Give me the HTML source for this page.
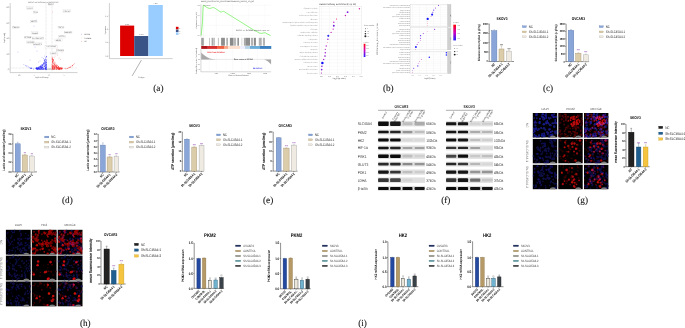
<!DOCTYPE html>
<html><head><meta charset="utf-8"><style>
html,body{margin:0;padding:0;background:#fff;}
body{width:685px;height:328px;overflow:hidden;}
svg{display:block;font-family:"Liberation Sans",sans-serif;text-rendering:geometricPrecision;}
</style></head><body>
<svg width="685" height="328" viewBox="0 0 685 328">
<text x="153.3" y="91.3" font-size="9.2" fill="#111" text-anchor="start" font-weight="normal" font-family="Liberation Serif" stroke="#111" stroke-width="0.1">(a)</text>
<text x="382.9" y="91.3" font-size="9.2" fill="#111" text-anchor="start" font-weight="normal" font-family="Liberation Serif" stroke="#111" stroke-width="0.1">(b)</text>
<text x="542.9" y="91.3" font-size="9.2" fill="#111" text-anchor="start" font-weight="normal" font-family="Liberation Serif" stroke="#111" stroke-width="0.1">(c)</text>
<text x="62" y="203.4" font-size="9.2" fill="#111" text-anchor="start" font-weight="normal" font-family="Liberation Serif" stroke="#111" stroke-width="0.1">(d)</text>
<text x="263" y="203.4" font-size="9.2" fill="#111" text-anchor="start" font-weight="normal" font-family="Liberation Serif" stroke="#111" stroke-width="0.1">(e)</text>
<text x="441.2" y="203.4" font-size="9.2" fill="#111" text-anchor="start" font-weight="normal" font-family="Liberation Serif" stroke="#111" stroke-width="0.1">(f)</text>
<text x="577.3" y="203.4" font-size="9.2" fill="#111" text-anchor="start" font-weight="normal" font-family="Liberation Serif" stroke="#111" stroke-width="0.1">(g)</text>
<text x="79.9" y="326" font-size="9.2" fill="#111" text-anchor="start" font-weight="normal" font-family="Liberation Serif" stroke="#111" stroke-width="0.1">(h)</text>
<text x="358.2" y="326" font-size="9.2" fill="#111" text-anchor="start" font-weight="normal" font-family="Liberation Serif" stroke="#111" stroke-width="0.1">(i)</text>
<text x="28" y="2.6" font-size="1.9" fill="#666" text-anchor="start" font-weight="normal" font-family="Liberation Sans">SKOV3-sh-SLC45A4 vs SKOV3-NC</text>
<line x1="10.2" y1="3" x2="10.2" y2="72.6" stroke="#777" stroke-width="0.35"/>
<line x1="10.2" y1="72.6" x2="77.5" y2="72.6" stroke="#777" stroke-width="0.35"/>
<text x="8.8" y="8" font-size="2" fill="#666" text-anchor="end" font-weight="normal" font-family="Liberation Sans">80</text>
<line x1="9.4" y1="7.3" x2="10.2" y2="7.3" stroke="#777" stroke-width="0.3"/>
<text x="8.8" y="23.6" font-size="2" fill="#666" text-anchor="end" font-weight="normal" font-family="Liberation Sans">60</text>
<line x1="9.4" y1="22.9" x2="10.2" y2="22.9" stroke="#777" stroke-width="0.3"/>
<text x="8.8" y="39.2" font-size="2" fill="#666" text-anchor="end" font-weight="normal" font-family="Liberation Sans">40</text>
<line x1="9.4" y1="38.5" x2="10.2" y2="38.5" stroke="#777" stroke-width="0.3"/>
<text x="8.8" y="54.8" font-size="2" fill="#666" text-anchor="end" font-weight="normal" font-family="Liberation Sans">20</text>
<line x1="9.4" y1="54.1" x2="10.2" y2="54.1" stroke="#777" stroke-width="0.3"/>
<text x="8.8" y="70.4" font-size="2" fill="#666" text-anchor="end" font-weight="normal" font-family="Liberation Sans">0</text>
<line x1="9.4" y1="69.7" x2="10.2" y2="69.7" stroke="#777" stroke-width="0.3"/>
<text x="19" y="75.6" font-size="2" fill="#666" text-anchor="middle" font-weight="normal" font-family="Liberation Sans">-10</text>
<text x="34" y="75.6" font-size="2" fill="#666" text-anchor="middle" font-weight="normal" font-family="Liberation Sans">-5</text>
<text x="49" y="75.6" font-size="2" fill="#666" text-anchor="middle" font-weight="normal" font-family="Liberation Sans">0</text>
<text x="64" y="75.6" font-size="2" fill="#666" text-anchor="middle" font-weight="normal" font-family="Liberation Sans">5</text>
<text x="42" y="78.2" font-size="1.9" fill="#666" text-anchor="middle" font-weight="normal" font-family="Liberation Sans">log2FoldChange</text>
<text x="4.5" y="38" font-size="1.9" fill="#666" text-anchor="middle" font-weight="normal" font-family="Liberation Sans" transform="rotate(-90 4.5 38)">-log10(padj)</text>
<line x1="46" y1="3" x2="46" y2="72" stroke="#999" stroke-width="0.25" stroke-dasharray="0.8 0.6"/>
<line x1="52" y1="3" x2="52" y2="72" stroke="#999" stroke-width="0.25" stroke-dasharray="0.8 0.6"/>
<line x1="10.5" y1="68" x2="77" y2="68" stroke="#999" stroke-width="0.25" stroke-dasharray="0.8 0.6"/>
<circle cx="41.04" cy="69.09" r="0.32" fill="#cccccc"/>
<circle cx="50.46" cy="68.62" r="0.32" fill="#cccccc"/>
<circle cx="39.13" cy="69.07" r="0.32" fill="#cccccc"/>
<circle cx="56.22" cy="68.98" r="0.32" fill="#cccccc"/>
<circle cx="53.42" cy="69.08" r="0.32" fill="#cccccc"/>
<circle cx="49.16" cy="69.59" r="0.32" fill="#cccccc"/>
<circle cx="49.16" cy="69.09" r="0.32" fill="#cccccc"/>
<circle cx="48.19" cy="69.41" r="0.32" fill="#cccccc"/>
<circle cx="56.27" cy="68.92" r="0.32" fill="#cccccc"/>
<circle cx="45.25" cy="69.26" r="0.32" fill="#cccccc"/>
<circle cx="47.68" cy="69.51" r="0.32" fill="#cccccc"/>
<circle cx="59.49" cy="69.35" r="0.32" fill="#cccccc"/>
<circle cx="46.91" cy="68.94" r="0.32" fill="#cccccc"/>
<circle cx="61.59" cy="68.93" r="0.32" fill="#cccccc"/>
<circle cx="45.65" cy="69.53" r="0.32" fill="#cccccc"/>
<circle cx="45.82" cy="68.3" r="0.32" fill="#cccccc"/>
<circle cx="51.63" cy="69.36" r="0.32" fill="#cccccc"/>
<circle cx="51.45" cy="69.12" r="0.32" fill="#cccccc"/>
<circle cx="45.97" cy="69.54" r="0.32" fill="#cccccc"/>
<circle cx="60.94" cy="68.25" r="0.32" fill="#cccccc"/>
<circle cx="51.1" cy="68.79" r="0.32" fill="#cccccc"/>
<circle cx="52.7" cy="68.45" r="0.32" fill="#cccccc"/>
<circle cx="51.25" cy="69.51" r="0.32" fill="#cccccc"/>
<circle cx="48.34" cy="69.09" r="0.32" fill="#cccccc"/>
<circle cx="57.18" cy="68.89" r="0.32" fill="#cccccc"/>
<circle cx="48.38" cy="69.29" r="0.32" fill="#cccccc"/>
<circle cx="45.07" cy="68.27" r="0.32" fill="#cccccc"/>
<circle cx="47.09" cy="69.52" r="0.32" fill="#cccccc"/>
<circle cx="49.72" cy="69.09" r="0.32" fill="#cccccc"/>
<circle cx="48.19" cy="69.22" r="0.32" fill="#cccccc"/>
<circle cx="50.54" cy="69.2" r="0.32" fill="#cccccc"/>
<circle cx="44.48" cy="68.69" r="0.32" fill="#cccccc"/>
<circle cx="43.87" cy="68.97" r="0.32" fill="#cccccc"/>
<circle cx="53.99" cy="69.07" r="0.32" fill="#cccccc"/>
<circle cx="49.56" cy="69.1" r="0.32" fill="#cccccc"/>
<circle cx="55.64" cy="69.2" r="0.32" fill="#cccccc"/>
<circle cx="47.8" cy="68.75" r="0.32" fill="#cccccc"/>
<circle cx="61.05" cy="68.68" r="0.32" fill="#cccccc"/>
<circle cx="43.3" cy="69.33" r="0.32" fill="#cccccc"/>
<circle cx="47.51" cy="69.56" r="0.32" fill="#cccccc"/>
<circle cx="45.69" cy="69.31" r="0.32" fill="#cccccc"/>
<circle cx="48.95" cy="68.52" r="0.32" fill="#cccccc"/>
<circle cx="52.5" cy="69.34" r="0.32" fill="#cccccc"/>
<circle cx="49.13" cy="69.15" r="0.32" fill="#cccccc"/>
<circle cx="47.85" cy="68.86" r="0.32" fill="#cccccc"/>
<circle cx="53.15" cy="68.42" r="0.32" fill="#cccccc"/>
<circle cx="50.3" cy="69.59" r="0.32" fill="#cccccc"/>
<circle cx="40.91" cy="69.36" r="0.32" fill="#cccccc"/>
<circle cx="40.38" cy="68.68" r="0.32" fill="#cccccc"/>
<circle cx="45.85" cy="69.6" r="0.32" fill="#cccccc"/>
<circle cx="42.25" cy="69.3" r="0.32" fill="#cccccc"/>
<circle cx="44.34" cy="68.92" r="0.32" fill="#cccccc"/>
<circle cx="50.24" cy="68.89" r="0.32" fill="#cccccc"/>
<circle cx="39.34" cy="69.56" r="0.32" fill="#cccccc"/>
<circle cx="46.57" cy="68.93" r="0.32" fill="#cccccc"/>
<circle cx="51.95" cy="69.49" r="0.32" fill="#cccccc"/>
<circle cx="49.56" cy="69.25" r="0.32" fill="#cccccc"/>
<circle cx="46.15" cy="69.32" r="0.32" fill="#cccccc"/>
<circle cx="40.99" cy="69.22" r="0.32" fill="#cccccc"/>
<circle cx="51.02" cy="68.57" r="0.32" fill="#cccccc"/>
<circle cx="49.51" cy="68.91" r="0.32" fill="#cccccc"/>
<circle cx="50.18" cy="68.82" r="0.32" fill="#cccccc"/>
<circle cx="47.66" cy="69.6" r="0.32" fill="#cccccc"/>
<circle cx="42.5" cy="69.06" r="0.32" fill="#cccccc"/>
<circle cx="39.88" cy="69.06" r="0.32" fill="#cccccc"/>
<circle cx="50.22" cy="69.29" r="0.32" fill="#cccccc"/>
<circle cx="54.82" cy="69.52" r="0.32" fill="#cccccc"/>
<circle cx="44.05" cy="69.34" r="0.32" fill="#cccccc"/>
<circle cx="48.27" cy="68.53" r="0.32" fill="#cccccc"/>
<circle cx="58.79" cy="69.02" r="0.32" fill="#cccccc"/>
<circle cx="43.32" cy="69.28" r="0.32" fill="#cccccc"/>
<circle cx="49.95" cy="69.17" r="0.32" fill="#cccccc"/>
<circle cx="51.62" cy="69.19" r="0.32" fill="#cccccc"/>
<circle cx="53.19" cy="69.46" r="0.32" fill="#cccccc"/>
<circle cx="44.58" cy="69.09" r="0.32" fill="#cccccc"/>
<circle cx="48.38" cy="68.8" r="0.32" fill="#cccccc"/>
<circle cx="56.87" cy="69.01" r="0.32" fill="#cccccc"/>
<circle cx="50.81" cy="69.19" r="0.32" fill="#cccccc"/>
<circle cx="53.11" cy="68.82" r="0.32" fill="#cccccc"/>
<circle cx="53.28" cy="68.68" r="0.32" fill="#cccccc"/>
<circle cx="53.77" cy="69.37" r="0.32" fill="#cccccc"/>
<circle cx="46.7" cy="69.28" r="0.32" fill="#cccccc"/>
<circle cx="50.44" cy="69.57" r="0.32" fill="#cccccc"/>
<circle cx="40.56" cy="69.53" r="0.32" fill="#cccccc"/>
<circle cx="51.78" cy="69.57" r="0.32" fill="#cccccc"/>
<circle cx="41.06" cy="69.33" r="0.32" fill="#cccccc"/>
<circle cx="52.6" cy="69.49" r="0.32" fill="#cccccc"/>
<circle cx="51.13" cy="69.39" r="0.32" fill="#cccccc"/>
<circle cx="45.71" cy="69.29" r="0.32" fill="#cccccc"/>
<circle cx="47.23" cy="69.49" r="0.32" fill="#cccccc"/>
<circle cx="65.28" cy="69.17" r="0.32" fill="#cccccc"/>
<circle cx="49.68" cy="68.63" r="0.32" fill="#cccccc"/>
<circle cx="49.48" cy="69.15" r="0.32" fill="#cccccc"/>
<circle cx="45.48" cy="69.46" r="0.32" fill="#cccccc"/>
<circle cx="37.73" cy="69.27" r="0.32" fill="#cccccc"/>
<circle cx="46.02" cy="69.19" r="0.32" fill="#cccccc"/>
<circle cx="55.82" cy="69.5" r="0.32" fill="#cccccc"/>
<circle cx="53.92" cy="69.45" r="0.32" fill="#cccccc"/>
<circle cx="47.98" cy="69.43" r="0.32" fill="#cccccc"/>
<circle cx="44.74" cy="68.83" r="0.32" fill="#cccccc"/>
<circle cx="53.4" cy="69" r="0.32" fill="#cccccc"/>
<circle cx="53.21" cy="69.16" r="0.32" fill="#cccccc"/>
<circle cx="41.47" cy="68.88" r="0.32" fill="#cccccc"/>
<circle cx="42.6" cy="68.89" r="0.32" fill="#cccccc"/>
<circle cx="50" cy="69.06" r="0.32" fill="#cccccc"/>
<circle cx="51.56" cy="68.91" r="0.32" fill="#cccccc"/>
<circle cx="50.74" cy="69.25" r="0.32" fill="#cccccc"/>
<circle cx="50.24" cy="68.94" r="0.32" fill="#cccccc"/>
<circle cx="47.04" cy="68.99" r="0.32" fill="#cccccc"/>
<circle cx="56.53" cy="69.56" r="0.32" fill="#cccccc"/>
<circle cx="51.2" cy="69.29" r="0.32" fill="#cccccc"/>
<circle cx="47.56" cy="69.44" r="0.32" fill="#cccccc"/>
<circle cx="47.29" cy="69.07" r="0.32" fill="#cccccc"/>
<circle cx="48.85" cy="69.49" r="0.32" fill="#cccccc"/>
<circle cx="50.62" cy="69.17" r="0.32" fill="#cccccc"/>
<circle cx="40.13" cy="68.75" r="0.32" fill="#cccccc"/>
<circle cx="48.14" cy="69.14" r="0.32" fill="#cccccc"/>
<circle cx="47.14" cy="69.33" r="0.32" fill="#cccccc"/>
<circle cx="53.35" cy="69.38" r="0.32" fill="#cccccc"/>
<circle cx="49.79" cy="68.64" r="0.32" fill="#cccccc"/>
<circle cx="43.37" cy="65.95" r="0.32" fill="#2626f5"/>
<circle cx="37.18" cy="68.73" r="0.32" fill="#2626f5"/>
<circle cx="42.76" cy="66.17" r="0.32" fill="#2626f5"/>
<circle cx="45.76" cy="64.56" r="0.32" fill="#2626f5"/>
<circle cx="41.3" cy="65.96" r="0.32" fill="#2626f5"/>
<circle cx="46.29" cy="66.8" r="0.32" fill="#2626f5"/>
<circle cx="46.31" cy="59.38" r="0.32" fill="#2626f5"/>
<circle cx="40.48" cy="69.26" r="0.32" fill="#2626f5"/>
<circle cx="36.28" cy="67.87" r="0.32" fill="#2626f5"/>
<circle cx="40.99" cy="67.13" r="0.32" fill="#2626f5"/>
<circle cx="45.94" cy="69.27" r="0.32" fill="#2626f5"/>
<circle cx="42.53" cy="69.18" r="0.32" fill="#2626f5"/>
<circle cx="45.72" cy="67.65" r="0.32" fill="#2626f5"/>
<circle cx="46.54" cy="64.57" r="0.32" fill="#2626f5"/>
<circle cx="43.5" cy="63.2" r="0.32" fill="#2626f5"/>
<circle cx="42.64" cy="65.87" r="0.32" fill="#2626f5"/>
<circle cx="42.85" cy="65.52" r="0.32" fill="#2626f5"/>
<circle cx="43.32" cy="68.06" r="0.32" fill="#2626f5"/>
<circle cx="36.04" cy="67.81" r="0.32" fill="#2626f5"/>
<circle cx="38.44" cy="67.97" r="0.32" fill="#2626f5"/>
<circle cx="44.72" cy="68.03" r="0.32" fill="#2626f5"/>
<circle cx="44.95" cy="69.05" r="0.32" fill="#2626f5"/>
<circle cx="39.49" cy="68.51" r="0.32" fill="#2626f5"/>
<circle cx="38.34" cy="68.74" r="0.32" fill="#2626f5"/>
<circle cx="36.66" cy="68.07" r="0.32" fill="#2626f5"/>
<circle cx="46.6" cy="67.73" r="0.32" fill="#2626f5"/>
<circle cx="37.39" cy="68.7" r="0.32" fill="#2626f5"/>
<circle cx="36.31" cy="68.88" r="0.32" fill="#2626f5"/>
<circle cx="46.39" cy="62.23" r="0.32" fill="#2626f5"/>
<circle cx="39.32" cy="68.86" r="0.32" fill="#2626f5"/>
<circle cx="46.33" cy="66.44" r="0.32" fill="#2626f5"/>
<circle cx="36.57" cy="68.26" r="0.32" fill="#2626f5"/>
<circle cx="46.17" cy="67.47" r="0.32" fill="#2626f5"/>
<circle cx="46.26" cy="69.04" r="0.32" fill="#2626f5"/>
<circle cx="39.06" cy="69.07" r="0.32" fill="#2626f5"/>
<circle cx="42.17" cy="67.44" r="0.32" fill="#2626f5"/>
<circle cx="45.72" cy="61.54" r="0.32" fill="#2626f5"/>
<circle cx="46.1" cy="62.37" r="0.32" fill="#2626f5"/>
<circle cx="46.18" cy="65.42" r="0.32" fill="#2626f5"/>
<circle cx="45.56" cy="67.44" r="0.32" fill="#2626f5"/>
<circle cx="36.46" cy="68.18" r="0.32" fill="#2626f5"/>
<circle cx="44.82" cy="60.74" r="0.32" fill="#2626f5"/>
<circle cx="45.57" cy="66.12" r="0.32" fill="#2626f5"/>
<circle cx="38.23" cy="68.2" r="0.32" fill="#2626f5"/>
<circle cx="46.26" cy="56.28" r="0.32" fill="#2626f5"/>
<circle cx="45.56" cy="67.55" r="0.32" fill="#2626f5"/>
<circle cx="39.4" cy="68.71" r="0.32" fill="#2626f5"/>
<circle cx="44.89" cy="69.03" r="0.32" fill="#2626f5"/>
<circle cx="46.31" cy="63.04" r="0.32" fill="#2626f5"/>
<circle cx="45.33" cy="63.81" r="0.32" fill="#2626f5"/>
<circle cx="44.2" cy="66.34" r="0.32" fill="#2626f5"/>
<circle cx="36.64" cy="68.74" r="0.32" fill="#2626f5"/>
<circle cx="41.98" cy="64.81" r="0.32" fill="#2626f5"/>
<circle cx="45.77" cy="68.42" r="0.32" fill="#2626f5"/>
<circle cx="37.42" cy="68" r="0.32" fill="#2626f5"/>
<circle cx="45.28" cy="68.22" r="0.32" fill="#2626f5"/>
<circle cx="39.86" cy="66.4" r="0.32" fill="#2626f5"/>
<circle cx="45.68" cy="58.21" r="0.32" fill="#2626f5"/>
<circle cx="37.82" cy="68.38" r="0.32" fill="#2626f5"/>
<circle cx="43.7" cy="68.96" r="0.32" fill="#2626f5"/>
<circle cx="46.52" cy="56.21" r="0.32" fill="#2626f5"/>
<circle cx="45.37" cy="62.4" r="0.32" fill="#2626f5"/>
<circle cx="45.22" cy="60.95" r="0.32" fill="#2626f5"/>
<circle cx="41.72" cy="68.38" r="0.32" fill="#2626f5"/>
<circle cx="45.82" cy="61.57" r="0.32" fill="#2626f5"/>
<circle cx="46.41" cy="67.59" r="0.32" fill="#2626f5"/>
<circle cx="42.17" cy="64.72" r="0.32" fill="#2626f5"/>
<circle cx="41.5" cy="68.48" r="0.32" fill="#2626f5"/>
<circle cx="37.29" cy="69.12" r="0.32" fill="#2626f5"/>
<circle cx="46.58" cy="67.08" r="0.32" fill="#2626f5"/>
<circle cx="43.45" cy="69.15" r="0.32" fill="#2626f5"/>
<circle cx="45.82" cy="66.28" r="0.32" fill="#2626f5"/>
<circle cx="42.01" cy="68.98" r="0.32" fill="#2626f5"/>
<circle cx="44.29" cy="61.52" r="0.32" fill="#2626f5"/>
<circle cx="36.31" cy="68.46" r="0.32" fill="#2626f5"/>
<circle cx="40.51" cy="67.53" r="0.32" fill="#2626f5"/>
<circle cx="46.04" cy="69.18" r="0.32" fill="#2626f5"/>
<circle cx="46.57" cy="57.08" r="0.32" fill="#2626f5"/>
<circle cx="40.38" cy="65.85" r="0.32" fill="#2626f5"/>
<circle cx="46.57" cy="61.91" r="0.32" fill="#2626f5"/>
<circle cx="43.05" cy="64.77" r="0.32" fill="#2626f5"/>
<circle cx="44.69" cy="59.41" r="0.32" fill="#2626f5"/>
<circle cx="46.38" cy="63.52" r="0.32" fill="#2626f5"/>
<circle cx="39.89" cy="66.55" r="0.32" fill="#2626f5"/>
<circle cx="39.89" cy="67.35" r="0.32" fill="#2626f5"/>
<circle cx="39.11" cy="67.02" r="0.32" fill="#2626f5"/>
<circle cx="44.39" cy="63.81" r="0.32" fill="#2626f5"/>
<circle cx="37.54" cy="67.85" r="0.32" fill="#2626f5"/>
<circle cx="43.74" cy="63.42" r="0.32" fill="#2626f5"/>
<circle cx="38.09" cy="68.39" r="0.32" fill="#2626f5"/>
<circle cx="41.36" cy="68.08" r="0.32" fill="#2626f5"/>
<circle cx="41.89" cy="66.63" r="0.32" fill="#2626f5"/>
<circle cx="46.36" cy="62.11" r="0.32" fill="#2626f5"/>
<circle cx="36.11" cy="68.05" r="0.32" fill="#2626f5"/>
<circle cx="40.01" cy="68.42" r="0.32" fill="#2626f5"/>
<circle cx="39.92" cy="67.8" r="0.32" fill="#2626f5"/>
<circle cx="43.5" cy="63.24" r="0.32" fill="#2626f5"/>
<circle cx="46.34" cy="60.34" r="0.32" fill="#2626f5"/>
<circle cx="46.55" cy="62.49" r="0.32" fill="#2626f5"/>
<circle cx="43.06" cy="68.4" r="0.32" fill="#2626f5"/>
<circle cx="40.41" cy="67.92" r="0.32" fill="#2626f5"/>
<circle cx="41.49" cy="64.97" r="0.32" fill="#2626f5"/>
<circle cx="45.23" cy="69.28" r="0.32" fill="#2626f5"/>
<circle cx="44.85" cy="63.37" r="0.32" fill="#2626f5"/>
<circle cx="45.63" cy="68.31" r="0.32" fill="#2626f5"/>
<circle cx="37.46" cy="68.33" r="0.32" fill="#2626f5"/>
<circle cx="43.49" cy="62.71" r="0.32" fill="#2626f5"/>
<circle cx="44.62" cy="63.77" r="0.32" fill="#2626f5"/>
<circle cx="45.66" cy="65.64" r="0.32" fill="#2626f5"/>
<circle cx="38.93" cy="67.13" r="0.32" fill="#2626f5"/>
<circle cx="37.85" cy="68.81" r="0.32" fill="#2626f5"/>
<circle cx="41.88" cy="68.23" r="0.32" fill="#2626f5"/>
<circle cx="46.07" cy="64.51" r="0.32" fill="#2626f5"/>
<circle cx="38.48" cy="67.56" r="0.32" fill="#2626f5"/>
<circle cx="40.24" cy="66.04" r="0.32" fill="#2626f5"/>
<circle cx="45.06" cy="68.42" r="0.32" fill="#2626f5"/>
<circle cx="43.39" cy="68.06" r="0.32" fill="#2626f5"/>
<circle cx="45.55" cy="65.91" r="0.32" fill="#2626f5"/>
<circle cx="41.35" cy="67.55" r="0.32" fill="#2626f5"/>
<circle cx="44.72" cy="61.51" r="0.32" fill="#2626f5"/>
<circle cx="36.28" cy="68.8" r="0.32" fill="#2626f5"/>
<circle cx="46.38" cy="69.19" r="0.32" fill="#2626f5"/>
<circle cx="37.96" cy="69.28" r="0.32" fill="#2626f5"/>
<circle cx="40.28" cy="67.69" r="0.32" fill="#2626f5"/>
<circle cx="44.78" cy="62.04" r="0.32" fill="#2626f5"/>
<circle cx="46.57" cy="68.45" r="0.32" fill="#2626f5"/>
<circle cx="43.35" cy="69.26" r="0.32" fill="#2626f5"/>
<circle cx="38.59" cy="69" r="0.32" fill="#2626f5"/>
<circle cx="46.04" cy="69.12" r="0.32" fill="#2626f5"/>
<circle cx="41.31" cy="67.8" r="0.32" fill="#2626f5"/>
<circle cx="41.3" cy="66.74" r="0.32" fill="#2626f5"/>
<circle cx="38.91" cy="67" r="0.32" fill="#2626f5"/>
<circle cx="40.6" cy="68.9" r="0.32" fill="#2626f5"/>
<circle cx="43.13" cy="68.66" r="0.32" fill="#2626f5"/>
<circle cx="46.59" cy="64.41" r="0.32" fill="#2626f5"/>
<circle cx="40.2" cy="68.99" r="0.32" fill="#2626f5"/>
<circle cx="45.09" cy="66.88" r="0.32" fill="#2626f5"/>
<circle cx="40.43" cy="67.82" r="0.32" fill="#2626f5"/>
<circle cx="41.49" cy="66.01" r="0.32" fill="#2626f5"/>
<circle cx="43.98" cy="63.1" r="0.32" fill="#2626f5"/>
<circle cx="37.46" cy="69.24" r="0.32" fill="#2626f5"/>
<circle cx="37.05" cy="68.27" r="0.32" fill="#2626f5"/>
<circle cx="46.1" cy="65.05" r="0.32" fill="#2626f5"/>
<circle cx="41.36" cy="65.19" r="0.32" fill="#2626f5"/>
<circle cx="44.15" cy="65.27" r="0.32" fill="#2626f5"/>
<circle cx="37.86" cy="67.93" r="0.32" fill="#2626f5"/>
<circle cx="36.87" cy="68.76" r="0.32" fill="#2626f5"/>
<circle cx="41.03" cy="68.83" r="0.32" fill="#2626f5"/>
<circle cx="40.1" cy="66.76" r="0.32" fill="#2626f5"/>
<circle cx="41.15" cy="66.5" r="0.32" fill="#2626f5"/>
<circle cx="45.56" cy="59.24" r="0.32" fill="#2626f5"/>
<circle cx="36.31" cy="67.84" r="0.32" fill="#2626f5"/>
<circle cx="42.43" cy="64.91" r="0.32" fill="#2626f5"/>
<circle cx="44.68" cy="60.64" r="0.32" fill="#2626f5"/>
<circle cx="38.21" cy="68.83" r="0.32" fill="#2626f5"/>
<circle cx="46.35" cy="65.04" r="0.32" fill="#2626f5"/>
<circle cx="42.27" cy="65.24" r="0.32" fill="#2626f5"/>
<circle cx="42.99" cy="69.25" r="0.32" fill="#2626f5"/>
<circle cx="38.88" cy="69.25" r="0.32" fill="#2626f5"/>
<circle cx="39.02" cy="69.08" r="0.32" fill="#2626f5"/>
<circle cx="44.54" cy="62.41" r="0.32" fill="#2626f5"/>
<circle cx="46.04" cy="68.42" r="0.32" fill="#2626f5"/>
<circle cx="42.67" cy="65.2" r="0.32" fill="#2626f5"/>
<circle cx="38.44" cy="68.02" r="0.32" fill="#2626f5"/>
<circle cx="36.85" cy="68.71" r="0.32" fill="#2626f5"/>
<circle cx="36.8" cy="69.25" r="0.32" fill="#2626f5"/>
<circle cx="45.5" cy="64.6" r="0.32" fill="#2626f5"/>
<circle cx="44.94" cy="62.62" r="0.32" fill="#2626f5"/>
<circle cx="41.19" cy="67.49" r="0.32" fill="#2626f5"/>
<circle cx="38.39" cy="68.35" r="0.32" fill="#2626f5"/>
<circle cx="44.76" cy="66.7" r="0.32" fill="#2626f5"/>
<circle cx="38.36" cy="67.47" r="0.32" fill="#2626f5"/>
<circle cx="45.59" cy="59.94" r="0.32" fill="#2626f5"/>
<circle cx="36.5" cy="68.68" r="0.32" fill="#2626f5"/>
<circle cx="42" cy="68.72" r="0.32" fill="#2626f5"/>
<circle cx="42.44" cy="66.96" r="0.32" fill="#2626f5"/>
<circle cx="41.61" cy="69.27" r="0.32" fill="#2626f5"/>
<circle cx="36.48" cy="68.7" r="0.32" fill="#2626f5"/>
<circle cx="43.91" cy="63.09" r="0.32" fill="#2626f5"/>
<circle cx="42.12" cy="67.2" r="0.32" fill="#2626f5"/>
<circle cx="40.51" cy="69.22" r="0.32" fill="#2626f5"/>
<circle cx="42.41" cy="67.54" r="0.32" fill="#2626f5"/>
<circle cx="36.68" cy="67.91" r="0.32" fill="#2626f5"/>
<circle cx="45.12" cy="65.53" r="0.32" fill="#2626f5"/>
<circle cx="46.12" cy="65.3" r="0.32" fill="#2626f5"/>
<circle cx="38.79" cy="67.26" r="0.32" fill="#2626f5"/>
<circle cx="43.11" cy="67.87" r="0.32" fill="#2626f5"/>
<circle cx="45.71" cy="63.19" r="0.32" fill="#2626f5"/>
<circle cx="37.17" cy="69.21" r="0.32" fill="#2626f5"/>
<circle cx="39.31" cy="69.29" r="0.32" fill="#2626f5"/>
<circle cx="45.69" cy="67.8" r="0.32" fill="#2626f5"/>
<circle cx="40.56" cy="68.52" r="0.32" fill="#2626f5"/>
<circle cx="44.35" cy="64.56" r="0.32" fill="#2626f5"/>
<circle cx="46.24" cy="60.81" r="0.32" fill="#2626f5"/>
<circle cx="46.14" cy="64.25" r="0.32" fill="#2626f5"/>
<circle cx="45.27" cy="68.16" r="0.32" fill="#2626f5"/>
<circle cx="42.51" cy="67.35" r="0.32" fill="#2626f5"/>
<circle cx="44.16" cy="66.71" r="0.32" fill="#2626f5"/>
<circle cx="42.52" cy="68.82" r="0.32" fill="#2626f5"/>
<circle cx="45.62" cy="63.1" r="0.32" fill="#2626f5"/>
<circle cx="41.19" cy="67.45" r="0.32" fill="#2626f5"/>
<circle cx="38.27" cy="68.26" r="0.32" fill="#2626f5"/>
<circle cx="38.19" cy="69.04" r="0.32" fill="#2626f5"/>
<circle cx="39.84" cy="66.96" r="0.32" fill="#2626f5"/>
<circle cx="37.51" cy="68.95" r="0.32" fill="#2626f5"/>
<circle cx="44.73" cy="60.39" r="0.32" fill="#2626f5"/>
<circle cx="45.52" cy="57.74" r="0.32" fill="#2626f5"/>
<circle cx="37.74" cy="69.19" r="0.32" fill="#2626f5"/>
<circle cx="45.36" cy="62.11" r="0.32" fill="#2626f5"/>
<circle cx="45.2" cy="68.88" r="0.32" fill="#2626f5"/>
<circle cx="38.55" cy="68.64" r="0.32" fill="#2626f5"/>
<circle cx="39.16" cy="69.16" r="0.32" fill="#2626f5"/>
<circle cx="43.89" cy="64.34" r="0.32" fill="#2626f5"/>
<circle cx="46.57" cy="67.83" r="0.32" fill="#2626f5"/>
<circle cx="40.62" cy="65.89" r="0.32" fill="#2626f5"/>
<circle cx="36.5" cy="69.23" r="0.32" fill="#2626f5"/>
<circle cx="42.79" cy="64.8" r="0.32" fill="#2626f5"/>
<circle cx="42.82" cy="65.36" r="0.32" fill="#2626f5"/>
<circle cx="45.73" cy="69.01" r="0.32" fill="#2626f5"/>
<circle cx="46.23" cy="69.17" r="0.32" fill="#2626f5"/>
<circle cx="42.26" cy="66.99" r="0.32" fill="#2626f5"/>
<circle cx="42.05" cy="68.92" r="0.32" fill="#2626f5"/>
<circle cx="45.76" cy="67.99" r="0.32" fill="#2626f5"/>
<circle cx="38.44" cy="67.17" r="0.32" fill="#2626f5"/>
<circle cx="37.14" cy="69.24" r="0.32" fill="#2626f5"/>
<circle cx="46.44" cy="56.6" r="0.32" fill="#2626f5"/>
<circle cx="43.27" cy="64.23" r="0.32" fill="#2626f5"/>
<circle cx="44.62" cy="65.94" r="0.32" fill="#2626f5"/>
<circle cx="42.68" cy="67.32" r="0.32" fill="#2626f5"/>
<circle cx="41.66" cy="69.29" r="0.32" fill="#2626f5"/>
<circle cx="40.38" cy="66.43" r="0.32" fill="#2626f5"/>
<circle cx="45.78" cy="65.28" r="0.32" fill="#2626f5"/>
<circle cx="39.86" cy="68.41" r="0.32" fill="#2626f5"/>
<circle cx="45.69" cy="68.34" r="0.32" fill="#2626f5"/>
<circle cx="42.71" cy="69.28" r="0.32" fill="#2626f5"/>
<circle cx="37.65" cy="67.98" r="0.32" fill="#2626f5"/>
<circle cx="40.33" cy="66.39" r="0.32" fill="#2626f5"/>
<circle cx="41.31" cy="67.99" r="0.32" fill="#2626f5"/>
<circle cx="41.68" cy="67.35" r="0.32" fill="#2626f5"/>
<circle cx="36.27" cy="68.19" r="0.32" fill="#2626f5"/>
<circle cx="45.21" cy="59.7" r="0.32" fill="#2626f5"/>
<circle cx="39.79" cy="67.12" r="0.32" fill="#2626f5"/>
<circle cx="38.81" cy="68.63" r="0.32" fill="#2626f5"/>
<circle cx="37.6" cy="67.81" r="0.32" fill="#2626f5"/>
<circle cx="40.46" cy="66.74" r="0.32" fill="#2626f5"/>
<circle cx="39.5" cy="68.49" r="0.32" fill="#2626f5"/>
<circle cx="40.09" cy="69.22" r="0.32" fill="#2626f5"/>
<circle cx="44.48" cy="66.01" r="0.32" fill="#2626f5"/>
<circle cx="46.59" cy="66.01" r="0.32" fill="#2626f5"/>
<circle cx="41.19" cy="66.98" r="0.32" fill="#2626f5"/>
<circle cx="53.14" cy="59.9" r="0.32" fill="#f52626"/>
<circle cx="57.55" cy="68.47" r="0.32" fill="#f52626"/>
<circle cx="57.47" cy="67.54" r="0.32" fill="#f52626"/>
<circle cx="55.97" cy="67.8" r="0.32" fill="#f52626"/>
<circle cx="62.2" cy="68.49" r="0.32" fill="#f52626"/>
<circle cx="57.99" cy="66.99" r="0.32" fill="#f52626"/>
<circle cx="61.9" cy="69.29" r="0.32" fill="#f52626"/>
<circle cx="56.92" cy="66.39" r="0.32" fill="#f52626"/>
<circle cx="53.33" cy="66.56" r="0.32" fill="#f52626"/>
<circle cx="52.12" cy="68.05" r="0.32" fill="#f52626"/>
<circle cx="54.35" cy="68.99" r="0.32" fill="#f52626"/>
<circle cx="53.28" cy="60.67" r="0.32" fill="#f52626"/>
<circle cx="56.16" cy="67.23" r="0.32" fill="#f52626"/>
<circle cx="61.7" cy="68.61" r="0.32" fill="#f52626"/>
<circle cx="62.13" cy="68.5" r="0.32" fill="#f52626"/>
<circle cx="59.43" cy="69.24" r="0.32" fill="#f52626"/>
<circle cx="56.71" cy="66.11" r="0.32" fill="#f52626"/>
<circle cx="52.1" cy="58.19" r="0.32" fill="#f52626"/>
<circle cx="52.65" cy="65.41" r="0.32" fill="#f52626"/>
<circle cx="52.71" cy="65.18" r="0.32" fill="#f52626"/>
<circle cx="56.87" cy="69.22" r="0.32" fill="#f52626"/>
<circle cx="61.37" cy="68.83" r="0.32" fill="#f52626"/>
<circle cx="55.9" cy="66.53" r="0.32" fill="#f52626"/>
<circle cx="54.25" cy="67.88" r="0.32" fill="#f52626"/>
<circle cx="57.41" cy="67.55" r="0.32" fill="#f52626"/>
<circle cx="53.54" cy="63.39" r="0.32" fill="#f52626"/>
<circle cx="53.64" cy="69.28" r="0.32" fill="#f52626"/>
<circle cx="53.24" cy="69.18" r="0.32" fill="#f52626"/>
<circle cx="52.63" cy="61.76" r="0.32" fill="#f52626"/>
<circle cx="54.48" cy="62.6" r="0.32" fill="#f52626"/>
<circle cx="58.6" cy="69.26" r="0.32" fill="#f52626"/>
<circle cx="62.03" cy="67.91" r="0.32" fill="#f52626"/>
<circle cx="52.2" cy="58.8" r="0.32" fill="#f52626"/>
<circle cx="54.87" cy="66.75" r="0.32" fill="#f52626"/>
<circle cx="61.79" cy="69.09" r="0.32" fill="#f52626"/>
<circle cx="55.86" cy="64.05" r="0.32" fill="#f52626"/>
<circle cx="58.27" cy="68.22" r="0.32" fill="#f52626"/>
<circle cx="61.88" cy="68.16" r="0.32" fill="#f52626"/>
<circle cx="56.78" cy="69.08" r="0.32" fill="#f52626"/>
<circle cx="57.03" cy="67.86" r="0.32" fill="#f52626"/>
<circle cx="52.94" cy="69.13" r="0.32" fill="#f52626"/>
<circle cx="55.91" cy="68.99" r="0.32" fill="#f52626"/>
<circle cx="55.01" cy="65.34" r="0.32" fill="#f52626"/>
<circle cx="55.14" cy="68.26" r="0.32" fill="#f52626"/>
<circle cx="56.53" cy="67.85" r="0.32" fill="#f52626"/>
<circle cx="59" cy="68.24" r="0.32" fill="#f52626"/>
<circle cx="62.16" cy="67.9" r="0.32" fill="#f52626"/>
<circle cx="58.42" cy="68.9" r="0.32" fill="#f52626"/>
<circle cx="52.39" cy="59.34" r="0.32" fill="#f52626"/>
<circle cx="59.08" cy="67.99" r="0.32" fill="#f52626"/>
<circle cx="54.2" cy="67.97" r="0.32" fill="#f52626"/>
<circle cx="57.78" cy="67.7" r="0.32" fill="#f52626"/>
<circle cx="56.64" cy="66.79" r="0.32" fill="#f52626"/>
<circle cx="58.67" cy="69.02" r="0.32" fill="#f52626"/>
<circle cx="53.27" cy="59.64" r="0.32" fill="#f52626"/>
<circle cx="60.94" cy="67.91" r="0.32" fill="#f52626"/>
<circle cx="52.08" cy="69.06" r="0.32" fill="#f52626"/>
<circle cx="53.44" cy="66.4" r="0.32" fill="#f52626"/>
<circle cx="57.02" cy="69.12" r="0.32" fill="#f52626"/>
<circle cx="56.07" cy="69.16" r="0.32" fill="#f52626"/>
<circle cx="52.26" cy="62.39" r="0.32" fill="#f52626"/>
<circle cx="56.17" cy="66.49" r="0.32" fill="#f52626"/>
<circle cx="54.33" cy="66.43" r="0.32" fill="#f52626"/>
<circle cx="52.99" cy="66.95" r="0.32" fill="#f52626"/>
<circle cx="58.56" cy="67.03" r="0.32" fill="#f52626"/>
<circle cx="52.21" cy="68.68" r="0.32" fill="#f52626"/>
<circle cx="59.42" cy="68.1" r="0.32" fill="#f52626"/>
<circle cx="58.88" cy="68.99" r="0.32" fill="#f52626"/>
<circle cx="54.82" cy="68.21" r="0.32" fill="#f52626"/>
<circle cx="59.43" cy="68.73" r="0.32" fill="#f52626"/>
<circle cx="57.39" cy="65.41" r="0.32" fill="#f52626"/>
<circle cx="53.89" cy="65.5" r="0.32" fill="#f52626"/>
<circle cx="58.57" cy="66.72" r="0.32" fill="#f52626"/>
<circle cx="54.85" cy="67.51" r="0.32" fill="#f52626"/>
<circle cx="52.31" cy="59.47" r="0.32" fill="#f52626"/>
<circle cx="52.22" cy="68.93" r="0.32" fill="#f52626"/>
<circle cx="56.32" cy="67.43" r="0.32" fill="#f52626"/>
<circle cx="57.79" cy="68.64" r="0.32" fill="#f52626"/>
<circle cx="58.97" cy="69.23" r="0.32" fill="#f52626"/>
<circle cx="53" cy="63.44" r="0.32" fill="#f52626"/>
<circle cx="52.24" cy="67.04" r="0.32" fill="#f52626"/>
<circle cx="58.3" cy="67.43" r="0.32" fill="#f52626"/>
<circle cx="53.53" cy="68.68" r="0.32" fill="#f52626"/>
<circle cx="54.18" cy="64" r="0.32" fill="#f52626"/>
<circle cx="54.26" cy="68.89" r="0.32" fill="#f52626"/>
<circle cx="58.09" cy="67.81" r="0.32" fill="#f52626"/>
<circle cx="60.98" cy="67.78" r="0.32" fill="#f52626"/>
<circle cx="60.9" cy="68.77" r="0.32" fill="#f52626"/>
<circle cx="59.34" cy="68.85" r="0.32" fill="#f52626"/>
<circle cx="53.83" cy="66.83" r="0.32" fill="#f52626"/>
<circle cx="61.22" cy="67.93" r="0.32" fill="#f52626"/>
<circle cx="53.26" cy="66.9" r="0.32" fill="#f52626"/>
<circle cx="54.25" cy="67.32" r="0.32" fill="#f52626"/>
<circle cx="54.54" cy="67.26" r="0.32" fill="#f52626"/>
<circle cx="52.88" cy="64.51" r="0.32" fill="#f52626"/>
<circle cx="59.26" cy="68.28" r="0.32" fill="#f52626"/>
<circle cx="59.8" cy="68.36" r="0.32" fill="#f52626"/>
<circle cx="52.76" cy="61.87" r="0.32" fill="#f52626"/>
<circle cx="60.43" cy="68.99" r="0.32" fill="#f52626"/>
<circle cx="52.03" cy="64.38" r="0.32" fill="#f52626"/>
<circle cx="56.09" cy="66.84" r="0.32" fill="#f52626"/>
<circle cx="61.69" cy="68.46" r="0.32" fill="#f52626"/>
<circle cx="59.36" cy="69.25" r="0.32" fill="#f52626"/>
<circle cx="56.12" cy="65.43" r="0.32" fill="#f52626"/>
<circle cx="52.25" cy="68.94" r="0.32" fill="#f52626"/>
<circle cx="58.45" cy="66.73" r="0.32" fill="#f52626"/>
<circle cx="52.25" cy="62.98" r="0.32" fill="#f52626"/>
<circle cx="52.56" cy="61.78" r="0.32" fill="#f52626"/>
<circle cx="57.33" cy="68.74" r="0.32" fill="#f52626"/>
<circle cx="53.06" cy="62.19" r="0.32" fill="#f52626"/>
<circle cx="55.84" cy="65.33" r="0.32" fill="#f52626"/>
<circle cx="54.53" cy="67.61" r="0.32" fill="#f52626"/>
<circle cx="61.72" cy="68.43" r="0.32" fill="#f52626"/>
<circle cx="55.54" cy="66.7" r="0.32" fill="#f52626"/>
<circle cx="58.24" cy="67.35" r="0.32" fill="#f52626"/>
<circle cx="60.93" cy="68.82" r="0.32" fill="#f52626"/>
<circle cx="59.66" cy="68.06" r="0.32" fill="#f52626"/>
<circle cx="60.04" cy="67.83" r="0.32" fill="#f52626"/>
<circle cx="59.77" cy="67.5" r="0.32" fill="#f52626"/>
<circle cx="61.56" cy="68.47" r="0.32" fill="#f52626"/>
<circle cx="55.87" cy="65.75" r="0.32" fill="#f52626"/>
<circle cx="59.33" cy="68.59" r="0.32" fill="#f52626"/>
<circle cx="54.78" cy="68.8" r="0.32" fill="#f52626"/>
<circle cx="58.51" cy="66.4" r="0.32" fill="#f52626"/>
<circle cx="54.35" cy="68.64" r="0.32" fill="#f52626"/>
<circle cx="52.94" cy="66.11" r="0.32" fill="#f52626"/>
<circle cx="53.61" cy="60.39" r="0.32" fill="#f52626"/>
<circle cx="52.15" cy="66.95" r="0.32" fill="#f52626"/>
<circle cx="52.4" cy="62.95" r="0.32" fill="#f52626"/>
<circle cx="58.97" cy="69.07" r="0.32" fill="#f52626"/>
<circle cx="52.16" cy="65.22" r="0.32" fill="#f52626"/>
<circle cx="56.55" cy="65.04" r="0.32" fill="#f52626"/>
<circle cx="52.07" cy="68.75" r="0.32" fill="#f52626"/>
<circle cx="52.81" cy="68.02" r="0.32" fill="#f52626"/>
<circle cx="53.17" cy="62.94" r="0.32" fill="#f52626"/>
<circle cx="56.68" cy="68.72" r="0.32" fill="#f52626"/>
<circle cx="52.81" cy="67.47" r="0.32" fill="#f52626"/>
<circle cx="52.73" cy="61.86" r="0.32" fill="#f52626"/>
<circle cx="53.78" cy="65.42" r="0.32" fill="#f52626"/>
<circle cx="59.53" cy="68.5" r="0.32" fill="#f52626"/>
<circle cx="53.36" cy="61.03" r="0.32" fill="#f52626"/>
<circle cx="60.92" cy="68.93" r="0.32" fill="#f52626"/>
<circle cx="56.13" cy="64.23" r="0.32" fill="#f52626"/>
<circle cx="55.42" cy="68.53" r="0.32" fill="#f52626"/>
<circle cx="52.11" cy="57.93" r="0.32" fill="#f52626"/>
<circle cx="59.32" cy="68.68" r="0.32" fill="#f52626"/>
<circle cx="55.91" cy="67.05" r="0.32" fill="#f52626"/>
<circle cx="53.47" cy="59.87" r="0.32" fill="#f52626"/>
<circle cx="57.44" cy="68.78" r="0.32" fill="#f52626"/>
<circle cx="52.01" cy="64.93" r="0.32" fill="#f52626"/>
<circle cx="54.31" cy="63.42" r="0.32" fill="#f52626"/>
<circle cx="58.14" cy="67.69" r="0.32" fill="#f52626"/>
<circle cx="52.64" cy="68.46" r="0.32" fill="#f52626"/>
<circle cx="53.86" cy="67.96" r="0.32" fill="#f52626"/>
<circle cx="60.27" cy="68.55" r="0.32" fill="#f52626"/>
<circle cx="57.19" cy="65.18" r="0.32" fill="#f52626"/>
<circle cx="53.4" cy="65.27" r="0.32" fill="#f52626"/>
<circle cx="52.6" cy="61.49" r="0.32" fill="#f52626"/>
<circle cx="52" cy="59.81" r="0.32" fill="#f52626"/>
<circle cx="59.94" cy="67.75" r="0.32" fill="#f52626"/>
<circle cx="52.24" cy="67.38" r="0.32" fill="#f52626"/>
<circle cx="58.19" cy="69.18" r="0.32" fill="#f52626"/>
<circle cx="55.39" cy="67.09" r="0.32" fill="#f52626"/>
<circle cx="61.53" cy="68.57" r="0.32" fill="#f52626"/>
<circle cx="60.1" cy="68.93" r="0.32" fill="#f52626"/>
<circle cx="59.15" cy="68.57" r="0.32" fill="#f52626"/>
<circle cx="60.95" cy="69.24" r="0.32" fill="#f52626"/>
<circle cx="59.66" cy="69.06" r="0.32" fill="#f52626"/>
<circle cx="56.09" cy="67.08" r="0.32" fill="#f52626"/>
<circle cx="52.64" cy="60.67" r="0.32" fill="#f52626"/>
<circle cx="53.77" cy="67.55" r="0.32" fill="#f52626"/>
<circle cx="52.21" cy="67.01" r="0.32" fill="#f52626"/>
<circle cx="55.26" cy="65.17" r="0.32" fill="#f52626"/>
<circle cx="54.2" cy="64.41" r="0.32" fill="#f52626"/>
<circle cx="52.35" cy="66.11" r="0.32" fill="#f52626"/>
<circle cx="55.2" cy="62.93" r="0.32" fill="#f52626"/>
<circle cx="59.71" cy="68.11" r="0.32" fill="#f52626"/>
<circle cx="52.01" cy="66.12" r="0.32" fill="#f52626"/>
<circle cx="58.1" cy="68.86" r="0.32" fill="#f52626"/>
<circle cx="56.32" cy="67.57" r="0.32" fill="#f52626"/>
<circle cx="52.01" cy="56.97" r="0.32" fill="#f52626"/>
<circle cx="59.29" cy="69.04" r="0.32" fill="#f52626"/>
<circle cx="56.93" cy="68.51" r="0.32" fill="#f52626"/>
<circle cx="54.35" cy="65.92" r="0.32" fill="#f52626"/>
<circle cx="53.66" cy="67.29" r="0.32" fill="#f52626"/>
<circle cx="54.51" cy="64.9" r="0.32" fill="#f52626"/>
<circle cx="53.32" cy="68.27" r="0.32" fill="#f52626"/>
<circle cx="58.38" cy="68.66" r="0.32" fill="#f52626"/>
<circle cx="61.37" cy="68.6" r="0.32" fill="#f52626"/>
<circle cx="58.28" cy="68.63" r="0.32" fill="#f52626"/>
<circle cx="59.67" cy="69.22" r="0.32" fill="#f52626"/>
<circle cx="52.54" cy="68.88" r="0.32" fill="#f52626"/>
<circle cx="57.69" cy="67.05" r="0.32" fill="#f52626"/>
<circle cx="52.78" cy="66.26" r="0.32" fill="#f52626"/>
<circle cx="59.81" cy="68.29" r="0.32" fill="#f52626"/>
<circle cx="52.28" cy="67.81" r="0.32" fill="#f52626"/>
<circle cx="52.64" cy="68.7" r="0.32" fill="#f52626"/>
<circle cx="54.65" cy="69.11" r="0.32" fill="#f52626"/>
<circle cx="61.01" cy="68.8" r="0.32" fill="#f52626"/>
<circle cx="55.73" cy="66.08" r="0.32" fill="#f52626"/>
<circle cx="58.85" cy="67.26" r="0.32" fill="#f52626"/>
<circle cx="54.45" cy="67.63" r="0.32" fill="#f52626"/>
<circle cx="54.7" cy="69.28" r="0.32" fill="#f52626"/>
<circle cx="54.59" cy="64.67" r="0.32" fill="#f52626"/>
<circle cx="61.93" cy="68.22" r="0.32" fill="#f52626"/>
<circle cx="57.47" cy="67.37" r="0.32" fill="#f52626"/>
<circle cx="52.03" cy="66.65" r="0.32" fill="#f52626"/>
<circle cx="54.04" cy="64.62" r="0.32" fill="#f52626"/>
<circle cx="52.35" cy="66.29" r="0.32" fill="#f52626"/>
<circle cx="55.71" cy="65.03" r="0.32" fill="#f52626"/>
<circle cx="59.65" cy="68.2" r="0.32" fill="#f52626"/>
<circle cx="52.64" cy="61.61" r="0.32" fill="#f52626"/>
<circle cx="60.75" cy="68.56" r="0.32" fill="#f52626"/>
<circle cx="54.14" cy="66.12" r="0.32" fill="#f52626"/>
<circle cx="52.54" cy="62.22" r="0.32" fill="#f52626"/>
<circle cx="62" cy="68.7" r="0.32" fill="#f52626"/>
<circle cx="58.17" cy="66.8" r="0.32" fill="#f52626"/>
<circle cx="52.89" cy="59.46" r="0.32" fill="#f52626"/>
<circle cx="57.07" cy="68.86" r="0.32" fill="#f52626"/>
<circle cx="52.24" cy="67.63" r="0.32" fill="#f52626"/>
<circle cx="56.46" cy="66.3" r="0.32" fill="#f52626"/>
<circle cx="53.93" cy="61.42" r="0.32" fill="#f52626"/>
<circle cx="54.21" cy="66.5" r="0.32" fill="#f52626"/>
<circle cx="52.45" cy="58.17" r="0.32" fill="#f52626"/>
<circle cx="52.51" cy="59.38" r="0.32" fill="#f52626"/>
<circle cx="56.09" cy="66.87" r="0.32" fill="#f52626"/>
<circle cx="56.28" cy="68.49" r="0.32" fill="#f52626"/>
<circle cx="60.84" cy="67.62" r="0.32" fill="#f52626"/>
<circle cx="59.54" cy="68.2" r="0.32" fill="#f52626"/>
<circle cx="52.44" cy="60.46" r="0.32" fill="#f52626"/>
<circle cx="27.11" cy="66.01" r="0.32" fill="#2626f5"/>
<circle cx="26.51" cy="66.02" r="0.32" fill="#2626f5"/>
<circle cx="33.88" cy="68.88" r="0.32" fill="#2626f5"/>
<circle cx="30.35" cy="68.2" r="0.32" fill="#2626f5"/>
<circle cx="23.9" cy="64.77" r="0.32" fill="#2626f5"/>
<circle cx="35.84" cy="68.26" r="0.32" fill="#2626f5"/>
<circle cx="31.73" cy="68.36" r="0.32" fill="#2626f5"/>
<circle cx="31.89" cy="67.97" r="0.32" fill="#2626f5"/>
<circle cx="28.27" cy="66.88" r="0.32" fill="#2626f5"/>
<circle cx="33.55" cy="69.01" r="0.32" fill="#2626f5"/>
<circle cx="25.99" cy="65.83" r="0.32" fill="#2626f5"/>
<circle cx="25.29" cy="65.49" r="0.32" fill="#2626f5"/>
<circle cx="30.62" cy="68.19" r="0.32" fill="#2626f5"/>
<circle cx="30" cy="67.89" r="0.32" fill="#2626f5"/>
<circle cx="30.6" cy="68.02" r="0.32" fill="#2626f5"/>
<circle cx="31.52" cy="68.58" r="0.32" fill="#2626f5"/>
<circle cx="31.89" cy="68.56" r="0.32" fill="#2626f5"/>
<circle cx="35.49" cy="68.59" r="0.32" fill="#2626f5"/>
<circle cx="29.37" cy="67.52" r="0.32" fill="#2626f5"/>
<circle cx="31.3" cy="67.87" r="0.32" fill="#2626f5"/>
<circle cx="72.72" cy="65.41" r="0.32" fill="#f52626"/>
<circle cx="69.59" cy="66.96" r="0.32" fill="#f52626"/>
<circle cx="73.64" cy="64.63" r="0.32" fill="#f52626"/>
<circle cx="68.7" cy="67.88" r="0.32" fill="#f52626"/>
<circle cx="70.51" cy="66.6" r="0.32" fill="#f52626"/>
<circle cx="70.05" cy="67.21" r="0.32" fill="#f52626"/>
<circle cx="68.97" cy="67.31" r="0.32" fill="#f52626"/>
<circle cx="67.69" cy="68.6" r="0.32" fill="#f52626"/>
<circle cx="72.34" cy="65.51" r="0.32" fill="#f52626"/>
<circle cx="72.42" cy="65.77" r="0.32" fill="#f52626"/>
<circle cx="72.65" cy="65.9" r="0.32" fill="#f52626"/>
<circle cx="70.82" cy="67.27" r="0.32" fill="#f52626"/>
<circle cx="65.43" cy="68.67" r="0.32" fill="#f52626"/>
<circle cx="69.78" cy="67.47" r="0.32" fill="#f52626"/>
<circle cx="64.6" cy="68.49" r="0.32" fill="#f52626"/>
<circle cx="70.05" cy="67.5" r="0.32" fill="#f52626"/>
<circle cx="67.52" cy="68.31" r="0.32" fill="#f52626"/>
<circle cx="66.71" cy="68.84" r="0.32" fill="#f52626"/>
<circle cx="74.48" cy="63.84" r="0.32" fill="#f52626"/>
<circle cx="71.66" cy="65.99" r="0.32" fill="#f52626"/>
<circle cx="44.5" cy="56" r="0.32" fill="#2626f5"/>
<circle cx="43.8" cy="58.4" r="0.32" fill="#2626f5"/>
<circle cx="42" cy="57.5" r="0.32" fill="#2626f5"/>
<circle cx="40" cy="61" r="0.32" fill="#2626f5"/>
<circle cx="38.5" cy="62" r="0.32" fill="#2626f5"/>
<circle cx="44" cy="60" r="0.32" fill="#2626f5"/>
<circle cx="37" cy="51" r="0.32" fill="#2626f5"/>
<circle cx="35" cy="47" r="0.32" fill="#2626f5"/>
<circle cx="36.5" cy="20" r="0.32" fill="#2626f5"/>
<circle cx="34" cy="26" r="0.32" fill="#2626f5"/>
<circle cx="18" cy="52" r="0.32" fill="#2626f5"/>
<circle cx="30" cy="60" r="0.32" fill="#2626f5"/>
<circle cx="56.8" cy="53.5" r="0.32" fill="#f52626"/>
<circle cx="57.5" cy="55" r="0.32" fill="#f52626"/>
<circle cx="55" cy="56" r="0.32" fill="#f52626"/>
<circle cx="59" cy="58" r="0.32" fill="#f52626"/>
<circle cx="60.5" cy="59.5" r="0.32" fill="#f52626"/>
<circle cx="54" cy="57.5" r="0.32" fill="#f52626"/>
<circle cx="57" cy="49" r="0.32" fill="#f52626"/>
<circle cx="56" cy="45" r="0.32" fill="#f52626"/>
<circle cx="62" cy="52" r="0.32" fill="#f52626"/>
<circle cx="52.5" cy="12" r="0.32" fill="#f52626"/>
<rect x="26.8" y="6.8" width="6.2" height="2.4" fill="#fff" stroke="#c4c4c4" stroke-width="0.2"/>
<text x="29.9" y="8.65" font-size="1.7" fill="#555" text-anchor="middle" font-weight="normal" font-family="Liberation Sans">CCPG1</text>
<rect x="33.4" y="11" width="4.4" height="2.4" fill="#fff" stroke="#c4c4c4" stroke-width="0.2"/>
<text x="35.6" y="12.85" font-size="1.7" fill="#555" text-anchor="middle" font-weight="normal" font-family="Liberation Sans">TLR3</text>
<rect x="48.3" y="3.4" width="4.9" height="2.4" fill="#fff" stroke="#c4c4c4" stroke-width="0.2"/>
<text x="50.75" y="5.25" font-size="1.7" fill="#555" text-anchor="middle" font-weight="normal" font-family="Liberation Sans">PRKG2</text>
<rect x="63" y="9.8" width="7.7" height="2.4" fill="#fff" stroke="#c4c4c4" stroke-width="0.2"/>
<text x="66.85" y="11.65" font-size="1.7" fill="#555" text-anchor="middle" font-weight="normal" font-family="Liberation Sans">LRRC6C</text>
<rect x="12.7" y="26.3" width="6.8" height="2.4" fill="#fff" stroke="#c4c4c4" stroke-width="0.2"/>
<text x="16.1" y="28.15" font-size="1.7" fill="#555" text-anchor="middle" font-weight="normal" font-family="Liberation Sans">FAM46C</text>
<rect x="30.7" y="20.5" width="6.3" height="2.4" fill="#fff" stroke="#c4c4c4" stroke-width="0.2"/>
<text x="33.85" y="22.35" font-size="1.7" fill="#555" text-anchor="middle" font-weight="normal" font-family="Liberation Sans">MAP7D</text>
<rect x="58" y="26.3" width="6" height="2.4" fill="#fff" stroke="#c4c4c4" stroke-width="0.2"/>
<text x="61" y="28.15" font-size="1.7" fill="#555" text-anchor="middle" font-weight="normal" font-family="Liberation Sans">ZNF43</text>
<rect x="64.6" y="31.2" width="7.4" height="2.4" fill="#fff" stroke="#c4c4c4" stroke-width="0.2"/>
<text x="68.3" y="33.05" font-size="1.7" fill="#555" text-anchor="middle" font-weight="normal" font-family="Liberation Sans">NAALADL</text>
<rect x="31.7" y="31.7" width="6.3" height="2.4" fill="#fff" stroke="#c4c4c4" stroke-width="0.2"/>
<text x="34.85" y="33.55" font-size="1.7" fill="#555" text-anchor="middle" font-weight="normal" font-family="Liberation Sans">DNAH5</text>
<rect x="58.5" y="35.6" width="6.9" height="2.4" fill="#fff" stroke="#c4c4c4" stroke-width="0.2"/>
<text x="61.95" y="37.45" font-size="1.7" fill="#555" text-anchor="middle" font-weight="normal" font-family="Liberation Sans">KRT23</text>
<rect x="24.4" y="36.1" width="6.8" height="2.4" fill="#fff" stroke="#c4c4c4" stroke-width="0.2"/>
<text x="27.8" y="37.95" font-size="1.7" fill="#555" text-anchor="middle" font-weight="normal" font-family="Liberation Sans">SPTSSB</text>
<rect x="32.2" y="37" width="11.7" height="2.4" fill="#fff" stroke="#c4c4c4" stroke-width="0.2"/>
<text x="38.05" y="38.85" font-size="1.7" fill="#555" text-anchor="middle" font-weight="normal" font-family="Liberation Sans">SLC45A4 IGF2</text>
<rect x="54.9" y="39" width="7.3" height="2.4" fill="#fff" stroke="#c4c4c4" stroke-width="0.2"/>
<text x="58.55" y="40.85" font-size="1.7" fill="#555" text-anchor="middle" font-weight="normal" font-family="Liberation Sans">ABCB1</text>
<rect x="26.8" y="41" width="7.3" height="2.4" fill="#fff" stroke="#c4c4c4" stroke-width="0.2"/>
<text x="30.45" y="42.85" font-size="1.7" fill="#555" text-anchor="middle" font-weight="normal" font-family="Liberation Sans">GPR155</text>
<rect x="33.7" y="42.7" width="7.8" height="2.4" fill="#fff" stroke="#c4c4c4" stroke-width="0.2"/>
<text x="37.6" y="44.55" font-size="1.7" fill="#555" text-anchor="middle" font-weight="normal" font-family="Liberation Sans">ARHGEF3</text>
<rect x="45" y="45.6" width="12.3" height="2.4" fill="#fff" stroke="#c4c4c4" stroke-width="0.2"/>
<text x="51.15" y="47.45" font-size="1.7" fill="#555" text-anchor="middle" font-weight="normal" font-family="Liberation Sans">LOC100288</text>
<rect x="56.6" y="49.5" width="7.3" height="2.4" fill="#fff" stroke="#c4c4c4" stroke-width="0.2"/>
<text x="60.25" y="51.35" font-size="1.7" fill="#555" text-anchor="middle" font-weight="normal" font-family="Liberation Sans">CDKN2B</text>
<rect x="50" y="52" width="7.3" height="2.4" fill="#fff" stroke="#c4c4c4" stroke-width="0.2"/>
<text x="53.65" y="53.85" font-size="1.7" fill="#555" text-anchor="middle" font-weight="normal" font-family="Liberation Sans">LINC01</text>
<circle cx="81.4" cy="34.2" r="0.35" fill="#6060f0"/>
<text x="84.2" y="34.9" font-size="1.9" fill="#555" text-anchor="start" font-weight="normal" font-family="Liberation Sans">DOWN</text>
<circle cx="81.4" cy="37.9" r="0.35" fill="#cccccc"/>
<text x="84.2" y="38.6" font-size="1.9" fill="#555" text-anchor="start" font-weight="normal" font-family="Liberation Sans">STABLE</text>
<circle cx="81.4" cy="41.6" r="0.35" fill="#f06060"/>
<text x="84.2" y="42.3" font-size="1.9" fill="#555" text-anchor="start" font-weight="normal" font-family="Liberation Sans">UP</text>
<line x1="109.4" y1="3" x2="109.4" y2="58.6" stroke="#777" stroke-width="0.35"/>
<line x1="109.4" y1="58.6" x2="172.7" y2="58.6" stroke="#777" stroke-width="0.35"/>
<text x="108" y="16.6" font-size="1.9" fill="#666" text-anchor="end" font-weight="normal" font-family="Liberation Sans">1.5</text>
<line x1="108.6" y1="15.9" x2="109.4" y2="15.9" stroke="#777" stroke-width="0.3"/>
<text x="108" y="30" font-size="1.9" fill="#666" text-anchor="end" font-weight="normal" font-family="Liberation Sans">1.0</text>
<line x1="108.6" y1="29.3" x2="109.4" y2="29.3" stroke="#777" stroke-width="0.3"/>
<text x="108" y="43.4" font-size="1.9" fill="#666" text-anchor="end" font-weight="normal" font-family="Liberation Sans">0.5</text>
<line x1="108.6" y1="42.7" x2="109.4" y2="42.7" stroke="#777" stroke-width="0.3"/>
<text x="108" y="56.8" font-size="1.9" fill="#666" text-anchor="end" font-weight="normal" font-family="Liberation Sans">0.0</text>
<line x1="108.6" y1="56.1" x2="109.4" y2="56.1" stroke="#777" stroke-width="0.3"/>
<rect x="120.1" y="25.6" width="14.1" height="30.4" fill="#dd0000"/>
<rect x="134.2" y="36" width="14.2" height="20" fill="#3b5488"/>
<rect x="148.4" y="5" width="14.4" height="51" fill="#99ccff"/>
<text x="127.1" y="24.8" font-size="1.6" fill="#555" text-anchor="middle" font-weight="normal" font-family="Liberation Sans">0.938</text>
<text x="141.3" y="35.2" font-size="1.6" fill="#555" text-anchor="middle" font-weight="normal" font-family="Liberation Sans">0.583</text>
<text x="155.6" y="4.3" font-size="1.6" fill="#555" text-anchor="middle" font-weight="normal" font-family="Liberation Sans">1.800</text>
<text x="105.5" y="30" font-size="1.8" fill="#666" text-anchor="middle" font-weight="normal" font-family="Liberation Sans" transform="rotate(-90 105.5 30)">Expression</text>
<line x1="141.4" y1="60.1" x2="132.2" y2="75.9" stroke="#555" stroke-width="0.45"/>
<text x="141.5" y="78.3" font-size="1.9" fill="#666" text-anchor="middle" font-weight="normal" font-family="Liberation Sans">Celltype</text>
<rect x="175.9" y="26.8" width="2.6" height="2.5" fill="#dd0000"/>
<text x="179.2" y="28.7" font-size="1.6" fill="#666" text-anchor="start" font-weight="normal" font-family="Liberation Sans">A</text>
<rect x="175.9" y="29.6" width="2.6" height="2.5" fill="#3b5488"/>
<text x="179.2" y="31.5" font-size="1.6" fill="#666" text-anchor="start" font-weight="normal" font-family="Liberation Sans">B</text>
<rect x="175.9" y="32.4" width="2.6" height="2.5" fill="#99ccff"/>
<text x="179.2" y="34.3" font-size="1.6" fill="#666" text-anchor="start" font-weight="normal" font-family="Liberation Sans">C</text>
<text x="201" y="2.3" font-size="1.9" fill="#555" text-anchor="start" font-weight="normal" font-family="Liberation Sans">KEGG_GLYCOLYSIS_GLUCONEOGENESIS_SKOV3_VS_NC</text>
<line x1="200.9" y1="4.3" x2="200.9" y2="36.6" stroke="#777" stroke-width="0.3"/>
<line x1="216.3" y1="4.3" x2="216.3" y2="36.6" stroke="#eee" stroke-width="0.3"/>
<line x1="232.7" y1="4.3" x2="232.7" y2="36.6" stroke="#eee" stroke-width="0.3"/>
<line x1="248.8" y1="4.3" x2="248.8" y2="36.6" stroke="#eee" stroke-width="0.3"/>
<line x1="265" y1="4.3" x2="265" y2="36.6" stroke="#eee" stroke-width="0.3"/>
<line x1="200.9" y1="5.4" x2="271.1" y2="5.4" stroke="#f2f2f2" stroke-width="0.3"/>
<line x1="200.9" y1="15.4" x2="271.1" y2="15.4" stroke="#f2f2f2" stroke-width="0.3"/>
<line x1="200.9" y1="25.4" x2="271.1" y2="25.4" stroke="#f2f2f2" stroke-width="0.3"/>
<line x1="200.9" y1="35.4" x2="271.1" y2="35.4" stroke="#f2f2f2" stroke-width="0.3"/>
<text x="199.6" y="6" font-size="1.6" fill="#666" text-anchor="end" font-weight="normal" font-family="Liberation Sans">0.6</text>
<text x="199.6" y="16" font-size="1.6" fill="#666" text-anchor="end" font-weight="normal" font-family="Liberation Sans">0.4</text>
<text x="199.6" y="26" font-size="1.6" fill="#666" text-anchor="end" font-weight="normal" font-family="Liberation Sans">0.2</text>
<text x="199.6" y="36" font-size="1.6" fill="#666" text-anchor="end" font-weight="normal" font-family="Liberation Sans">0.0</text>
<text x="197" y="20" font-size="1.6" fill="#666" text-anchor="middle" font-weight="normal" font-family="Liberation Sans" transform="rotate(-90 197 20)">Enrichment Score (ES)</text>
<polyline fill="none" stroke="#5cf046" stroke-width="0.65" points="201.2,35.4 201.6,31 202,27 202.5,22 203,8 203.3,5.1 205,6.2 207,7.6 209.4,8.5 211,8.2 212.5,7.6 214.5,7.9 217,9.6 219,11 221.2,12.2 222.5,11.5 223.7,11.3 226,12.8 232,16.5 240,21.5 248,26.5 254,30.2 256,31.1 259.6,33.2 262,33.3 265.1,32.7 267,33.8 270.6,35.6"/>
<text x="236" y="31.3" font-size="1.75" fill="#444" text-anchor="start" font-weight="normal" font-family="Liberation Sans">SKOV3_sh_SLC45A4_glycolysis_gene set</text>
<line x1="203.4" y1="5" x2="203.4" y2="36.4" stroke="#9be890" stroke-width="0.25" stroke-dasharray="0.6 0.5"/>
<text x="203.5" y="5.6" font-size="1.4" fill="#666" text-anchor="start" font-weight="normal" font-family="Liberation Sans">SKOV3-NC</text>
<g filter="url(#blb)"><rect x="201.2" y="37.8" width="2.6" height="7.9" fill="#a0a0a0"/><rect x="209.1" y="37.8" width="0.7" height="7.9" fill="#b0b0b0"/><rect x="211.6" y="37.8" width="1.6" height="7.9" fill="#a8a8a8"/><rect x="213.2" y="37.8" width="1.8" height="7.9" fill="#c4c4c4"/><rect x="217.9" y="37.8" width="0.9" height="7.9" fill="#b8b8b8"/><rect x="221.1" y="37.8" width="3.8" height="7.9" fill="#8e8e8e"/><rect x="226.4" y="37.8" width="1.4" height="7.9" fill="#a0a0a0"/><rect x="229.9" y="37.8" width="3.2" height="7.9" fill="#8a8a8a"/><rect x="233.1" y="37.8" width="2.9" height="7.9" fill="#b8b8b8"/><rect x="236.9" y="37.8" width="0.4" height="7.9" fill="#c0c0c0"/><rect x="237.5" y="37.8" width="1.4" height="7.9" fill="#8a8a8a"/><rect x="241.3" y="37.8" width="1.1" height="7.9" fill="#dcdcdc"/><rect x="243.9" y="37.8" width="2.1" height="7.9" fill="#aaaaaa"/><rect x="246" y="37.8" width="4" height="7.9" fill="#8e8e8e"/><rect x="250.9" y="37.8" width="2.1" height="7.9" fill="#b4b4b4"/><rect x="253.8" y="37.8" width="2.1" height="7.9" fill="#8a8a8a"/><rect x="258.8" y="37.8" width="2.9" height="7.9" fill="#b0b0b0"/><rect x="262.9" y="37.8" width="2.1" height="7.9" fill="#b4b4b4"/></g>
<defs><filter id="blb" x="-5%" y="-5%" width="110%" height="110%"><feGaussianBlur stdDeviation="0.3 0.05"/></filter></defs>
<rect x="201.2" y="46" width="6.65" height="2.9" fill="#b01820"/>
<rect x="207.8" y="46" width="9.25" height="2.9" fill="#d83030"/>
<rect x="217" y="46" width="7.05" height="2.9" fill="#f06040"/>
<rect x="224" y="46" width="4.05" height="2.9" fill="#f8a888"/>
<rect x="228" y="46" width="12.25" height="2.9" fill="#fde0d0"/>
<rect x="240.2" y="46" width="4.85" height="2.9" fill="#eeeeff"/>
<rect x="245" y="46" width="5.05" height="2.9" fill="#b8d4e8"/>
<rect x="250" y="46" width="10.05" height="2.9" fill="#6aacd8"/>
<rect x="260" y="46" width="11.25" height="2.9" fill="#3a80c0"/>
<line x1="200.9" y1="49.1" x2="200.9" y2="71.8" stroke="#777" stroke-width="0.3"/>
<line x1="200.9" y1="71.8" x2="271.1" y2="71.8" stroke="#777" stroke-width="0.3"/>
<line x1="216.3" y1="49.1" x2="216.3" y2="71.8" stroke="#eee" stroke-width="0.3"/>
<line x1="232.7" y1="49.1" x2="232.7" y2="71.8" stroke="#eee" stroke-width="0.3"/>
<line x1="248.8" y1="49.1" x2="248.8" y2="71.8" stroke="#eee" stroke-width="0.3"/>
<line x1="265" y1="49.1" x2="265" y2="71.8" stroke="#eee" stroke-width="0.3"/>
<line x1="201.2" y1="59.4" x2="271.1" y2="59.4" stroke="#aaa" stroke-width="0.25"/>
<polygon fill="#a8a8a8" points="201.2,59.4 201.2,52.6 201.2,52.6 201.7,53.09 202.2,53.56 202.7,54.01 203.2,54.44 203.7,54.85 204.2,55.24 204.7,55.61 205.2,55.96 205.7,56.3 206.2,56.61 206.7,56.91 207.2,57.19 207.7,57.45 208.2,57.69 208.7,57.92 209.2,58.13 209.7,58.32 210.2,58.49 210.7,58.65 211.2,58.79 211.7,58.92 212.2,59.03 212.7,59.12 213.2,59.2 213.7,59.27 214.2,59.32 214.7,59.36 215.2,59.38 215.7,59.4 216.2,59.4 216.2,59.4"/>
<polygon fill="#a8a8a8" points="262.5,59.4 262.5,59.4 262.93,59.41 263.36,59.45 263.79,59.52 264.22,59.61 264.65,59.73 265.08,59.87 265.51,60.04 265.94,60.23 266.37,60.45 266.8,60.7 267.23,60.97 267.66,61.27 268.09,61.6 268.52,61.95 268.95,62.32 269.38,62.73 269.81,63.16 270.24,63.61 270.67,64.09 271.1,64.6 271.1,59.4"/>
<line x1="209.4" y1="49.1" x2="209.4" y2="71.8" stroke="#f0f0f0" stroke-width="0.3"/>
<line x1="225.9" y1="49.1" x2="225.9" y2="71.8" stroke="#f0f0f0" stroke-width="0.3"/>
<line x1="241.6" y1="49.1" x2="241.6" y2="71.8" stroke="#f0f0f0" stroke-width="0.3"/>
<line x1="257.4" y1="49.1" x2="257.4" y2="71.8" stroke="#f0f0f0" stroke-width="0.3"/>
<text x="200.2" y="54.7" font-size="1.5" fill="#777" text-anchor="end" font-weight="normal" font-family="Liberation Sans">0.5</text>
<text x="200.2" y="59.9" font-size="1.5" fill="#777" text-anchor="end" font-weight="normal" font-family="Liberation Sans">0.0</text>
<text x="200.2" y="65" font-size="1.5" fill="#777" text-anchor="end" font-weight="normal" font-family="Liberation Sans">-0.5</text>
<text x="200.2" y="69.8" font-size="1.5" fill="#777" text-anchor="end" font-weight="normal" font-family="Liberation Sans">-1.0</text>
<text x="207.3" y="53.1" font-size="1.8" fill="#e82020" text-anchor="start" font-weight="bold" font-family="Liberation Sans">SKOV3-sh-SLC45A4</text>
<text x="234" y="60.1" font-size="2.1" fill="#111" text-anchor="start" font-weight="normal" font-family="Liberation Sans">Zero score at 10394</text>
<text x="252.9" y="69.3" font-size="1.8" fill="#2020e8" text-anchor="start" font-weight="bold" font-family="Liberation Sans">SKOV3-NC</text>
<text x="216.3" y="73.9" font-size="1.5" fill="#666" text-anchor="middle" font-weight="normal" font-family="Liberation Sans">5000</text>
<text x="232.7" y="73.9" font-size="1.5" fill="#666" text-anchor="middle" font-weight="normal" font-family="Liberation Sans">10000</text>
<text x="248.8" y="73.9" font-size="1.5" fill="#666" text-anchor="middle" font-weight="normal" font-family="Liberation Sans">15000</text>
<text x="265" y="73.9" font-size="1.5" fill="#666" text-anchor="middle" font-weight="normal" font-family="Liberation Sans">20000</text>
<text x="238.5" y="76.1" font-size="1.8" fill="#555" text-anchor="middle" font-weight="normal" font-family="Liberation Sans">Rank in Ordered Dataset</text>
<text x="197.2" y="61" font-size="1.9" fill="#666" text-anchor="middle" font-weight="normal" font-family="Liberation Sans" transform="rotate(-90 197.2 61)">Ranked list metric (PreRanked)</text>
<rect x="319.1" y="6.7" width="42.1" height="67.8" fill="#fff" stroke="#ccc" stroke-width="0.25"/>
<line x1="321.5" y1="6.7" x2="321.5" y2="74.5" stroke="#eee" stroke-width="0.3"/>
<line x1="329.5" y1="6.7" x2="329.5" y2="74.5" stroke="#eee" stroke-width="0.3"/>
<line x1="337.5" y1="6.7" x2="337.5" y2="74.5" stroke="#eee" stroke-width="0.3"/>
<line x1="345.5" y1="6.7" x2="345.5" y2="74.5" stroke="#eee" stroke-width="0.3"/>
<line x1="353.5" y1="6.7" x2="353.5" y2="74.5" stroke="#eee" stroke-width="0.3"/>
<text x="319.2" y="5.2" font-size="2.3" fill="#333" text-anchor="start" font-weight="normal" font-family="Liberation Sans">KEGG Pathway Enrichment(Top 20)</text>
<line x1="319.1" y1="8.8" x2="361.2" y2="8.8" stroke="#eee" stroke-width="0.3"/>
<text x="317.6" y="9.4" font-size="1.65" fill="#777" text-anchor="end" font-weight="normal" font-family="Liberation Sans">Glycolysis analysis</text>
<circle cx="359.4" cy="8.8" r="0.7" fill="#d020a0"/>
<line x1="319.1" y1="12.18" x2="361.2" y2="12.18" stroke="#eee" stroke-width="0.3"/>
<text x="317.6" y="12.78" font-size="1.65" fill="#777" text-anchor="end" font-weight="normal" font-family="Liberation Sans">Focal adhesion</text>
<circle cx="347.6" cy="12.18" r="0.9" fill="#8020e0"/>
<line x1="319.1" y1="15.56" x2="361.2" y2="15.56" stroke="#eee" stroke-width="0.3"/>
<text x="317.6" y="16.16" font-size="1.65" fill="#777" text-anchor="end" font-weight="normal" font-family="Liberation Sans">ECM-receptor interaction</text>
<circle cx="345.4" cy="15.56" r="0.7" fill="#c020b0"/>
<line x1="319.1" y1="18.94" x2="361.2" y2="18.94" stroke="#eee" stroke-width="0.3"/>
<text x="317.6" y="19.54" font-size="1.65" fill="#777" text-anchor="end" font-weight="normal" font-family="Liberation Sans">Ribosome</text>
<circle cx="336.5" cy="18.94" r="0.55" fill="#f02070"/>
<line x1="319.1" y1="22.32" x2="361.2" y2="22.32" stroke="#eee" stroke-width="0.3"/>
<text x="317.6" y="22.92" font-size="1.65" fill="#777" text-anchor="end" font-weight="normal" font-family="Liberation Sans">Arrhythmogenic right ventricular cardiomyopathy</text>
<circle cx="333.8" cy="22.32" r="0.7" fill="#c020c0"/>
<line x1="319.1" y1="25.7" x2="361.2" y2="25.7" stroke="#eee" stroke-width="0.3"/>
<text x="317.6" y="26.3" font-size="1.65" fill="#777" text-anchor="end" font-weight="normal" font-family="Liberation Sans">Cytokine-cytokine receptor interaction</text>
<circle cx="333.8" cy="25.7" r="0.95" fill="#7020e0"/>
<line x1="319.1" y1="29.08" x2="361.2" y2="29.08" stroke="#eee" stroke-width="0.3"/>
<text x="317.6" y="29.68" font-size="1.65" fill="#777" text-anchor="end" font-weight="normal" font-family="Liberation Sans">Cell cycle</text>
<circle cx="333.2" cy="29.08" r="0.65" fill="#c020c0"/>
<line x1="319.1" y1="32.46" x2="361.2" y2="32.46" stroke="#eee" stroke-width="0.3"/>
<text x="317.6" y="33.06" font-size="1.65" fill="#777" text-anchor="end" font-weight="normal" font-family="Liberation Sans">Amphetamine addiction</text>
<circle cx="331.1" cy="32.46" r="0.65" fill="#c020b0"/>
<line x1="319.1" y1="35.84" x2="361.2" y2="35.84" stroke="#eee" stroke-width="0.3"/>
<text x="317.6" y="36.44" font-size="1.65" fill="#777" text-anchor="end" font-weight="normal" font-family="Liberation Sans">PI3K-Akt signaling pathway</text>
<circle cx="328.3" cy="35.84" r="1.05" fill="#3030f0"/>
<line x1="319.1" y1="39.22" x2="361.2" y2="39.22" stroke="#eee" stroke-width="0.3"/>
<text x="317.6" y="39.82" font-size="1.65" fill="#777" text-anchor="end" font-weight="normal" font-family="Liberation Sans">Phagosome</text>
<circle cx="327.9" cy="39.22" r="0.75" fill="#9020d0"/>
<line x1="319.1" y1="42.6" x2="361.2" y2="42.6" stroke="#eee" stroke-width="0.3"/>
<text x="317.6" y="43.2" font-size="1.65" fill="#777" text-anchor="end" font-weight="normal" font-family="Liberation Sans">Pathways in cancer</text>
<circle cx="327.3" cy="42.6" r="0.4" fill="#f03050"/>
<line x1="319.1" y1="45.98" x2="361.2" y2="45.98" stroke="#eee" stroke-width="0.3"/>
<text x="317.6" y="46.58" font-size="1.65" fill="#777" text-anchor="end" font-weight="normal" font-family="Liberation Sans">Proteoglycans in cancer</text>
<circle cx="326.2" cy="45.98" r="0.65" fill="#b020c0"/>
<line x1="319.1" y1="49.36" x2="361.2" y2="49.36" stroke="#eee" stroke-width="0.3"/>
<text x="317.6" y="49.96" font-size="1.65" fill="#777" text-anchor="end" font-weight="normal" font-family="Liberation Sans">Apoptosis</text>
<circle cx="325.3" cy="49.36" r="0.6" fill="#b020c0"/>
<line x1="319.1" y1="52.74" x2="361.2" y2="52.74" stroke="#eee" stroke-width="0.3"/>
<text x="317.6" y="53.34" font-size="1.65" fill="#777" text-anchor="end" font-weight="normal" font-family="Liberation Sans">Hippo signaling pathway</text>
<circle cx="325.3" cy="52.74" r="0.75" fill="#a020d0"/>
<line x1="319.1" y1="56.12" x2="361.2" y2="56.12" stroke="#eee" stroke-width="0.3"/>
<text x="317.6" y="56.72" font-size="1.65" fill="#777" text-anchor="end" font-weight="normal" font-family="Liberation Sans">Cell adhesion molecules</text>
<circle cx="325" cy="56.12" r="0.8" fill="#9020d0"/>
<line x1="319.1" y1="59.5" x2="361.2" y2="59.5" stroke="#eee" stroke-width="0.3"/>
<text x="317.6" y="60.1" font-size="1.65" fill="#777" text-anchor="end" font-weight="normal" font-family="Liberation Sans">Human papillomavirus infection</text>
<circle cx="323.7" cy="59.5" r="0.7" fill="#a020c0"/>
<line x1="319.1" y1="62.88" x2="361.2" y2="62.88" stroke="#eee" stroke-width="0.3"/>
<text x="317.6" y="63.48" font-size="1.65" fill="#777" text-anchor="end" font-weight="normal" font-family="Liberation Sans">Pathways in cancer</text>
<circle cx="322.4" cy="62.88" r="1.25" fill="#1010ff"/>
<line x1="319.1" y1="66.26" x2="361.2" y2="66.26" stroke="#eee" stroke-width="0.3"/>
<text x="317.6" y="66.86" font-size="1.65" fill="#777" text-anchor="end" font-weight="normal" font-family="Liberation Sans">Breast cancer</text>
<circle cx="321.9" cy="66.26" r="0.8" fill="#8020d0"/>
<line x1="319.1" y1="69.64" x2="361.2" y2="69.64" stroke="#eee" stroke-width="0.3"/>
<text x="317.6" y="70.24" font-size="1.65" fill="#777" text-anchor="end" font-weight="normal" font-family="Liberation Sans">Hepatocellular carcinoma</text>
<circle cx="321.7" cy="69.64" r="0.8" fill="#8020e0"/>
<line x1="319.1" y1="73.02" x2="361.2" y2="73.02" stroke="#eee" stroke-width="0.3"/>
<text x="317.6" y="73.62" font-size="1.65" fill="#777" text-anchor="end" font-weight="normal" font-family="Liberation Sans">Gastric cancer</text>
<circle cx="321.4" cy="73.02" r="0.6" fill="#b020c0"/>
<text x="321.5" y="76.6" font-size="1.5" fill="#777" text-anchor="middle" font-weight="normal" font-family="Liberation Sans">0.05</text>
<text x="329.5" y="76.6" font-size="1.5" fill="#777" text-anchor="middle" font-weight="normal" font-family="Liberation Sans">0.10</text>
<text x="337.5" y="76.6" font-size="1.5" fill="#777" text-anchor="middle" font-weight="normal" font-family="Liberation Sans">0.15</text>
<text x="345.5" y="76.6" font-size="1.5" fill="#777" text-anchor="middle" font-weight="normal" font-family="Liberation Sans">0.20</text>
<text x="353.5" y="76.6" font-size="1.5" fill="#777" text-anchor="middle" font-weight="normal" font-family="Liberation Sans">0.25</text>
<text x="361" y="76.6" font-size="1.5" fill="#777" text-anchor="middle" font-weight="normal" font-family="Liberation Sans">0.30</text>
<text x="339" y="79.2" font-size="1.9" fill="#444" text-anchor="middle" font-weight="normal" font-family="Liberation Sans">-log_10(p value)</text>
<text x="364.1" y="26.3" font-size="1.7" fill="#555" text-anchor="start" font-weight="normal" font-family="Liberation Sans">Gene number</text>
<circle cx="365.4" cy="28.7" r="0.45" fill="#222"/>
<text x="367.2" y="29.3" font-size="1.5" fill="#666" text-anchor="start" font-weight="normal" font-family="Liberation Sans">5</text>
<circle cx="365.4" cy="31.25" r="0.6" fill="#222"/>
<text x="367.2" y="31.85" font-size="1.5" fill="#666" text-anchor="start" font-weight="normal" font-family="Liberation Sans">10</text>
<circle cx="365.4" cy="33.8" r="0.8" fill="#222"/>
<text x="367.2" y="34.4" font-size="1.5" fill="#666" text-anchor="start" font-weight="normal" font-family="Liberation Sans">15</text>
<circle cx="365.4" cy="36.35" r="1" fill="#222"/>
<text x="367.2" y="36.95" font-size="1.5" fill="#666" text-anchor="start" font-weight="normal" font-family="Liberation Sans">20</text>
<defs><linearGradient id="gr1" x1="0" y1="0" x2="0" y2="1"><stop offset="0" stop-color="#ff0000"/><stop offset="0.5" stop-color="#d000c0"/><stop offset="1" stop-color="#2020ff"/></linearGradient></defs>
<text x="363.7" y="43.2" font-size="1.6" fill="#555" text-anchor="start" font-weight="normal" font-family="Liberation Sans">p value</text>
<rect x="363.7" y="43.8" width="1.7" height="13.2" fill="url(#gr1)"/>
<text x="366" y="45.5" font-size="1.4" fill="#777" text-anchor="start" font-weight="normal" font-family="Liberation Sans">0.04</text>
<text x="366" y="49" font-size="1.4" fill="#777" text-anchor="start" font-weight="normal" font-family="Liberation Sans">0.03</text>
<text x="366" y="52.5" font-size="1.4" fill="#777" text-anchor="start" font-weight="normal" font-family="Liberation Sans">0.02</text>
<text x="366" y="56" font-size="1.4" fill="#777" text-anchor="start" font-weight="normal" font-family="Liberation Sans">0.01</text>
<text x="377.9" y="39" font-size="2.2" fill="#444" text-anchor="middle" font-weight="normal" font-family="Liberation Sans" transform="rotate(-90 377.9 39)">GO Pathway_Enrichment_terms</text>
<rect x="410.5" y="4.3" width="37.1" height="22.5" fill="#fff" stroke="#bbb" stroke-width="0.25"/>
<rect x="447.6" y="4.3" width="3.4" height="22.5" fill="#d0d0d0" stroke="#bbb" stroke-width="0.25"/>
<text x="449.6" y="15.55" font-size="1.6" fill="#555" text-anchor="middle" font-weight="normal" font-family="Liberation Sans" transform="rotate(90 449.6 15.55)">MF</text>
<line x1="412.5" y1="4.3" x2="412.5" y2="26.8" stroke="#eee" stroke-width="0.3"/>
<line x1="419.5" y1="4.3" x2="419.5" y2="26.8" stroke="#eee" stroke-width="0.3"/>
<line x1="426.5" y1="4.3" x2="426.5" y2="26.8" stroke="#eee" stroke-width="0.3"/>
<line x1="433.5" y1="4.3" x2="433.5" y2="26.8" stroke="#eee" stroke-width="0.3"/>
<line x1="440.5" y1="4.3" x2="440.5" y2="26.8" stroke="#eee" stroke-width="0.3"/>
<line x1="410.5" y1="5.5" x2="447.6" y2="5.5" stroke="#f0f0f0" stroke-width="0.25"/>
<text x="410.1" y="6" font-size="1.5" fill="#777" text-anchor="end" font-weight="normal" font-family="Liberation Sans">cell adhesion molecule binding</text>
<line x1="410.5" y1="7.9" x2="447.6" y2="7.9" stroke="#f0f0f0" stroke-width="0.25"/>
<text x="410.1" y="8.4" font-size="1.5" fill="#777" text-anchor="end" font-weight="normal" font-family="Liberation Sans">extracellular matrix structural constituent</text>
<line x1="410.5" y1="10.1" x2="447.6" y2="10.1" stroke="#f0f0f0" stroke-width="0.25"/>
<text x="410.1" y="10.6" font-size="1.5" fill="#777" text-anchor="end" font-weight="normal" font-family="Liberation Sans">integrin binding</text>
<line x1="410.5" y1="12.2" x2="447.6" y2="12.2" stroke="#f0f0f0" stroke-width="0.25"/>
<text x="410.1" y="12.7" font-size="1.5" fill="#777" text-anchor="end" font-weight="normal" font-family="Liberation Sans">collagen binding</text>
<line x1="410.5" y1="14.6" x2="447.6" y2="14.6" stroke="#f0f0f0" stroke-width="0.25"/>
<text x="410.1" y="15.1" font-size="1.5" fill="#777" text-anchor="end" font-weight="normal" font-family="Liberation Sans">growth factor binding</text>
<line x1="410.5" y1="16.5" x2="447.6" y2="16.5" stroke="#f0f0f0" stroke-width="0.25"/>
<text x="410.1" y="17" font-size="1.5" fill="#777" text-anchor="end" font-weight="normal" font-family="Liberation Sans">glycosaminoglycan binding</text>
<line x1="410.5" y1="18.9" x2="447.6" y2="18.9" stroke="#f0f0f0" stroke-width="0.25"/>
<text x="410.1" y="19.4" font-size="1.5" fill="#777" text-anchor="end" font-weight="normal" font-family="Liberation Sans">cadherin binding</text>
<line x1="410.5" y1="21.3" x2="447.6" y2="21.3" stroke="#f0f0f0" stroke-width="0.25"/>
<text x="410.1" y="21.8" font-size="1.5" fill="#777" text-anchor="end" font-weight="normal" font-family="Liberation Sans">heparin binding</text>
<line x1="410.5" y1="23.4" x2="447.6" y2="23.4" stroke="#f0f0f0" stroke-width="0.25"/>
<text x="410.1" y="23.9" font-size="1.5" fill="#777" text-anchor="end" font-weight="normal" font-family="Liberation Sans">fibronectin binding</text>
<line x1="410.5" y1="25.6" x2="447.6" y2="25.6" stroke="#f0f0f0" stroke-width="0.25"/>
<text x="410.1" y="26.1" font-size="1.5" fill="#777" text-anchor="end" font-weight="normal" font-family="Liberation Sans">protease binding</text>
<circle cx="438.5" cy="5.5" r="0.55" fill="#8030e0"/>
<circle cx="435.5" cy="7.9" r="0.5" fill="#a030d0"/>
<circle cx="433.7" cy="10.1" r="0.6" fill="#6030f0"/>
<circle cx="432.8" cy="12.2" r="0.55" fill="#7030f0"/>
<circle cx="432.1" cy="14.6" r="1.05" fill="#1818ff"/>
<circle cx="431" cy="16.5" r="0.45" fill="#e050a0"/>
<circle cx="427.7" cy="18.9" r="1.15" fill="#1010ff"/>
<circle cx="427.3" cy="21.3" r="0.3" fill="#f04060"/>
<circle cx="427.3" cy="23.4" r="0.3" fill="#f04060"/>
<circle cx="427.3" cy="25.6" r="0.3" fill="#f04060"/>
<rect x="410.5" y="27.8" width="37.1" height="22.1" fill="#fff" stroke="#bbb" stroke-width="0.25"/>
<rect x="447.6" y="27.8" width="3.4" height="22.1" fill="#d0d0d0" stroke="#bbb" stroke-width="0.25"/>
<text x="449.6" y="38.85" font-size="1.6" fill="#555" text-anchor="middle" font-weight="normal" font-family="Liberation Sans" transform="rotate(90 449.6 38.85)">CC</text>
<line x1="412.5" y1="27.8" x2="412.5" y2="49.9" stroke="#eee" stroke-width="0.3"/>
<line x1="419.5" y1="27.8" x2="419.5" y2="49.9" stroke="#eee" stroke-width="0.3"/>
<line x1="426.5" y1="27.8" x2="426.5" y2="49.9" stroke="#eee" stroke-width="0.3"/>
<line x1="433.5" y1="27.8" x2="433.5" y2="49.9" stroke="#eee" stroke-width="0.3"/>
<line x1="440.5" y1="27.8" x2="440.5" y2="49.9" stroke="#eee" stroke-width="0.3"/>
<line x1="410.5" y1="29.3" x2="447.6" y2="29.3" stroke="#f0f0f0" stroke-width="0.25"/>
<text x="410.1" y="29.8" font-size="1.5" fill="#777" text-anchor="end" font-weight="normal" font-family="Liberation Sans">collagen binding</text>
<line x1="410.5" y1="31.5" x2="447.6" y2="31.5" stroke="#f0f0f0" stroke-width="0.25"/>
<text x="410.1" y="32" font-size="1.5" fill="#777" text-anchor="end" font-weight="normal" font-family="Liberation Sans">growth factor binding</text>
<line x1="410.5" y1="33.5" x2="447.6" y2="33.5" stroke="#f0f0f0" stroke-width="0.25"/>
<text x="410.1" y="34" font-size="1.5" fill="#777" text-anchor="end" font-weight="normal" font-family="Liberation Sans">glycosaminoglycan binding</text>
<line x1="410.5" y1="35.7" x2="447.6" y2="35.7" stroke="#f0f0f0" stroke-width="0.25"/>
<text x="410.1" y="36.2" font-size="1.5" fill="#777" text-anchor="end" font-weight="normal" font-family="Liberation Sans">cadherin binding</text>
<line x1="410.5" y1="38.2" x2="447.6" y2="38.2" stroke="#f0f0f0" stroke-width="0.25"/>
<text x="410.1" y="38.7" font-size="1.5" fill="#777" text-anchor="end" font-weight="normal" font-family="Liberation Sans">heparin binding</text>
<line x1="410.5" y1="40.3" x2="447.6" y2="40.3" stroke="#f0f0f0" stroke-width="0.25"/>
<text x="410.1" y="40.8" font-size="1.5" fill="#777" text-anchor="end" font-weight="normal" font-family="Liberation Sans">fibronectin binding</text>
<line x1="410.5" y1="42.5" x2="447.6" y2="42.5" stroke="#f0f0f0" stroke-width="0.25"/>
<text x="410.1" y="43" font-size="1.5" fill="#777" text-anchor="end" font-weight="normal" font-family="Liberation Sans">protease binding</text>
<line x1="410.5" y1="44.4" x2="447.6" y2="44.4" stroke="#f0f0f0" stroke-width="0.25"/>
<text x="410.1" y="44.9" font-size="1.5" fill="#777" text-anchor="end" font-weight="normal" font-family="Liberation Sans">cell adhesion molecule binding</text>
<line x1="410.5" y1="47" x2="447.6" y2="47" stroke="#f0f0f0" stroke-width="0.25"/>
<text x="410.1" y="47.5" font-size="1.5" fill="#777" text-anchor="end" font-weight="normal" font-family="Liberation Sans">extracellular matrix structural constituent</text>
<line x1="410.5" y1="49.3" x2="447.6" y2="49.3" stroke="#f0f0f0" stroke-width="0.25"/>
<text x="410.1" y="49.8" font-size="1.5" fill="#777" text-anchor="end" font-weight="normal" font-family="Liberation Sans">integrin binding</text>
<circle cx="434.6" cy="29.3" r="0.6" fill="#9030e0"/>
<circle cx="427.3" cy="31.5" r="0.3" fill="#f04060"/>
<circle cx="423.3" cy="33.5" r="0.5" fill="#9030d0"/>
<circle cx="420.6" cy="35.7" r="0.6" fill="#5030f0"/>
<circle cx="420.5" cy="38.2" r="0.55" fill="#9030e0"/>
<circle cx="420.4" cy="40.3" r="0.4" fill="#b030c0"/>
<circle cx="418.2" cy="42.5" r="0.45" fill="#b030c0"/>
<circle cx="417.2" cy="44.4" r="0.5" fill="#a030d0"/>
<circle cx="415.9" cy="47" r="0.95" fill="#1818ff"/>
<circle cx="415.5" cy="49.3" r="0.35" fill="#e04080"/>
<rect x="410.5" y="51.2" width="37.1" height="22.4" fill="#fff" stroke="#bbb" stroke-width="0.25"/>
<rect x="447.6" y="51.2" width="3.4" height="22.4" fill="#d0d0d0" stroke="#bbb" stroke-width="0.25"/>
<text x="449.6" y="62.4" font-size="1.6" fill="#555" text-anchor="middle" font-weight="normal" font-family="Liberation Sans" transform="rotate(90 449.6 62.4)">BP</text>
<line x1="412.5" y1="51.2" x2="412.5" y2="73.6" stroke="#eee" stroke-width="0.3"/>
<line x1="419.5" y1="51.2" x2="419.5" y2="73.6" stroke="#eee" stroke-width="0.3"/>
<line x1="426.5" y1="51.2" x2="426.5" y2="73.6" stroke="#eee" stroke-width="0.3"/>
<line x1="433.5" y1="51.2" x2="433.5" y2="73.6" stroke="#eee" stroke-width="0.3"/>
<line x1="440.5" y1="51.2" x2="440.5" y2="73.6" stroke="#eee" stroke-width="0.3"/>
<line x1="410.5" y1="52.7" x2="447.6" y2="52.7" stroke="#f0f0f0" stroke-width="0.25"/>
<text x="410.1" y="53.2" font-size="1.5" fill="#777" text-anchor="end" font-weight="normal" font-family="Liberation Sans">cadherin binding</text>
<line x1="410.5" y1="54.9" x2="447.6" y2="54.9" stroke="#f0f0f0" stroke-width="0.25"/>
<text x="410.1" y="55.4" font-size="1.5" fill="#777" text-anchor="end" font-weight="normal" font-family="Liberation Sans">heparin binding</text>
<line x1="410.5" y1="57.2" x2="447.6" y2="57.2" stroke="#f0f0f0" stroke-width="0.25"/>
<text x="410.1" y="57.7" font-size="1.5" fill="#777" text-anchor="end" font-weight="normal" font-family="Liberation Sans">fibronectin binding</text>
<line x1="410.5" y1="59.5" x2="447.6" y2="59.5" stroke="#f0f0f0" stroke-width="0.25"/>
<text x="410.1" y="60" font-size="1.5" fill="#777" text-anchor="end" font-weight="normal" font-family="Liberation Sans">protease binding</text>
<line x1="410.5" y1="61.6" x2="447.6" y2="61.6" stroke="#f0f0f0" stroke-width="0.25"/>
<text x="410.1" y="62.1" font-size="1.5" fill="#777" text-anchor="end" font-weight="normal" font-family="Liberation Sans">cell adhesion molecule binding</text>
<line x1="410.5" y1="63.6" x2="447.6" y2="63.6" stroke="#f0f0f0" stroke-width="0.25"/>
<text x="410.1" y="64.1" font-size="1.5" fill="#777" text-anchor="end" font-weight="normal" font-family="Liberation Sans">extracellular matrix structural constituent</text>
<line x1="410.5" y1="65.9" x2="447.6" y2="65.9" stroke="#f0f0f0" stroke-width="0.25"/>
<text x="410.1" y="66.4" font-size="1.5" fill="#777" text-anchor="end" font-weight="normal" font-family="Liberation Sans">integrin binding</text>
<line x1="410.5" y1="68.3" x2="447.6" y2="68.3" stroke="#f0f0f0" stroke-width="0.25"/>
<text x="410.1" y="68.8" font-size="1.5" fill="#777" text-anchor="end" font-weight="normal" font-family="Liberation Sans">collagen binding</text>
<line x1="410.5" y1="70.4" x2="447.6" y2="70.4" stroke="#f0f0f0" stroke-width="0.25"/>
<text x="410.1" y="70.9" font-size="1.5" fill="#777" text-anchor="end" font-weight="normal" font-family="Liberation Sans">growth factor binding</text>
<line x1="410.5" y1="72.6" x2="447.6" y2="72.6" stroke="#f0f0f0" stroke-width="0.25"/>
<text x="410.1" y="73.1" font-size="1.5" fill="#777" text-anchor="end" font-weight="normal" font-family="Liberation Sans">glycosaminoglycan binding</text>
<circle cx="446.4" cy="52.7" r="0.75" fill="#2020ff"/>
<circle cx="446.4" cy="54.9" r="0.75" fill="#2020ff"/>
<circle cx="429.3" cy="57.2" r="0.75" fill="#2020ff"/>
<circle cx="421.4" cy="59.5" r="0.45" fill="#d030b0"/>
<circle cx="419.5" cy="61.6" r="0.45" fill="#c030c0"/>
<circle cx="418.2" cy="63.6" r="0.45" fill="#b030c0"/>
<circle cx="417.8" cy="65.9" r="0.65" fill="#6030f0"/>
<circle cx="413.7" cy="68.3" r="0.55" fill="#7030e0"/>
<circle cx="412.7" cy="70.4" r="0.4" fill="#c030c0"/>
<circle cx="412.4" cy="72.6" r="0.35" fill="#d030b0"/>
<text x="412.5" y="75.5" font-size="1.4" fill="#777" text-anchor="middle" font-weight="normal" font-family="Liberation Sans">0.5</text>
<text x="419.5" y="75.5" font-size="1.4" fill="#777" text-anchor="middle" font-weight="normal" font-family="Liberation Sans">1.0</text>
<text x="426.5" y="75.5" font-size="1.4" fill="#777" text-anchor="middle" font-weight="normal" font-family="Liberation Sans">1.5</text>
<text x="433.5" y="75.5" font-size="1.4" fill="#777" text-anchor="middle" font-weight="normal" font-family="Liberation Sans">2.0</text>
<text x="440.5" y="75.5" font-size="1.4" fill="#777" text-anchor="middle" font-weight="normal" font-family="Liberation Sans">2.5</text>
<text x="429.6" y="78.6" font-size="1.8" fill="#444" text-anchor="middle" font-weight="normal" font-family="Liberation Sans">-log10(Pvalue)</text>
<text x="453.3" y="23.4" font-size="1.5" fill="#555" text-anchor="start" font-weight="normal" font-family="Liberation Sans">p.adjust</text>
<rect x="453.3" y="24.7" width="2.7" height="15.7" fill="url(#gr1)"/>
<text x="457.4" y="26" font-size="1.4" fill="#777" text-anchor="start" font-weight="normal" font-family="Liberation Sans">0.08</text>
<text x="457.4" y="30.2" font-size="1.4" fill="#777" text-anchor="start" font-weight="normal" font-family="Liberation Sans">0.06</text>
<text x="457.4" y="34.4" font-size="1.4" fill="#777" text-anchor="start" font-weight="normal" font-family="Liberation Sans">0.04</text>
<text x="457.4" y="38.6" font-size="1.4" fill="#777" text-anchor="start" font-weight="normal" font-family="Liberation Sans">0.02</text>
<text x="453.4" y="45.5" font-size="1.6" fill="#555" text-anchor="start" font-weight="normal" font-family="Liberation Sans">Gene number</text>
<circle cx="454.7" cy="48.6" r="0.45" fill="#222"/>
<text x="456.5" y="49.2" font-size="1.4" fill="#666" text-anchor="start" font-weight="normal" font-family="Liberation Sans">10</text>
<circle cx="454.7" cy="51.6" r="0.7" fill="#222"/>
<text x="456.5" y="52.2" font-size="1.4" fill="#666" text-anchor="start" font-weight="normal" font-family="Liberation Sans">15</text>
<circle cx="454.7" cy="54.6" r="0.95" fill="#222"/>
<text x="456.5" y="55.2" font-size="1.4" fill="#666" text-anchor="start" font-weight="normal" font-family="Liberation Sans">20</text>
<line x1="489.2" y1="23.6" x2="489.2" y2="61.5" stroke="#222" stroke-width="0.5"/>
<line x1="489.2" y1="61.5" x2="514" y2="61.5" stroke="#222" stroke-width="0.5"/>
<text x="0" y="0" font-size="3.2" fill="#000" text-anchor="middle" font-weight="bold" font-family="Liberation Sans" transform="translate(502 19.5) scale(1 1.25)">SKOV3</text>
<line x1="488.2" y1="24.1" x2="489.2" y2="24.1" stroke="#222" stroke-width="0.4"/>
<text x="0" y="0" font-size="2.2" fill="#000" text-anchor="end" font-weight="bold" font-family="Liberation Sans" transform="translate(487.8 25.09) scale(1 1.25)">2000</text>
<line x1="488.2" y1="33.4" x2="489.2" y2="33.4" stroke="#222" stroke-width="0.4"/>
<text x="0" y="0" font-size="2.2" fill="#000" text-anchor="end" font-weight="bold" font-family="Liberation Sans" transform="translate(487.8 34.39) scale(1 1.25)">1500</text>
<line x1="488.2" y1="42.7" x2="489.2" y2="42.7" stroke="#222" stroke-width="0.4"/>
<text x="0" y="0" font-size="2.2" fill="#000" text-anchor="end" font-weight="bold" font-family="Liberation Sans" transform="translate(487.8 43.69) scale(1 1.25)">1000</text>
<line x1="488.2" y1="52.1" x2="489.2" y2="52.1" stroke="#222" stroke-width="0.4"/>
<text x="0" y="0" font-size="2.2" fill="#000" text-anchor="end" font-weight="bold" font-family="Liberation Sans" transform="translate(487.8 53.09) scale(1 1.25)">500</text>
<line x1="488.2" y1="61.5" x2="489.2" y2="61.5" stroke="#222" stroke-width="0.4"/>
<text x="0" y="0" font-size="2.2" fill="#000" text-anchor="end" font-weight="bold" font-family="Liberation Sans" transform="translate(487.8 62.49) scale(1 1.25)">0</text>
<rect x="491.6" y="30.7" width="5.3" height="30.8" fill="#8aa6d8" stroke="#5a78b0" stroke-width="0.4"/>
<line x1="494.25" y1="29.9" x2="494.25" y2="30.7" stroke="#5a78b0" stroke-width="0.3"/>
<line x1="493.35" y1="29.9" x2="495.15" y2="29.9" stroke="#5a78b0" stroke-width="0.3"/>
<line x1="494.25" y1="61.5" x2="494.25" y2="62.4" stroke="#222" stroke-width="0.4"/>
<rect x="499" y="49" width="5" height="12.5" fill="#dccdaa" stroke="#a08e6a" stroke-width="0.4"/>
<line x1="501.5" y1="46" x2="501.5" y2="49" stroke="#a08e6a" stroke-width="0.3"/>
<line x1="500.6" y1="46" x2="502.4" y2="46" stroke="#a08e6a" stroke-width="0.3"/>
<line x1="501.5" y1="61.5" x2="501.5" y2="62.4" stroke="#222" stroke-width="0.4"/>
<rect x="506.4" y="51.1" width="5.1" height="10.4" fill="#efebe2" stroke="#a0a0a0" stroke-width="0.4"/>
<line x1="508.95" y1="49.9" x2="508.95" y2="51.1" stroke="#a0a0a0" stroke-width="0.3"/>
<line x1="508.05" y1="49.9" x2="509.85" y2="49.9" stroke="#a0a0a0" stroke-width="0.3"/>
<line x1="508.95" y1="61.5" x2="508.95" y2="62.4" stroke="#222" stroke-width="0.4"/>
<text x="0" y="0" font-size="2.5" fill="#000" text-anchor="middle" font-weight="bold" font-family="Liberation Sans" transform="translate(479.6 42.55) rotate(-90) scale(1 1.25)">Glucose consumption (μ g/mg)</text>
<text x="0" y="0" font-size="2.7" fill="#000" text-anchor="end" font-weight="bold" font-family="Liberation Sans" transform="translate(495.45 64.5) rotate(-45) scale(1 1.25)">NC</text>
<text x="0" y="0" font-size="2.7" fill="#000" text-anchor="end" font-weight="bold" font-family="Liberation Sans" transform="translate(502.7 64.5) rotate(-45) scale(1 1.25)">Sh-SLC45A4-1</text>
<text x="0" y="0" font-size="2.7" fill="#000" text-anchor="end" font-weight="bold" font-family="Liberation Sans" transform="translate(510.15 64.5) rotate(-45) scale(1 1.25)">Sh-SLC45A4-2</text>
<text x="0" y="0" font-size="2.0" fill="#333" text-anchor="middle" font-weight="bold" font-family="Liberation Sans" transform="translate(501.5 46.1) scale(1 1.25)">****</text>
<text x="0" y="0" font-size="2.0" fill="#333" text-anchor="middle" font-weight="bold" font-family="Liberation Sans" transform="translate(509 50.1) scale(1 1.25)">****</text>
<rect x="522.3" y="25.8" width="4.1" height="1.8" fill="#8aa6d8" stroke="#5a78b0" stroke-width="0.25"/>
<text x="0" y="0" font-size="2.9" fill="#222" text-anchor="start" font-weight="normal" font-family="Liberation Sans" transform="translate(528.8 28) scale(1 1.25)">NC</text>
<rect x="522.3" y="31" width="4.1" height="1.8" fill="#dccdaa" stroke="#a08e6a" stroke-width="0.25"/>
<text x="0" y="0" font-size="2.9" fill="#222" text-anchor="start" font-weight="normal" font-family="Liberation Sans" transform="translate(528.8 33.2) scale(1 1.25)">Sh-SLC45A4-1</text>
<rect x="522.3" y="35.9" width="4.1" height="1.8" fill="#efebe2" stroke="#a0a0a0" stroke-width="0.25"/>
<text x="0" y="0" font-size="2.9" fill="#222" text-anchor="start" font-weight="normal" font-family="Liberation Sans" transform="translate(528.8 38.1) scale(1 1.25)">Sh-SLC45A4-2</text>
<line x1="566.1" y1="23.9" x2="566.1" y2="61.6" stroke="#222" stroke-width="0.5"/>
<line x1="566.1" y1="61.6" x2="589.1" y2="61.6" stroke="#222" stroke-width="0.5"/>
<text x="0" y="0" font-size="3.2" fill="#000" text-anchor="middle" font-weight="bold" font-family="Liberation Sans" transform="translate(578.3 19.5) scale(1 1.25)">OVCAR3</text>
<line x1="565.1" y1="23.9" x2="566.1" y2="23.9" stroke="#222" stroke-width="0.4"/>
<text x="0" y="0" font-size="2.2" fill="#000" text-anchor="end" font-weight="bold" font-family="Liberation Sans" transform="translate(564.7 24.89) scale(1 1.25)">2500</text>
<line x1="565.1" y1="31.4" x2="566.1" y2="31.4" stroke="#222" stroke-width="0.4"/>
<text x="0" y="0" font-size="2.2" fill="#000" text-anchor="end" font-weight="bold" font-family="Liberation Sans" transform="translate(564.7 32.39) scale(1 1.25)">2000</text>
<line x1="565.1" y1="38.9" x2="566.1" y2="38.9" stroke="#222" stroke-width="0.4"/>
<text x="0" y="0" font-size="2.2" fill="#000" text-anchor="end" font-weight="bold" font-family="Liberation Sans" transform="translate(564.7 39.89) scale(1 1.25)">1500</text>
<line x1="565.1" y1="46.4" x2="566.1" y2="46.4" stroke="#222" stroke-width="0.4"/>
<text x="0" y="0" font-size="2.2" fill="#000" text-anchor="end" font-weight="bold" font-family="Liberation Sans" transform="translate(564.7 47.39) scale(1 1.25)">1000</text>
<line x1="565.1" y1="53.9" x2="566.1" y2="53.9" stroke="#222" stroke-width="0.4"/>
<text x="0" y="0" font-size="2.2" fill="#000" text-anchor="end" font-weight="bold" font-family="Liberation Sans" transform="translate(564.7 54.89) scale(1 1.25)">500</text>
<line x1="565.1" y1="61.6" x2="566.1" y2="61.6" stroke="#222" stroke-width="0.4"/>
<text x="0" y="0" font-size="2.2" fill="#000" text-anchor="end" font-weight="bold" font-family="Liberation Sans" transform="translate(564.7 62.59) scale(1 1.25)">0</text>
<rect x="568.2" y="30.3" width="5.6" height="31.3" fill="#8aa6d8" stroke="#5a78b0" stroke-width="0.4"/>
<line x1="571" y1="29.6" x2="571" y2="30.3" stroke="#5a78b0" stroke-width="0.3"/>
<line x1="570.1" y1="29.6" x2="571.9" y2="29.6" stroke="#5a78b0" stroke-width="0.3"/>
<line x1="571" y1="61.6" x2="571" y2="62.5" stroke="#222" stroke-width="0.4"/>
<rect x="575.7" y="53.3" width="5.3" height="8.3" fill="#dccdaa" stroke="#a08e6a" stroke-width="0.4"/>
<line x1="578.35" y1="52.7" x2="578.35" y2="53.3" stroke="#a08e6a" stroke-width="0.3"/>
<line x1="577.45" y1="52.7" x2="579.25" y2="52.7" stroke="#a08e6a" stroke-width="0.3"/>
<line x1="578.35" y1="61.6" x2="578.35" y2="62.5" stroke="#222" stroke-width="0.4"/>
<rect x="583.2" y="54.8" width="5.3" height="6.8" fill="#efebe2" stroke="#a0a0a0" stroke-width="0.4"/>
<line x1="585.85" y1="54" x2="585.85" y2="54.8" stroke="#a0a0a0" stroke-width="0.3"/>
<line x1="584.95" y1="54" x2="586.75" y2="54" stroke="#a0a0a0" stroke-width="0.3"/>
<line x1="585.85" y1="61.6" x2="585.85" y2="62.5" stroke="#222" stroke-width="0.4"/>
<text x="0" y="0" font-size="2.5" fill="#000" text-anchor="middle" font-weight="bold" font-family="Liberation Sans" transform="translate(556.9 42.75) rotate(-90) scale(1 1.25)">Glucose consumption (μ g/mg)</text>
<text x="0" y="0" font-size="2.7" fill="#000" text-anchor="end" font-weight="bold" font-family="Liberation Sans" transform="translate(572.2 64.6) rotate(-45) scale(1 1.25)">NC</text>
<text x="0" y="0" font-size="2.7" fill="#000" text-anchor="end" font-weight="bold" font-family="Liberation Sans" transform="translate(579.55 64.6) rotate(-45) scale(1 1.25)">Sh-SLC45A4-1</text>
<text x="0" y="0" font-size="2.7" fill="#000" text-anchor="end" font-weight="bold" font-family="Liberation Sans" transform="translate(587.05 64.6) rotate(-45) scale(1 1.25)">Sh-SLC45A4-2</text>
<text x="0" y="0" font-size="2.0" fill="#8a3aa8" text-anchor="middle" font-weight="bold" font-family="Liberation Sans" transform="translate(578.3 50.9) scale(1 1.25)">****</text>
<text x="0" y="0" font-size="2.0" fill="#8a3aa8" text-anchor="middle" font-weight="bold" font-family="Liberation Sans" transform="translate(585.8 52.9) scale(1 1.25)">****</text>
<rect x="599.2" y="25.8" width="4.1" height="1.8" fill="#8aa6d8" stroke="#5a78b0" stroke-width="0.25"/>
<text x="0" y="0" font-size="2.9" fill="#222" text-anchor="start" font-weight="normal" font-family="Liberation Sans" transform="translate(605.7 28) scale(1 1.25)">NC</text>
<rect x="599.2" y="31" width="4.1" height="1.8" fill="#dccdaa" stroke="#a08e6a" stroke-width="0.25"/>
<text x="0" y="0" font-size="2.9" fill="#222" text-anchor="start" font-weight="normal" font-family="Liberation Sans" transform="translate(605.7 33.2) scale(1 1.25)">Sh-SLC45A4-1</text>
<rect x="599.2" y="35.9" width="4.1" height="1.8" fill="#efebe2" stroke="#a0a0a0" stroke-width="0.25"/>
<text x="0" y="0" font-size="2.9" fill="#222" text-anchor="start" font-weight="normal" font-family="Liberation Sans" transform="translate(605.7 38.1) scale(1 1.25)">Sh-SLC45A4-2</text>
<line x1="12.9" y1="133.9" x2="12.9" y2="171.9" stroke="#222" stroke-width="0.5"/>
<line x1="12.9" y1="171.9" x2="37" y2="171.9" stroke="#222" stroke-width="0.5"/>
<text x="0" y="0" font-size="3.2" fill="#000" text-anchor="middle" font-weight="bold" font-family="Liberation Sans" transform="translate(25.8 129.5) scale(1 1.25)">SKOV3</text>
<line x1="11.9" y1="134.3" x2="12.9" y2="134.3" stroke="#222" stroke-width="0.4"/>
<text x="0" y="0" font-size="2.2" fill="#000" text-anchor="end" font-weight="bold" font-family="Liberation Sans" transform="translate(11.5 135.29) scale(1 1.25)">0.8</text>
<line x1="11.9" y1="143.8" x2="12.9" y2="143.8" stroke="#222" stroke-width="0.4"/>
<text x="0" y="0" font-size="2.2" fill="#000" text-anchor="end" font-weight="bold" font-family="Liberation Sans" transform="translate(11.5 144.79) scale(1 1.25)">0.6</text>
<line x1="11.9" y1="153.1" x2="12.9" y2="153.1" stroke="#222" stroke-width="0.4"/>
<text x="0" y="0" font-size="2.2" fill="#000" text-anchor="end" font-weight="bold" font-family="Liberation Sans" transform="translate(11.5 154.09) scale(1 1.25)">0.4</text>
<line x1="11.9" y1="162.4" x2="12.9" y2="162.4" stroke="#222" stroke-width="0.4"/>
<text x="0" y="0" font-size="2.2" fill="#000" text-anchor="end" font-weight="bold" font-family="Liberation Sans" transform="translate(11.5 163.39) scale(1 1.25)">0.2</text>
<line x1="11.9" y1="171.9" x2="12.9" y2="171.9" stroke="#222" stroke-width="0.4"/>
<text x="0" y="0" font-size="2.2" fill="#000" text-anchor="end" font-weight="bold" font-family="Liberation Sans" transform="translate(11.5 172.89) scale(1 1.25)">0.0</text>
<rect x="15.2" y="143.8" width="5" height="28.1" fill="#8aa6d8" stroke="#5a78b0" stroke-width="0.4"/>
<line x1="17.7" y1="142.2" x2="17.7" y2="143.8" stroke="#5a78b0" stroke-width="0.3"/>
<line x1="16.8" y1="142.2" x2="18.6" y2="142.2" stroke="#5a78b0" stroke-width="0.3"/>
<line x1="17.7" y1="171.9" x2="17.7" y2="172.8" stroke="#222" stroke-width="0.4"/>
<rect x="22.4" y="155" width="4.9" height="16.9" fill="#dccdaa" stroke="#a08e6a" stroke-width="0.4"/>
<line x1="24.85" y1="154.5" x2="24.85" y2="155" stroke="#a08e6a" stroke-width="0.3"/>
<line x1="23.95" y1="154.5" x2="25.75" y2="154.5" stroke="#a08e6a" stroke-width="0.3"/>
<line x1="24.85" y1="171.9" x2="24.85" y2="172.8" stroke="#222" stroke-width="0.4"/>
<rect x="29.3" y="156" width="5" height="15.9" fill="#efebe2" stroke="#a0a0a0" stroke-width="0.4"/>
<line x1="31.8" y1="155.5" x2="31.8" y2="156" stroke="#a0a0a0" stroke-width="0.3"/>
<line x1="30.9" y1="155.5" x2="32.7" y2="155.5" stroke="#a0a0a0" stroke-width="0.3"/>
<line x1="31.8" y1="171.9" x2="31.8" y2="172.8" stroke="#222" stroke-width="0.4"/>
<text x="0" y="0" font-size="2.8" fill="#000" text-anchor="middle" font-weight="bold" font-family="Liberation Sans" transform="translate(4.6 150.2) rotate(-90) scale(1 1.25)">Lactic acid secretion(μmol/mg)</text>
<text x="0" y="0" font-size="2.7" fill="#000" text-anchor="end" font-weight="bold" font-family="Liberation Sans" transform="translate(18.9 174.9) rotate(-45) scale(1 1.25)">NC</text>
<text x="0" y="0" font-size="2.7" fill="#000" text-anchor="end" font-weight="bold" font-family="Liberation Sans" transform="translate(26.05 174.9) rotate(-45) scale(1 1.25)">Sh-SLC45A4-1</text>
<text x="0" y="0" font-size="2.7" fill="#000" text-anchor="end" font-weight="bold" font-family="Liberation Sans" transform="translate(33 174.9) rotate(-45) scale(1 1.25)">Sh-SLC45A4-2</text>
<text x="0" y="0" font-size="2.0" fill="#8a3aa8" text-anchor="middle" font-weight="bold" font-family="Liberation Sans" transform="translate(24.8 153.9) scale(1 1.25)">***</text>
<text x="0" y="0" font-size="2.0" fill="#8a3aa8" text-anchor="middle" font-weight="bold" font-family="Liberation Sans" transform="translate(31.8 154.9) scale(1 1.25)">***</text>
<rect x="44.8" y="136.1" width="4.1" height="1.8" fill="#8aa6d8" stroke="#5a78b0" stroke-width="0.25"/>
<text x="0" y="0" font-size="2.9" fill="#222" text-anchor="start" font-weight="normal" font-family="Liberation Sans" transform="translate(51.3 138.31) scale(1 1.25)">NC</text>
<rect x="44.8" y="141.2" width="4.1" height="1.8" fill="#dccdaa" stroke="#a08e6a" stroke-width="0.25"/>
<text x="0" y="0" font-size="2.9" fill="#222" text-anchor="start" font-weight="normal" font-family="Liberation Sans" transform="translate(51.3 143.41) scale(1 1.25)">Sh-SLC45A4-1</text>
<rect x="44.8" y="146.2" width="4.1" height="1.8" fill="#efebe2" stroke="#a0a0a0" stroke-width="0.25"/>
<text x="0" y="0" font-size="2.9" fill="#222" text-anchor="start" font-weight="normal" font-family="Liberation Sans" transform="translate(51.3 148.41) scale(1 1.25)">Sh-SLC45A4-2</text>
<line x1="98.2" y1="133.9" x2="98.2" y2="171.9" stroke="#222" stroke-width="0.5"/>
<line x1="98.2" y1="171.9" x2="119.6" y2="171.9" stroke="#222" stroke-width="0.5"/>
<text x="0" y="0" font-size="3.2" fill="#000" text-anchor="middle" font-weight="bold" font-family="Liberation Sans" transform="translate(107.8 129.5) scale(1 1.25)">OVCAR3</text>
<line x1="97.2" y1="134.3" x2="98.2" y2="134.3" stroke="#222" stroke-width="0.4"/>
<text x="0" y="0" font-size="2.2" fill="#000" text-anchor="end" font-weight="bold" font-family="Liberation Sans" transform="translate(96.8 135.29) scale(1 1.25)">1.2</text>
<line x1="97.2" y1="140.6" x2="98.2" y2="140.6" stroke="#222" stroke-width="0.4"/>
<text x="0" y="0" font-size="2.2" fill="#000" text-anchor="end" font-weight="bold" font-family="Liberation Sans" transform="translate(96.8 141.59) scale(1 1.25)">1.0</text>
<line x1="97.2" y1="146.9" x2="98.2" y2="146.9" stroke="#222" stroke-width="0.4"/>
<text x="0" y="0" font-size="2.2" fill="#000" text-anchor="end" font-weight="bold" font-family="Liberation Sans" transform="translate(96.8 147.89) scale(1 1.25)">0.8</text>
<line x1="97.2" y1="153.2" x2="98.2" y2="153.2" stroke="#222" stroke-width="0.4"/>
<text x="0" y="0" font-size="2.2" fill="#000" text-anchor="end" font-weight="bold" font-family="Liberation Sans" transform="translate(96.8 154.19) scale(1 1.25)">0.6</text>
<line x1="97.2" y1="159.5" x2="98.2" y2="159.5" stroke="#222" stroke-width="0.4"/>
<text x="0" y="0" font-size="2.2" fill="#000" text-anchor="end" font-weight="bold" font-family="Liberation Sans" transform="translate(96.8 160.49) scale(1 1.25)">0.4</text>
<line x1="97.2" y1="165.7" x2="98.2" y2="165.7" stroke="#222" stroke-width="0.4"/>
<text x="0" y="0" font-size="2.2" fill="#000" text-anchor="end" font-weight="bold" font-family="Liberation Sans" transform="translate(96.8 166.69) scale(1 1.25)">0.2</text>
<line x1="97.2" y1="171.9" x2="98.2" y2="171.9" stroke="#222" stroke-width="0.4"/>
<text x="0" y="0" font-size="2.2" fill="#000" text-anchor="end" font-weight="bold" font-family="Liberation Sans" transform="translate(96.8 172.89) scale(1 1.25)">0.0</text>
<rect x="100.4" y="145.1" width="4.9" height="26.8" fill="#8aa6d8" stroke="#5a78b0" stroke-width="0.4"/>
<line x1="102.85" y1="142.9" x2="102.85" y2="145.1" stroke="#5a78b0" stroke-width="0.3"/>
<line x1="101.95" y1="142.9" x2="103.75" y2="142.9" stroke="#5a78b0" stroke-width="0.3"/>
<line x1="102.85" y1="171.9" x2="102.85" y2="172.8" stroke="#222" stroke-width="0.4"/>
<rect x="107.1" y="157" width="5" height="14.9" fill="#dccdaa" stroke="#a08e6a" stroke-width="0.4"/>
<line x1="109.6" y1="156.5" x2="109.6" y2="157" stroke="#a08e6a" stroke-width="0.3"/>
<line x1="108.7" y1="156.5" x2="110.5" y2="156.5" stroke="#a08e6a" stroke-width="0.3"/>
<line x1="109.6" y1="171.9" x2="109.6" y2="172.8" stroke="#222" stroke-width="0.4"/>
<rect x="114.1" y="156.6" width="4.5" height="15.3" fill="#efebe2" stroke="#a0a0a0" stroke-width="0.4"/>
<line x1="116.35" y1="155.4" x2="116.35" y2="156.6" stroke="#a0a0a0" stroke-width="0.3"/>
<line x1="115.45" y1="155.4" x2="117.25" y2="155.4" stroke="#a0a0a0" stroke-width="0.3"/>
<line x1="116.35" y1="171.9" x2="116.35" y2="172.8" stroke="#222" stroke-width="0.4"/>
<text x="0" y="0" font-size="2.8" fill="#000" text-anchor="middle" font-weight="bold" font-family="Liberation Sans" transform="translate(89 150.2) rotate(-90) scale(1 1.25)">Lactic acid secretion(μmol/mg)</text>
<text x="0" y="0" font-size="2.7" fill="#000" text-anchor="end" font-weight="bold" font-family="Liberation Sans" transform="translate(104.05 174.9) rotate(-45) scale(1 1.25)">NC</text>
<text x="0" y="0" font-size="2.7" fill="#000" text-anchor="end" font-weight="bold" font-family="Liberation Sans" transform="translate(110.8 174.9) rotate(-45) scale(1 1.25)">Sh-SLC45A4-1</text>
<text x="0" y="0" font-size="2.7" fill="#000" text-anchor="end" font-weight="bold" font-family="Liberation Sans" transform="translate(117.55 174.9) rotate(-45) scale(1 1.25)">Sh-SLC45A4-2</text>
<text x="0" y="0" font-size="2.0" fill="#8a3aa8" text-anchor="middle" font-weight="bold" font-family="Liberation Sans" transform="translate(109.6 155.9) scale(1 1.25)">***</text>
<text x="0" y="0" font-size="2.0" fill="#8a3aa8" text-anchor="middle" font-weight="bold" font-family="Liberation Sans" transform="translate(116.4 154.7) scale(1 1.25)">***</text>
<rect x="129.5" y="136.1" width="4.1" height="1.8" fill="#8aa6d8" stroke="#5a78b0" stroke-width="0.25"/>
<text x="0" y="0" font-size="2.9" fill="#222" text-anchor="start" font-weight="normal" font-family="Liberation Sans" transform="translate(136 138.31) scale(1 1.25)">NC</text>
<rect x="129.5" y="141.2" width="4.1" height="1.8" fill="#dccdaa" stroke="#a08e6a" stroke-width="0.25"/>
<text x="0" y="0" font-size="2.9" fill="#222" text-anchor="start" font-weight="normal" font-family="Liberation Sans" transform="translate(136 143.41) scale(1 1.25)">Sh-SLC45A4-1</text>
<rect x="129.5" y="146.2" width="4.1" height="1.8" fill="#efebe2" stroke="#a0a0a0" stroke-width="0.25"/>
<text x="0" y="0" font-size="2.9" fill="#222" text-anchor="start" font-weight="normal" font-family="Liberation Sans" transform="translate(136 148.41) scale(1 1.25)">Sh-SLC45A4-2</text>
<line x1="182.3" y1="131.9" x2="182.3" y2="171.1" stroke="#222" stroke-width="0.5"/>
<line x1="182.3" y1="171.1" x2="203.7" y2="171.1" stroke="#222" stroke-width="0.5"/>
<text x="0" y="0" font-size="3.2" fill="#000" text-anchor="middle" font-weight="bold" font-family="Liberation Sans" transform="translate(194.3 127.3) scale(1 1.25)">SKOV3</text>
<line x1="181.3" y1="131.9" x2="182.3" y2="131.9" stroke="#222" stroke-width="0.4"/>
<text x="0" y="0" font-size="2.2" fill="#000" text-anchor="end" font-weight="bold" font-family="Liberation Sans" transform="translate(180.9 132.89) scale(1 1.25)">20</text>
<line x1="181.3" y1="141.7" x2="182.3" y2="141.7" stroke="#222" stroke-width="0.4"/>
<text x="0" y="0" font-size="2.2" fill="#000" text-anchor="end" font-weight="bold" font-family="Liberation Sans" transform="translate(180.9 142.69) scale(1 1.25)">15</text>
<line x1="181.3" y1="151.5" x2="182.3" y2="151.5" stroke="#222" stroke-width="0.4"/>
<text x="0" y="0" font-size="2.2" fill="#000" text-anchor="end" font-weight="bold" font-family="Liberation Sans" transform="translate(180.9 152.49) scale(1 1.25)">10</text>
<line x1="181.3" y1="161.3" x2="182.3" y2="161.3" stroke="#222" stroke-width="0.4"/>
<text x="0" y="0" font-size="2.2" fill="#000" text-anchor="end" font-weight="bold" font-family="Liberation Sans" transform="translate(180.9 162.29) scale(1 1.25)">5</text>
<line x1="181.3" y1="171.1" x2="182.3" y2="171.1" stroke="#222" stroke-width="0.4"/>
<text x="0" y="0" font-size="2.2" fill="#000" text-anchor="end" font-weight="bold" font-family="Liberation Sans" transform="translate(180.9 172.09) scale(1 1.25)">0</text>
<rect x="184.5" y="139.2" width="4.7" height="31.9" fill="#8aa6d8" stroke="#5a78b0" stroke-width="0.4"/>
<line x1="186.85" y1="138.8" x2="186.85" y2="139.2" stroke="#5a78b0" stroke-width="0.3"/>
<line x1="185.95" y1="138.8" x2="187.75" y2="138.8" stroke="#5a78b0" stroke-width="0.3"/>
<line x1="186.85" y1="171.1" x2="186.85" y2="172" stroke="#222" stroke-width="0.4"/>
<rect x="191.8" y="147.1" width="4.9" height="24" fill="#dccdaa" stroke="#a08e6a" stroke-width="0.4"/>
<line x1="194.25" y1="146.7" x2="194.25" y2="147.1" stroke="#a08e6a" stroke-width="0.3"/>
<line x1="193.35" y1="146.7" x2="195.15" y2="146.7" stroke="#a08e6a" stroke-width="0.3"/>
<line x1="194.25" y1="171.1" x2="194.25" y2="172" stroke="#222" stroke-width="0.4"/>
<rect x="199.1" y="145.7" width="4.9" height="25.4" fill="#efebe2" stroke="#a0a0a0" stroke-width="0.4"/>
<line x1="201.55" y1="145.3" x2="201.55" y2="145.7" stroke="#a0a0a0" stroke-width="0.3"/>
<line x1="200.65" y1="145.3" x2="202.45" y2="145.3" stroke="#a0a0a0" stroke-width="0.3"/>
<line x1="201.55" y1="171.1" x2="201.55" y2="172" stroke="#222" stroke-width="0.4"/>
<text x="0" y="0" font-size="3.2" fill="#000" text-anchor="middle" font-weight="bold" font-family="Liberation Sans" transform="translate(174.1 151.3) rotate(-90) scale(1 1.25)">ATP secretion (μmol/mg)</text>
<text x="0" y="0" font-size="2.7" fill="#000" text-anchor="end" font-weight="bold" font-family="Liberation Sans" transform="translate(188.05 174.1) rotate(-45) scale(1 1.25)">NC</text>
<text x="0" y="0" font-size="2.7" fill="#000" text-anchor="end" font-weight="bold" font-family="Liberation Sans" transform="translate(195.45 174.1) rotate(-45) scale(1 1.25)">Sh-SLC45A4-1</text>
<text x="0" y="0" font-size="2.7" fill="#000" text-anchor="end" font-weight="bold" font-family="Liberation Sans" transform="translate(202.75 174.1) rotate(-45) scale(1 1.25)">Sh-SLC45A4-2</text>
<text x="0" y="0" font-size="2.0" fill="#8a3aa8" text-anchor="middle" font-weight="bold" font-family="Liberation Sans" transform="translate(194.2 145.9) scale(1 1.25)">****</text>
<text x="0" y="0" font-size="2.0" fill="#8a3aa8" text-anchor="middle" font-weight="bold" font-family="Liberation Sans" transform="translate(201.5 144.5) scale(1 1.25)">****</text>
<rect x="216.5" y="134" width="4.1" height="1.8" fill="#8aa6d8" stroke="#5a78b0" stroke-width="0.25"/>
<text x="0" y="0" font-size="2.9" fill="#222" text-anchor="start" font-weight="normal" font-family="Liberation Sans" transform="translate(223 136.21) scale(1 1.25)">NC</text>
<rect x="216.5" y="138.9" width="4.1" height="1.8" fill="#dccdaa" stroke="#a08e6a" stroke-width="0.25"/>
<text x="0" y="0" font-size="2.9" fill="#222" text-anchor="start" font-weight="normal" font-family="Liberation Sans" transform="translate(223 141.11) scale(1 1.25)">Sh-SLC45A4-1</text>
<rect x="216.5" y="143.9" width="4.1" height="1.8" fill="#efebe2" stroke="#a0a0a0" stroke-width="0.25"/>
<text x="0" y="0" font-size="2.9" fill="#222" text-anchor="start" font-weight="normal" font-family="Liberation Sans" transform="translate(223 146.11) scale(1 1.25)">Sh-SLC45A4-2</text>
<line x1="273.2" y1="131.9" x2="273.2" y2="171.1" stroke="#222" stroke-width="0.5"/>
<line x1="273.2" y1="171.1" x2="297.6" y2="171.1" stroke="#222" stroke-width="0.5"/>
<text x="0" y="0" font-size="3.2" fill="#000" text-anchor="middle" font-weight="bold" font-family="Liberation Sans" transform="translate(285.2 127.3) scale(1 1.25)">OVCAR3</text>
<line x1="272.2" y1="131.9" x2="273.2" y2="131.9" stroke="#222" stroke-width="0.4"/>
<text x="0" y="0" font-size="2.2" fill="#000" text-anchor="end" font-weight="bold" font-family="Liberation Sans" transform="translate(271.8 132.89) scale(1 1.25)">20</text>
<line x1="272.2" y1="141.7" x2="273.2" y2="141.7" stroke="#222" stroke-width="0.4"/>
<text x="0" y="0" font-size="2.2" fill="#000" text-anchor="end" font-weight="bold" font-family="Liberation Sans" transform="translate(271.8 142.69) scale(1 1.25)">15</text>
<line x1="272.2" y1="151.5" x2="273.2" y2="151.5" stroke="#222" stroke-width="0.4"/>
<text x="0" y="0" font-size="2.2" fill="#000" text-anchor="end" font-weight="bold" font-family="Liberation Sans" transform="translate(271.8 152.49) scale(1 1.25)">10</text>
<line x1="272.2" y1="161.3" x2="273.2" y2="161.3" stroke="#222" stroke-width="0.4"/>
<text x="0" y="0" font-size="2.2" fill="#000" text-anchor="end" font-weight="bold" font-family="Liberation Sans" transform="translate(271.8 162.29) scale(1 1.25)">5</text>
<line x1="272.2" y1="171.1" x2="273.2" y2="171.1" stroke="#222" stroke-width="0.4"/>
<text x="0" y="0" font-size="2.2" fill="#000" text-anchor="end" font-weight="bold" font-family="Liberation Sans" transform="translate(271.8 172.09) scale(1 1.25)">0</text>
<rect x="276.2" y="137.8" width="4.9" height="33.3" fill="#8aa6d8" stroke="#5a78b0" stroke-width="0.4"/>
<line x1="278.65" y1="137.5" x2="278.65" y2="137.8" stroke="#5a78b0" stroke-width="0.3"/>
<line x1="277.75" y1="137.5" x2="279.55" y2="137.5" stroke="#5a78b0" stroke-width="0.3"/>
<line x1="278.65" y1="171.1" x2="278.65" y2="172" stroke="#222" stroke-width="0.4"/>
<rect x="283.7" y="148.1" width="5.4" height="23" fill="#dccdaa" stroke="#a08e6a" stroke-width="0.4"/>
<line x1="286.4" y1="147.7" x2="286.4" y2="148.1" stroke="#a08e6a" stroke-width="0.3"/>
<line x1="285.5" y1="147.7" x2="287.3" y2="147.7" stroke="#a08e6a" stroke-width="0.3"/>
<line x1="286.4" y1="171.1" x2="286.4" y2="172" stroke="#222" stroke-width="0.4"/>
<rect x="291.2" y="145.1" width="5.4" height="26" fill="#efebe2" stroke="#a0a0a0" stroke-width="0.4"/>
<line x1="293.9" y1="144.7" x2="293.9" y2="145.1" stroke="#a0a0a0" stroke-width="0.3"/>
<line x1="293" y1="144.7" x2="294.8" y2="144.7" stroke="#a0a0a0" stroke-width="0.3"/>
<line x1="293.9" y1="171.1" x2="293.9" y2="172" stroke="#222" stroke-width="0.4"/>
<text x="0" y="0" font-size="3.2" fill="#000" text-anchor="middle" font-weight="bold" font-family="Liberation Sans" transform="translate(265 151.3) rotate(-90) scale(1 1.25)">ATP secretion (μmol/mg)</text>
<text x="0" y="0" font-size="2.7" fill="#000" text-anchor="end" font-weight="bold" font-family="Liberation Sans" transform="translate(279.85 174.1) rotate(-45) scale(1 1.25)">NC</text>
<text x="0" y="0" font-size="2.7" fill="#000" text-anchor="end" font-weight="bold" font-family="Liberation Sans" transform="translate(287.6 174.1) rotate(-45) scale(1 1.25)">Sh-SLC45A4-1</text>
<text x="0" y="0" font-size="2.7" fill="#000" text-anchor="end" font-weight="bold" font-family="Liberation Sans" transform="translate(295.1 174.1) rotate(-45) scale(1 1.25)">Sh-SLC45A4-2</text>
<text x="0" y="0" font-size="2.0" fill="#8a3aa8" text-anchor="middle" font-weight="bold" font-family="Liberation Sans" transform="translate(286.4 146.9) scale(1 1.25)">****</text>
<text x="0" y="0" font-size="2.0" fill="#8a3aa8" text-anchor="middle" font-weight="bold" font-family="Liberation Sans" transform="translate(293.9 143.9) scale(1 1.25)">****</text>
<rect x="308.5" y="134" width="4.1" height="1.8" fill="#8aa6d8" stroke="#5a78b0" stroke-width="0.25"/>
<text x="0" y="0" font-size="2.9" fill="#222" text-anchor="start" font-weight="normal" font-family="Liberation Sans" transform="translate(315 136.21) scale(1 1.25)">NC</text>
<rect x="308.5" y="138.9" width="4.1" height="1.8" fill="#dccdaa" stroke="#a08e6a" stroke-width="0.25"/>
<text x="0" y="0" font-size="2.9" fill="#222" text-anchor="start" font-weight="normal" font-family="Liberation Sans" transform="translate(315 141.11) scale(1 1.25)">Sh-SLC45A4-1</text>
<rect x="308.5" y="143.9" width="4.1" height="1.8" fill="#efebe2" stroke="#a0a0a0" stroke-width="0.25"/>
<text x="0" y="0" font-size="2.9" fill="#222" text-anchor="start" font-weight="normal" font-family="Liberation Sans" transform="translate(315 146.11) scale(1 1.25)">Sh-SLC45A4-2</text>
<line x1="626" y1="124.2" x2="626" y2="166.7" stroke="#222" stroke-width="0.5"/>
<line x1="626" y1="166.7" x2="649.6" y2="166.7" stroke="#222" stroke-width="0.5"/>
<text x="0" y="0" font-size="3.2" fill="#000" text-anchor="middle" font-weight="bold" font-family="Liberation Sans" transform="translate(635.3 118.9) scale(1 1.25)">SKOV3</text>
<line x1="625" y1="124.2" x2="626" y2="124.2" stroke="#222" stroke-width="0.4"/>
<text x="0" y="0" font-size="2.2" fill="#000" text-anchor="end" font-weight="bold" font-family="Liberation Sans" transform="translate(624.6 125.19) scale(1 1.25)">100</text>
<line x1="625" y1="132.7" x2="626" y2="132.7" stroke="#222" stroke-width="0.4"/>
<text x="0" y="0" font-size="2.2" fill="#000" text-anchor="end" font-weight="bold" font-family="Liberation Sans" transform="translate(624.6 133.69) scale(1 1.25)">80</text>
<line x1="625" y1="141.2" x2="626" y2="141.2" stroke="#222" stroke-width="0.4"/>
<text x="0" y="0" font-size="2.2" fill="#000" text-anchor="end" font-weight="bold" font-family="Liberation Sans" transform="translate(624.6 142.19) scale(1 1.25)">60</text>
<line x1="625" y1="149.7" x2="626" y2="149.7" stroke="#222" stroke-width="0.4"/>
<text x="0" y="0" font-size="2.2" fill="#000" text-anchor="end" font-weight="bold" font-family="Liberation Sans" transform="translate(624.6 150.69) scale(1 1.25)">40</text>
<line x1="625" y1="158.2" x2="626" y2="158.2" stroke="#222" stroke-width="0.4"/>
<text x="0" y="0" font-size="2.2" fill="#000" text-anchor="end" font-weight="bold" font-family="Liberation Sans" transform="translate(624.6 159.19) scale(1 1.25)">20</text>
<line x1="625" y1="166.7" x2="626" y2="166.7" stroke="#222" stroke-width="0.4"/>
<text x="0" y="0" font-size="2.2" fill="#000" text-anchor="end" font-weight="bold" font-family="Liberation Sans" transform="translate(624.6 167.69) scale(1 1.25)">0</text>
<rect x="628.5" y="132.2" width="5.5" height="34.5" fill="#222222" stroke="#111" stroke-width="0.4"/>
<line x1="631.25" y1="128.3" x2="631.25" y2="132.2" stroke="#111" stroke-width="0.3"/>
<line x1="630.35" y1="128.3" x2="632.15" y2="128.3" stroke="#111" stroke-width="0.3"/>
<line x1="631.25" y1="166.7" x2="631.25" y2="167.6" stroke="#222" stroke-width="0.4"/>
<rect x="636.3" y="147" width="4.6" height="19.7" fill="#1f5f8f" stroke="#174a70" stroke-width="0.4"/>
<line x1="638.6" y1="143.5" x2="638.6" y2="147" stroke="#174a70" stroke-width="0.3"/>
<line x1="637.7" y1="143.5" x2="639.5" y2="143.5" stroke="#174a70" stroke-width="0.3"/>
<line x1="638.6" y1="166.7" x2="638.6" y2="167.6" stroke="#222" stroke-width="0.4"/>
<rect x="643.2" y="147" width="4.8" height="19.7" fill="#f5c542" stroke="#c09a20" stroke-width="0.4"/>
<line x1="645.6" y1="144.8" x2="645.6" y2="147" stroke="#c09a20" stroke-width="0.3"/>
<line x1="644.7" y1="144.8" x2="646.5" y2="144.8" stroke="#c09a20" stroke-width="0.3"/>
<line x1="645.6" y1="166.7" x2="645.6" y2="167.6" stroke="#222" stroke-width="0.4"/>
<text x="0" y="0" font-size="3.1" fill="#000" text-anchor="middle" font-weight="bold" font-family="Liberation Sans" transform="translate(616.6 142.2) rotate(-90) scale(1 1.25)">mean fluorescence intensity</text>
<text x="0" y="0" font-size="2.7" fill="#000" text-anchor="end" font-weight="bold" font-family="Liberation Sans" transform="translate(632.45 169.7) rotate(-45) scale(1 1.25)">NC</text>
<text x="0" y="0" font-size="2.7" fill="#000" text-anchor="end" font-weight="bold" font-family="Liberation Sans" transform="translate(639.8 169.7) rotate(-45) scale(1 1.25)">Sh-SLC45A4-1</text>
<text x="0" y="0" font-size="2.7" fill="#000" text-anchor="end" font-weight="bold" font-family="Liberation Sans" transform="translate(646.8 169.7) rotate(-45) scale(1 1.25)">Sh-SLC45A4-2</text>
<text x="0" y="0" font-size="2.0" fill="#8a3aa8" text-anchor="middle" font-weight="bold" font-family="Liberation Sans" transform="translate(638.6 144.3) scale(1 1.25)">****</text>
<text x="0" y="0" font-size="2.0" fill="#8a3aa8" text-anchor="middle" font-weight="bold" font-family="Liberation Sans" transform="translate(645.6 144.3) scale(1 1.25)">****</text>
<rect x="658.7" y="126.2" width="4.1" height="2.4" fill="#222222" stroke="#111" stroke-width="0.25"/>
<text x="0" y="0" font-size="3.0" fill="#222" text-anchor="start" font-weight="normal" font-family="Liberation Sans" transform="translate(665.2 128.75) scale(1 1.25)">NC</text>
<rect x="658.7" y="132.1" width="4.1" height="2.4" fill="#1f5f8f" stroke="#174a70" stroke-width="0.25"/>
<text x="0" y="0" font-size="3.0" fill="#222" text-anchor="start" font-weight="normal" font-family="Liberation Sans" transform="translate(665.2 134.65) scale(1 1.25)">Sh-SLC45A4-1</text>
<rect x="658.7" y="137.8" width="4.1" height="2.4" fill="#f5c542" stroke="#c09a20" stroke-width="0.25"/>
<text x="0" y="0" font-size="3.0" fill="#222" text-anchor="start" font-weight="normal" font-family="Liberation Sans" transform="translate(665.2 140.35) scale(1 1.25)">Sh-SLC45A4-2</text>
<line x1="101" y1="241" x2="101" y2="284" stroke="#222" stroke-width="0.5"/>
<line x1="101" y1="284" x2="125.7" y2="284" stroke="#222" stroke-width="0.5"/>
<text x="0" y="0" font-size="3.2" fill="#000" text-anchor="middle" font-weight="bold" font-family="Liberation Sans" transform="translate(110.7 235.5) scale(1 1.25)">OVCAR3</text>
<line x1="100" y1="241" x2="101" y2="241" stroke="#222" stroke-width="0.4"/>
<text x="0" y="0" font-size="2.2" fill="#000" text-anchor="end" font-weight="bold" font-family="Liberation Sans" transform="translate(99.6 241.99) scale(1 1.25)">100</text>
<line x1="100" y1="249.6" x2="101" y2="249.6" stroke="#222" stroke-width="0.4"/>
<text x="0" y="0" font-size="2.2" fill="#000" text-anchor="end" font-weight="bold" font-family="Liberation Sans" transform="translate(99.6 250.59) scale(1 1.25)">80</text>
<line x1="100" y1="258.2" x2="101" y2="258.2" stroke="#222" stroke-width="0.4"/>
<text x="0" y="0" font-size="2.2" fill="#000" text-anchor="end" font-weight="bold" font-family="Liberation Sans" transform="translate(99.6 259.19) scale(1 1.25)">60</text>
<line x1="100" y1="266.8" x2="101" y2="266.8" stroke="#222" stroke-width="0.4"/>
<text x="0" y="0" font-size="2.2" fill="#000" text-anchor="end" font-weight="bold" font-family="Liberation Sans" transform="translate(99.6 267.79) scale(1 1.25)">40</text>
<line x1="100" y1="275.4" x2="101" y2="275.4" stroke="#222" stroke-width="0.4"/>
<text x="0" y="0" font-size="2.2" fill="#000" text-anchor="end" font-weight="bold" font-family="Liberation Sans" transform="translate(99.6 276.39) scale(1 1.25)">20</text>
<line x1="100" y1="284" x2="101" y2="284" stroke="#222" stroke-width="0.4"/>
<text x="0" y="0" font-size="2.2" fill="#000" text-anchor="end" font-weight="bold" font-family="Liberation Sans" transform="translate(99.6 284.99) scale(1 1.25)">0</text>
<rect x="104" y="249" width="5.3" height="35" fill="#222222" stroke="#111" stroke-width="0.4"/>
<line x1="106.65" y1="246.2" x2="106.65" y2="249" stroke="#111" stroke-width="0.3"/>
<line x1="105.75" y1="246.2" x2="107.55" y2="246.2" stroke="#111" stroke-width="0.3"/>
<line x1="106.65" y1="284" x2="106.65" y2="284.9" stroke="#222" stroke-width="0.4"/>
<rect x="111.3" y="270.3" width="4.8" height="13.7" fill="#1f5f8f" stroke="#174a70" stroke-width="0.4"/>
<line x1="113.7" y1="268.1" x2="113.7" y2="270.3" stroke="#174a70" stroke-width="0.3"/>
<line x1="112.8" y1="268.1" x2="114.6" y2="268.1" stroke="#174a70" stroke-width="0.3"/>
<line x1="113.7" y1="284" x2="113.7" y2="284.9" stroke="#222" stroke-width="0.4"/>
<rect x="118.9" y="264.3" width="5" height="19.7" fill="#f5c542" stroke="#c09a20" stroke-width="0.4"/>
<line x1="121.4" y1="263.1" x2="121.4" y2="264.3" stroke="#c09a20" stroke-width="0.3"/>
<line x1="120.5" y1="263.1" x2="122.3" y2="263.1" stroke="#c09a20" stroke-width="0.3"/>
<line x1="121.4" y1="284" x2="121.4" y2="284.9" stroke="#222" stroke-width="0.4"/>
<text x="0" y="0" font-size="3.3" fill="#000" text-anchor="middle" font-weight="bold" font-family="Liberation Sans" transform="translate(91.6 260.5) rotate(-90) scale(1 1.25)">mean fluorescence intensity</text>
<text x="0" y="0" font-size="2.7" fill="#000" text-anchor="end" font-weight="bold" font-family="Liberation Sans" transform="translate(107.85 287) rotate(-45) scale(1 1.25)">NC</text>
<text x="0" y="0" font-size="2.7" fill="#000" text-anchor="end" font-weight="bold" font-family="Liberation Sans" transform="translate(114.9 287) rotate(-45) scale(1 1.25)">Sh-SLC45A4-1</text>
<text x="0" y="0" font-size="2.7" fill="#000" text-anchor="end" font-weight="bold" font-family="Liberation Sans" transform="translate(122.6 287) rotate(-45) scale(1 1.25)">Sh-SLC45A4-2</text>
<text x="0" y="0" font-size="2.0" fill="#8a3aa8" text-anchor="middle" font-weight="bold" font-family="Liberation Sans" transform="translate(113.7 267.3) scale(1 1.25)">****</text>
<text x="0" y="0" font-size="2.0" fill="#8a3aa8" text-anchor="middle" font-weight="bold" font-family="Liberation Sans" transform="translate(121.4 262.1) scale(1 1.25)">****</text>
<rect x="134.4" y="243.2" width="4.1" height="2.4" fill="#222222" stroke="#111" stroke-width="0.25"/>
<text x="0" y="0" font-size="3.0" fill="#222" text-anchor="start" font-weight="normal" font-family="Liberation Sans" transform="translate(140.9 245.75) scale(1 1.25)">NC</text>
<rect x="134.4" y="248.9" width="4.1" height="2.4" fill="#1f5f8f" stroke="#174a70" stroke-width="0.25"/>
<text x="0" y="0" font-size="3.0" fill="#222" text-anchor="start" font-weight="normal" font-family="Liberation Sans" transform="translate(140.9 251.45) scale(1 1.25)">Sh-SLC45A4-1</text>
<rect x="134.4" y="254.7" width="4.1" height="2.4" fill="#f5c542" stroke="#c09a20" stroke-width="0.25"/>
<text x="0" y="0" font-size="3.0" fill="#222" text-anchor="start" font-weight="normal" font-family="Liberation Sans" transform="translate(140.9 257.25) scale(1 1.25)">Sh-SLC45A4-2</text>
<line x1="194.2" y1="243.1" x2="194.2" y2="288.4" stroke="#222" stroke-width="0.5"/>
<line x1="194.2" y1="288.4" x2="224.1" y2="288.4" stroke="#222" stroke-width="0.5"/>
<text x="0" y="0" font-size="4.2" fill="#000" text-anchor="middle" font-weight="bold" font-family="Liberation Sans" transform="translate(209.9 237.1) scale(1 1.2)">PKM2</text>
<line x1="193.2" y1="243.1" x2="194.2" y2="243.1" stroke="#222" stroke-width="0.4"/>
<text x="0" y="0" font-size="2.9" fill="#000" text-anchor="end" font-weight="bold" font-family="Liberation Sans" transform="translate(192.8 244.35) scale(1 1.2)">1.5</text>
<line x1="193.2" y1="258.4" x2="194.2" y2="258.4" stroke="#222" stroke-width="0.4"/>
<text x="0" y="0" font-size="2.9" fill="#000" text-anchor="end" font-weight="bold" font-family="Liberation Sans" transform="translate(192.8 259.65) scale(1 1.2)">1.0</text>
<line x1="193.2" y1="273.5" x2="194.2" y2="273.5" stroke="#222" stroke-width="0.4"/>
<text x="0" y="0" font-size="2.9" fill="#000" text-anchor="end" font-weight="bold" font-family="Liberation Sans" transform="translate(192.8 274.75) scale(1 1.2)">0.5</text>
<line x1="193.2" y1="288.4" x2="194.2" y2="288.4" stroke="#222" stroke-width="0.4"/>
<text x="0" y="0" font-size="2.9" fill="#000" text-anchor="end" font-weight="bold" font-family="Liberation Sans" transform="translate(192.8 289.65) scale(1 1.2)">0.0</text>
<rect x="196.9" y="258.6" width="3.5" height="29.8" fill="#2449a0" stroke="#1a3070" stroke-width="0.4"/>
<line x1="198.65" y1="258.3" x2="198.65" y2="258.6" stroke="#1a3070" stroke-width="0.3"/>
<line x1="197.75" y1="258.3" x2="199.55" y2="258.3" stroke="#1a3070" stroke-width="0.3"/>
<line x1="198.65" y1="288.4" x2="198.65" y2="289.3" stroke="#222" stroke-width="0.4"/>
<rect x="202.4" y="258.1" width="3.5" height="30.3" fill="#b59a68" stroke="#8a7040" stroke-width="0.4"/>
<line x1="204.15" y1="257.8" x2="204.15" y2="258.1" stroke="#8a7040" stroke-width="0.3"/>
<line x1="203.25" y1="257.8" x2="205.05" y2="257.8" stroke="#8a7040" stroke-width="0.3"/>
<line x1="204.15" y1="288.4" x2="204.15" y2="289.3" stroke="#222" stroke-width="0.4"/>
<rect x="208.2" y="280.4" width="3.5" height="8" fill="#ebe6da" stroke="#333" stroke-width="0.4"/>
<line x1="209.95" y1="279.8" x2="209.95" y2="280.4" stroke="#333" stroke-width="0.3"/>
<line x1="209.05" y1="279.8" x2="210.85" y2="279.8" stroke="#333" stroke-width="0.3"/>
<line x1="209.95" y1="288.4" x2="209.95" y2="289.3" stroke="#222" stroke-width="0.4"/>
<rect x="213.9" y="280" width="3.5" height="8.4" fill="#6fb3d0" stroke="#305a70" stroke-width="0.4"/>
<line x1="215.65" y1="279.4" x2="215.65" y2="280" stroke="#305a70" stroke-width="0.3"/>
<line x1="214.75" y1="279.4" x2="216.55" y2="279.4" stroke="#305a70" stroke-width="0.3"/>
<line x1="215.65" y1="288.4" x2="215.65" y2="289.3" stroke="#222" stroke-width="0.4"/>
<rect x="219.7" y="277.6" width="3.5" height="10.8" fill="#3a4249" stroke="#222" stroke-width="0.4"/>
<line x1="221.45" y1="277" x2="221.45" y2="277.6" stroke="#222" stroke-width="0.3"/>
<line x1="220.55" y1="277" x2="222.35" y2="277" stroke="#222" stroke-width="0.3"/>
<line x1="221.45" y1="288.4" x2="221.45" y2="289.3" stroke="#222" stroke-width="0.4"/>
<text x="0" y="0" font-size="2.8" fill="#000" text-anchor="middle" font-weight="bold" font-family="Liberation Sans" transform="translate(184.1 265.75) rotate(-90) scale(1 1.2)">PKM2 mRNA expression</text>
<text x="0" y="0" font-size="2.5" fill="#000" text-anchor="end" font-weight="bold" font-family="Liberation Sans" transform="translate(199.85 291.4) rotate(-45) scale(1 1.2)">OVCAR3</text>
<text x="0" y="0" font-size="2.5" fill="#000" text-anchor="end" font-weight="bold" font-family="Liberation Sans" transform="translate(205.35 291.4) rotate(-45) scale(1 1.2)">CONTROL</text>
<text x="0" y="0" font-size="2.5" fill="#000" text-anchor="end" font-weight="bold" font-family="Liberation Sans" transform="translate(211.15 291.4) rotate(-45) scale(1 1.2)">Sh-SLC45A4-1</text>
<text x="0" y="0" font-size="2.5" fill="#000" text-anchor="end" font-weight="bold" font-family="Liberation Sans" transform="translate(216.85 291.4) rotate(-45) scale(1 1.2)">Sh-SLC45A4-2</text>
<text x="0" y="0" font-size="2.5" fill="#000" text-anchor="end" font-weight="bold" font-family="Liberation Sans" transform="translate(222.65 291.4) rotate(-45) scale(1 1.2)">Sh-SLC45A4-3</text>
<text x="0" y="0" font-size="1.6" fill="#333" text-anchor="middle" font-weight="bold" font-family="Liberation Sans" transform="translate(209.95 279.1) scale(1 1.2)">***</text>
<text x="0" y="0" font-size="1.6" fill="#333" text-anchor="middle" font-weight="bold" font-family="Liberation Sans" transform="translate(215.65 278.7) scale(1 1.2)">***</text>
<text x="0" y="0" font-size="1.6" fill="#333" text-anchor="middle" font-weight="bold" font-family="Liberation Sans" transform="translate(221.45 276.3) scale(1 1.2)">***</text>
<rect x="235.5" y="245.05" width="5.3" height="1.5" fill="#1c2a5a" stroke="#1c2a5a" stroke-width="0.25"/>
<text x="0" y="0" font-size="2.6" fill="#444" text-anchor="start" font-weight="normal" font-family="Liberation Sans" transform="translate(243.2 246.92) scale(1 1.2)">OVCAR3</text>
<rect x="235.5" y="250.25" width="5.3" height="1.5" fill="#a89060" stroke="#a89060" stroke-width="0.25"/>
<text x="0" y="0" font-size="2.6" fill="#444" text-anchor="start" font-weight="normal" font-family="Liberation Sans" transform="translate(243.2 252.12) scale(1 1.2)">CONTROL</text>
<rect x="235.5" y="255.25" width="5.3" height="1.5" fill="#8a8a82" stroke="#8a8a82" stroke-width="0.25"/>
<text x="0" y="0" font-size="2.6" fill="#444" text-anchor="start" font-weight="normal" font-family="Liberation Sans" transform="translate(243.2 257.12) scale(1 1.2)">Sh-SLC45A4-1</text>
<rect x="235.5" y="260.15" width="5.3" height="1.5" fill="#5a9098" stroke="#5a9098" stroke-width="0.25"/>
<text x="0" y="0" font-size="2.6" fill="#444" text-anchor="start" font-weight="normal" font-family="Liberation Sans" transform="translate(243.2 262.02) scale(1 1.2)">Sh-SLC45A4-2</text>
<rect x="235.5" y="265.15" width="5.3" height="1.5" fill="#3a3a3a" stroke="#3a3a3a" stroke-width="0.25"/>
<text x="0" y="0" font-size="2.6" fill="#444" text-anchor="start" font-weight="normal" font-family="Liberation Sans" transform="translate(243.2 267.02) scale(1 1.2)">Sh-SLC45A4-3</text>
<line x1="280.6" y1="243.1" x2="280.6" y2="288.8" stroke="#222" stroke-width="0.5"/>
<line x1="280.6" y1="288.8" x2="310.7" y2="288.8" stroke="#222" stroke-width="0.5"/>
<text x="0" y="0" font-size="4.2" fill="#000" text-anchor="middle" font-weight="bold" font-family="Liberation Sans" transform="translate(296.6 237.1) scale(1 1.2)">PKM2</text>
<line x1="279.6" y1="243.1" x2="280.6" y2="243.1" stroke="#222" stroke-width="0.4"/>
<text x="0" y="0" font-size="2.9" fill="#000" text-anchor="end" font-weight="bold" font-family="Liberation Sans" transform="translate(279.2 244.35) scale(1 1.2)">1.5</text>
<line x1="279.6" y1="258.4" x2="280.6" y2="258.4" stroke="#222" stroke-width="0.4"/>
<text x="0" y="0" font-size="2.9" fill="#000" text-anchor="end" font-weight="bold" font-family="Liberation Sans" transform="translate(279.2 259.65) scale(1 1.2)">1.0</text>
<line x1="279.6" y1="273.6" x2="280.6" y2="273.6" stroke="#222" stroke-width="0.4"/>
<text x="0" y="0" font-size="2.9" fill="#000" text-anchor="end" font-weight="bold" font-family="Liberation Sans" transform="translate(279.2 274.85) scale(1 1.2)">0.5</text>
<line x1="279.6" y1="288.8" x2="280.6" y2="288.8" stroke="#222" stroke-width="0.4"/>
<text x="0" y="0" font-size="2.9" fill="#000" text-anchor="end" font-weight="bold" font-family="Liberation Sans" transform="translate(279.2 290.05) scale(1 1.2)">0.0</text>
<rect x="283.1" y="258.6" width="3.5" height="30.2" fill="#2449a0" stroke="#1a3070" stroke-width="0.4"/>
<line x1="284.85" y1="258.3" x2="284.85" y2="258.6" stroke="#1a3070" stroke-width="0.3"/>
<line x1="283.95" y1="258.3" x2="285.75" y2="258.3" stroke="#1a3070" stroke-width="0.3"/>
<line x1="284.85" y1="288.8" x2="284.85" y2="289.7" stroke="#222" stroke-width="0.4"/>
<rect x="288.9" y="258.1" width="3.5" height="30.7" fill="#b59a68" stroke="#8a7040" stroke-width="0.4"/>
<line x1="290.65" y1="257.8" x2="290.65" y2="258.1" stroke="#8a7040" stroke-width="0.3"/>
<line x1="289.75" y1="257.8" x2="291.55" y2="257.8" stroke="#8a7040" stroke-width="0.3"/>
<line x1="290.65" y1="288.8" x2="290.65" y2="289.7" stroke="#222" stroke-width="0.4"/>
<rect x="294.5" y="279.2" width="3.5" height="9.6" fill="#ebe6da" stroke="#333" stroke-width="0.4"/>
<line x1="296.25" y1="278.6" x2="296.25" y2="279.2" stroke="#333" stroke-width="0.3"/>
<line x1="295.35" y1="278.6" x2="297.15" y2="278.6" stroke="#333" stroke-width="0.3"/>
<line x1="296.25" y1="288.8" x2="296.25" y2="289.7" stroke="#222" stroke-width="0.4"/>
<rect x="300.2" y="280.3" width="3.5" height="8.5" fill="#6fb3d0" stroke="#305a70" stroke-width="0.4"/>
<line x1="301.95" y1="279.7" x2="301.95" y2="280.3" stroke="#305a70" stroke-width="0.3"/>
<line x1="301.05" y1="279.7" x2="302.85" y2="279.7" stroke="#305a70" stroke-width="0.3"/>
<line x1="301.95" y1="288.8" x2="301.95" y2="289.7" stroke="#222" stroke-width="0.4"/>
<rect x="305.9" y="279.2" width="3.5" height="9.6" fill="#3a4249" stroke="#222" stroke-width="0.4"/>
<line x1="307.65" y1="278.6" x2="307.65" y2="279.2" stroke="#222" stroke-width="0.3"/>
<line x1="306.75" y1="278.6" x2="308.55" y2="278.6" stroke="#222" stroke-width="0.3"/>
<line x1="307.65" y1="288.8" x2="307.65" y2="289.7" stroke="#222" stroke-width="0.4"/>
<text x="0" y="0" font-size="2.8" fill="#000" text-anchor="middle" font-weight="bold" font-family="Liberation Sans" transform="translate(270.3 265.95) rotate(-90) scale(1 1.2)">PKM2 mRNA expression</text>
<text x="0" y="0" font-size="2.5" fill="#000" text-anchor="end" font-weight="bold" font-family="Liberation Sans" transform="translate(286.05 291.8) rotate(-45) scale(1 1.2)">SKOV3</text>
<text x="0" y="0" font-size="2.5" fill="#000" text-anchor="end" font-weight="bold" font-family="Liberation Sans" transform="translate(291.85 291.8) rotate(-45) scale(1 1.2)">CONTROL</text>
<text x="0" y="0" font-size="2.5" fill="#000" text-anchor="end" font-weight="bold" font-family="Liberation Sans" transform="translate(297.45 291.8) rotate(-45) scale(1 1.2)">Sh-SLC45A4-1</text>
<text x="0" y="0" font-size="2.5" fill="#000" text-anchor="end" font-weight="bold" font-family="Liberation Sans" transform="translate(303.15 291.8) rotate(-45) scale(1 1.2)">Sh-SLC45A4-2</text>
<text x="0" y="0" font-size="2.5" fill="#000" text-anchor="end" font-weight="bold" font-family="Liberation Sans" transform="translate(308.85 291.8) rotate(-45) scale(1 1.2)">Sh-SLC45A4-3</text>
<text x="0" y="0" font-size="1.6" fill="#333" text-anchor="middle" font-weight="bold" font-family="Liberation Sans" transform="translate(296.25 277.9) scale(1 1.2)">***</text>
<text x="0" y="0" font-size="1.6" fill="#333" text-anchor="middle" font-weight="bold" font-family="Liberation Sans" transform="translate(301.95 279) scale(1 1.2)">***</text>
<text x="0" y="0" font-size="1.6" fill="#333" text-anchor="middle" font-weight="bold" font-family="Liberation Sans" transform="translate(307.65 277.9) scale(1 1.2)">***</text>
<rect x="322.2" y="245.05" width="5.3" height="1.5" fill="#1c2a5a" stroke="#1c2a5a" stroke-width="0.25"/>
<text x="0" y="0" font-size="2.6" fill="#444" text-anchor="start" font-weight="normal" font-family="Liberation Sans" transform="translate(329.9 246.92) scale(1 1.2)">SKOV3</text>
<rect x="322.2" y="250.25" width="5.3" height="1.5" fill="#a89060" stroke="#a89060" stroke-width="0.25"/>
<text x="0" y="0" font-size="2.6" fill="#444" text-anchor="start" font-weight="normal" font-family="Liberation Sans" transform="translate(329.9 252.12) scale(1 1.2)">CONTROL</text>
<rect x="322.2" y="255.25" width="5.3" height="1.5" fill="#8a8a82" stroke="#8a8a82" stroke-width="0.25"/>
<text x="0" y="0" font-size="2.6" fill="#444" text-anchor="start" font-weight="normal" font-family="Liberation Sans" transform="translate(329.9 257.12) scale(1 1.2)">Sh-SLC45A4-1</text>
<rect x="322.2" y="260.15" width="5.3" height="1.5" fill="#5a9098" stroke="#5a9098" stroke-width="0.25"/>
<text x="0" y="0" font-size="2.6" fill="#444" text-anchor="start" font-weight="normal" font-family="Liberation Sans" transform="translate(329.9 262.02) scale(1 1.2)">Sh-SLC45A4-2</text>
<rect x="322.2" y="265.15" width="5.3" height="1.5" fill="#3a3a3a" stroke="#3a3a3a" stroke-width="0.25"/>
<text x="0" y="0" font-size="2.6" fill="#444" text-anchor="start" font-weight="normal" font-family="Liberation Sans" transform="translate(329.9 267.02) scale(1 1.2)">Sh-SLC45A4-3</text>
<line x1="387.9" y1="241.7" x2="387.9" y2="286.7" stroke="#222" stroke-width="0.5"/>
<line x1="387.9" y1="286.7" x2="418.3" y2="286.7" stroke="#222" stroke-width="0.5"/>
<text x="0" y="0" font-size="4.2" fill="#000" text-anchor="middle" font-weight="bold" font-family="Liberation Sans" transform="translate(402.9 237.1) scale(1 1.2)">HK2</text>
<line x1="386.9" y1="241.7" x2="387.9" y2="241.7" stroke="#222" stroke-width="0.4"/>
<text x="0" y="0" font-size="2.9" fill="#000" text-anchor="end" font-weight="bold" font-family="Liberation Sans" transform="translate(386.5 242.95) scale(1 1.2)">1.0</text>
<line x1="386.9" y1="257.5" x2="387.9" y2="257.5" stroke="#222" stroke-width="0.4"/>
<text x="0" y="0" font-size="2.9" fill="#000" text-anchor="end" font-weight="bold" font-family="Liberation Sans" transform="translate(386.5 258.75) scale(1 1.2)">1.0</text>
<line x1="386.9" y1="272.1" x2="387.9" y2="272.1" stroke="#222" stroke-width="0.4"/>
<text x="0" y="0" font-size="2.9" fill="#000" text-anchor="end" font-weight="bold" font-family="Liberation Sans" transform="translate(386.5 273.35) scale(1 1.2)">0.5</text>
<line x1="386.9" y1="286.7" x2="387.9" y2="286.7" stroke="#222" stroke-width="0.4"/>
<text x="0" y="0" font-size="2.9" fill="#000" text-anchor="end" font-weight="bold" font-family="Liberation Sans" transform="translate(386.5 287.95) scale(1 1.2)">0.0</text>
<rect x="390.6" y="257.5" width="3.5" height="29.2" fill="#2449a0" stroke="#1a3070" stroke-width="0.4"/>
<line x1="392.35" y1="257.2" x2="392.35" y2="257.5" stroke="#1a3070" stroke-width="0.3"/>
<line x1="391.45" y1="257.2" x2="393.25" y2="257.2" stroke="#1a3070" stroke-width="0.3"/>
<line x1="392.35" y1="286.7" x2="392.35" y2="287.6" stroke="#222" stroke-width="0.4"/>
<rect x="396.2" y="257.5" width="3.5" height="29.2" fill="#b59a68" stroke="#8a7040" stroke-width="0.4"/>
<line x1="397.95" y1="257.2" x2="397.95" y2="257.5" stroke="#8a7040" stroke-width="0.3"/>
<line x1="397.05" y1="257.2" x2="398.85" y2="257.2" stroke="#8a7040" stroke-width="0.3"/>
<line x1="397.95" y1="286.7" x2="397.95" y2="287.6" stroke="#222" stroke-width="0.4"/>
<rect x="401.3" y="278.7" width="3.5" height="8" fill="#ebe6da" stroke="#333" stroke-width="0.4"/>
<line x1="403.05" y1="278.1" x2="403.05" y2="278.7" stroke="#333" stroke-width="0.3"/>
<line x1="402.15" y1="278.1" x2="403.95" y2="278.1" stroke="#333" stroke-width="0.3"/>
<line x1="403.05" y1="286.7" x2="403.05" y2="287.6" stroke="#222" stroke-width="0.4"/>
<rect x="407.1" y="279.2" width="3.5" height="7.5" fill="#6fb3d0" stroke="#305a70" stroke-width="0.4"/>
<line x1="408.85" y1="278.6" x2="408.85" y2="279.2" stroke="#305a70" stroke-width="0.3"/>
<line x1="407.95" y1="278.6" x2="409.75" y2="278.6" stroke="#305a70" stroke-width="0.3"/>
<line x1="408.85" y1="286.7" x2="408.85" y2="287.6" stroke="#222" stroke-width="0.4"/>
<rect x="412.9" y="276" width="3.5" height="10.7" fill="#3a4249" stroke="#222" stroke-width="0.4"/>
<line x1="414.65" y1="275.4" x2="414.65" y2="276" stroke="#222" stroke-width="0.3"/>
<line x1="413.75" y1="275.4" x2="415.55" y2="275.4" stroke="#222" stroke-width="0.3"/>
<line x1="414.65" y1="286.7" x2="414.65" y2="287.6" stroke="#222" stroke-width="0.4"/>
<text x="0" y="0" font-size="2.8" fill="#000" text-anchor="middle" font-weight="bold" font-family="Liberation Sans" transform="translate(377.3 264.2) rotate(-90) scale(1 1.2)">HK2 mRNA expression</text>
<text x="0" y="0" font-size="2.5" fill="#000" text-anchor="end" font-weight="bold" font-family="Liberation Sans" transform="translate(393.55 289.7) rotate(-45) scale(1 1.2)">OVCAR3</text>
<text x="0" y="0" font-size="2.5" fill="#000" text-anchor="end" font-weight="bold" font-family="Liberation Sans" transform="translate(399.15 289.7) rotate(-45) scale(1 1.2)">CONTROL</text>
<text x="0" y="0" font-size="2.5" fill="#000" text-anchor="end" font-weight="bold" font-family="Liberation Sans" transform="translate(404.25 289.7) rotate(-45) scale(1 1.2)">Sh-SLC45A4-1</text>
<text x="0" y="0" font-size="2.5" fill="#000" text-anchor="end" font-weight="bold" font-family="Liberation Sans" transform="translate(410.05 289.7) rotate(-45) scale(1 1.2)">Sh-SLC45A4-2</text>
<text x="0" y="0" font-size="2.5" fill="#000" text-anchor="end" font-weight="bold" font-family="Liberation Sans" transform="translate(415.85 289.7) rotate(-45) scale(1 1.2)">Sh-SLC45A4-3</text>
<text x="0" y="0" font-size="1.6" fill="#333" text-anchor="middle" font-weight="bold" font-family="Liberation Sans" transform="translate(403.05 277.4) scale(1 1.2)">***</text>
<text x="0" y="0" font-size="1.6" fill="#333" text-anchor="middle" font-weight="bold" font-family="Liberation Sans" transform="translate(408.85 277.9) scale(1 1.2)">***</text>
<text x="0" y="0" font-size="1.6" fill="#333" text-anchor="middle" font-weight="bold" font-family="Liberation Sans" transform="translate(414.65 274.7) scale(1 1.2)">***</text>
<rect x="429" y="245.05" width="5.3" height="1.5" fill="#1c2a5a" stroke="#1c2a5a" stroke-width="0.25"/>
<text x="0" y="0" font-size="2.6" fill="#444" text-anchor="start" font-weight="normal" font-family="Liberation Sans" transform="translate(436.7 246.92) scale(1 1.2)">OVCAR3</text>
<rect x="429" y="250.25" width="5.3" height="1.5" fill="#a89060" stroke="#a89060" stroke-width="0.25"/>
<text x="0" y="0" font-size="2.6" fill="#444" text-anchor="start" font-weight="normal" font-family="Liberation Sans" transform="translate(436.7 252.12) scale(1 1.2)">CONTROL</text>
<rect x="429" y="255.25" width="5.3" height="1.5" fill="#8a8a82" stroke="#8a8a82" stroke-width="0.25"/>
<text x="0" y="0" font-size="2.6" fill="#444" text-anchor="start" font-weight="normal" font-family="Liberation Sans" transform="translate(436.7 257.12) scale(1 1.2)">Sh-SLC45A4-1</text>
<rect x="429" y="260.15" width="5.3" height="1.5" fill="#5a9098" stroke="#5a9098" stroke-width="0.25"/>
<text x="0" y="0" font-size="2.6" fill="#444" text-anchor="start" font-weight="normal" font-family="Liberation Sans" transform="translate(436.7 262.02) scale(1 1.2)">Sh-SLC45A4-2</text>
<rect x="429" y="265.15" width="5.3" height="1.5" fill="#3a3a3a" stroke="#3a3a3a" stroke-width="0.25"/>
<text x="0" y="0" font-size="2.6" fill="#444" text-anchor="start" font-weight="normal" font-family="Liberation Sans" transform="translate(436.7 267.02) scale(1 1.2)">Sh-SLC45A4-3</text>
<line x1="472.6" y1="241.7" x2="472.6" y2="286.7" stroke="#222" stroke-width="0.5"/>
<line x1="472.6" y1="286.7" x2="503.5" y2="286.7" stroke="#222" stroke-width="0.5"/>
<text x="0" y="0" font-size="4.2" fill="#000" text-anchor="middle" font-weight="bold" font-family="Liberation Sans" transform="translate(487.2 237.1) scale(1 1.2)">HK2</text>
<line x1="471.6" y1="241.7" x2="472.6" y2="241.7" stroke="#222" stroke-width="0.4"/>
<text x="0" y="0" font-size="2.9" fill="#000" text-anchor="end" font-weight="bold" font-family="Liberation Sans" transform="translate(471.2 242.95) scale(1 1.2)">1.5</text>
<line x1="471.6" y1="257.5" x2="472.6" y2="257.5" stroke="#222" stroke-width="0.4"/>
<text x="0" y="0" font-size="2.9" fill="#000" text-anchor="end" font-weight="bold" font-family="Liberation Sans" transform="translate(471.2 258.75) scale(1 1.2)">1.0</text>
<line x1="471.6" y1="272.1" x2="472.6" y2="272.1" stroke="#222" stroke-width="0.4"/>
<text x="0" y="0" font-size="2.9" fill="#000" text-anchor="end" font-weight="bold" font-family="Liberation Sans" transform="translate(471.2 273.35) scale(1 1.2)">0.5</text>
<line x1="471.6" y1="286.7" x2="472.6" y2="286.7" stroke="#222" stroke-width="0.4"/>
<text x="0" y="0" font-size="2.9" fill="#000" text-anchor="end" font-weight="bold" font-family="Liberation Sans" transform="translate(471.2 287.95) scale(1 1.2)">0.0</text>
<rect x="475.3" y="257.5" width="3.5" height="29.2" fill="#2449a0" stroke="#1a3070" stroke-width="0.4"/>
<line x1="477.05" y1="257.2" x2="477.05" y2="257.5" stroke="#1a3070" stroke-width="0.3"/>
<line x1="476.15" y1="257.2" x2="477.95" y2="257.2" stroke="#1a3070" stroke-width="0.3"/>
<line x1="477.05" y1="286.7" x2="477.05" y2="287.6" stroke="#222" stroke-width="0.4"/>
<rect x="480.7" y="257.5" width="3.5" height="29.2" fill="#b59a68" stroke="#8a7040" stroke-width="0.4"/>
<line x1="482.45" y1="257.2" x2="482.45" y2="257.5" stroke="#8a7040" stroke-width="0.3"/>
<line x1="481.55" y1="257.2" x2="483.35" y2="257.2" stroke="#8a7040" stroke-width="0.3"/>
<line x1="482.45" y1="286.7" x2="482.45" y2="287.6" stroke="#222" stroke-width="0.4"/>
<rect x="486.4" y="278.3" width="3.5" height="8.4" fill="#ebe6da" stroke="#333" stroke-width="0.4"/>
<line x1="488.15" y1="277.7" x2="488.15" y2="278.3" stroke="#333" stroke-width="0.3"/>
<line x1="487.25" y1="277.7" x2="489.05" y2="277.7" stroke="#333" stroke-width="0.3"/>
<line x1="488.15" y1="286.7" x2="488.15" y2="287.6" stroke="#222" stroke-width="0.4"/>
<rect x="491.8" y="278.3" width="3.5" height="8.4" fill="#6fb3d0" stroke="#305a70" stroke-width="0.4"/>
<line x1="493.55" y1="277.7" x2="493.55" y2="278.3" stroke="#305a70" stroke-width="0.3"/>
<line x1="492.65" y1="277.7" x2="494.45" y2="277.7" stroke="#305a70" stroke-width="0.3"/>
<line x1="493.55" y1="286.7" x2="493.55" y2="287.6" stroke="#222" stroke-width="0.4"/>
<rect x="497.5" y="276.9" width="3.5" height="9.8" fill="#3a4249" stroke="#222" stroke-width="0.4"/>
<line x1="499.25" y1="276.3" x2="499.25" y2="276.9" stroke="#222" stroke-width="0.3"/>
<line x1="498.35" y1="276.3" x2="500.15" y2="276.3" stroke="#222" stroke-width="0.3"/>
<line x1="499.25" y1="286.7" x2="499.25" y2="287.6" stroke="#222" stroke-width="0.4"/>
<text x="0" y="0" font-size="2.8" fill="#000" text-anchor="middle" font-weight="bold" font-family="Liberation Sans" transform="translate(462.1 264.2) rotate(-90) scale(1 1.2)">HK2 mRNA expression</text>
<text x="0" y="0" font-size="2.5" fill="#000" text-anchor="end" font-weight="bold" font-family="Liberation Sans" transform="translate(478.25 289.7) rotate(-45) scale(1 1.2)">SKOV3</text>
<text x="0" y="0" font-size="2.5" fill="#000" text-anchor="end" font-weight="bold" font-family="Liberation Sans" transform="translate(483.65 289.7) rotate(-45) scale(1 1.2)">CONTROL</text>
<text x="0" y="0" font-size="2.5" fill="#000" text-anchor="end" font-weight="bold" font-family="Liberation Sans" transform="translate(489.35 289.7) rotate(-45) scale(1 1.2)">Sh-SLC45A4-1</text>
<text x="0" y="0" font-size="2.5" fill="#000" text-anchor="end" font-weight="bold" font-family="Liberation Sans" transform="translate(494.75 289.7) rotate(-45) scale(1 1.2)">Sh-SLC45A4-2</text>
<text x="0" y="0" font-size="2.5" fill="#000" text-anchor="end" font-weight="bold" font-family="Liberation Sans" transform="translate(500.45 289.7) rotate(-45) scale(1 1.2)">Sh-SLC45A4-3</text>
<text x="0" y="0" font-size="1.6" fill="#333" text-anchor="middle" font-weight="bold" font-family="Liberation Sans" transform="translate(488.15 277) scale(1 1.2)">***</text>
<text x="0" y="0" font-size="1.6" fill="#333" text-anchor="middle" font-weight="bold" font-family="Liberation Sans" transform="translate(493.55 277) scale(1 1.2)">***</text>
<text x="0" y="0" font-size="1.6" fill="#333" text-anchor="middle" font-weight="bold" font-family="Liberation Sans" transform="translate(499.25 275.6) scale(1 1.2)">***</text>
<rect x="513.3" y="245.05" width="5.3" height="1.5" fill="#1c2a5a" stroke="#1c2a5a" stroke-width="0.25"/>
<text x="0" y="0" font-size="2.6" fill="#444" text-anchor="start" font-weight="normal" font-family="Liberation Sans" transform="translate(521 246.92) scale(1 1.2)">SKOV3</text>
<rect x="513.3" y="250.25" width="5.3" height="1.5" fill="#a89060" stroke="#a89060" stroke-width="0.25"/>
<text x="0" y="0" font-size="2.6" fill="#444" text-anchor="start" font-weight="normal" font-family="Liberation Sans" transform="translate(521 252.12) scale(1 1.2)">CONTROL</text>
<rect x="513.3" y="255.25" width="5.3" height="1.5" fill="#8a8a82" stroke="#8a8a82" stroke-width="0.25"/>
<text x="0" y="0" font-size="2.6" fill="#444" text-anchor="start" font-weight="normal" font-family="Liberation Sans" transform="translate(521 257.12) scale(1 1.2)">Sh-SLC45A4-1</text>
<rect x="513.3" y="260.15" width="5.3" height="1.5" fill="#5a9098" stroke="#5a9098" stroke-width="0.25"/>
<text x="0" y="0" font-size="2.6" fill="#444" text-anchor="start" font-weight="normal" font-family="Liberation Sans" transform="translate(521 262.02) scale(1 1.2)">Sh-SLC45A4-2</text>
<rect x="513.3" y="265.15" width="5.3" height="1.5" fill="#3a3a3a" stroke="#3a3a3a" stroke-width="0.25"/>
<text x="0" y="0" font-size="2.6" fill="#444" text-anchor="start" font-weight="normal" font-family="Liberation Sans" transform="translate(521 267.02) scale(1 1.2)">Sh-SLC45A4-3</text>
<defs><filter id="bl" x="-20%" y="-60%" width="140%" height="220%"><feGaussianBlur stdDeviation="0.6 0.55"/></filter><filter id="bl2"><feGaussianBlur stdDeviation="0.35"/></filter><filter id="bl3"><feGaussianBlur stdDeviation="0.25"/></filter></defs>
<rect x="377.9" y="121.1" width="47.2" height="5.3" fill="#e0e0e0"/>
<g filter="url(#bl)"><rect x="378.1" y="121.52" width="10.6" height="4.45" rx="0.9" fill="#0f0f0f"/><rect x="390.1" y="121.56" width="10.6" height="4.38" rx="0.9" fill="#1c1c1c"/><rect x="402.5" y="122.13" width="10" height="3.24" rx="0.9" fill="#bfbfbf"/><rect x="414.5" y="122.04" width="10.2" height="3.42" rx="0.9" fill="#ababab"/></g>
<rect x="377.9" y="129.6" width="47.2" height="4.9" fill="#e0e0e0"/>
<g filter="url(#bl)"><rect x="378.1" y="130.73" width="10.6" height="2.64" rx="0.9" fill="#161616"/><rect x="390.1" y="130.76" width="10.6" height="2.59" rx="0.9" fill="#262626"/><rect x="402.5" y="130.97" width="10" height="2.16" rx="0.9" fill="#959595"/><rect x="414.5" y="131.08" width="10.2" height="1.94" rx="0.9" fill="#bfbfbf"/></g>
<rect x="377.9" y="137.6" width="47.2" height="4.8" fill="#e0e0e0"/>
<g filter="url(#bl)"><rect x="378.1" y="138.57" width="10.6" height="2.86" rx="0.9" fill="#0c0c0c"/><rect x="390.1" y="138.58" width="10.6" height="2.85" rx="0.9" fill="#0f0f0f"/><rect x="402.5" y="139.05" width="10" height="1.9" rx="0.9" fill="#d7d7d7"/><rect x="414.5" y="139.07" width="10.2" height="1.87" rx="0.9" fill="#dadada"/></g>
<rect x="377.9" y="145.5" width="47.2" height="4.9" fill="#e0e0e0"/>
<g filter="url(#bl)"><rect x="378.1" y="146.63" width="10.6" height="2.64" rx="0.9" fill="#161616"/><rect x="390.1" y="146.66" width="10.6" height="2.59" rx="0.9" fill="#262626"/><rect x="402.5" y="146.9" width="10" height="2.1" rx="0.9" fill="#a0a0a0"/><rect x="414.5" y="146.9" width="10.2" height="2.1" rx="0.9" fill="#a0a0a0"/></g>
<rect x="377.9" y="153.4" width="47.2" height="5.5" fill="#e0e0e0"/>
<g filter="url(#bl)"><rect x="378.1" y="154.38" width="10.6" height="3.55" rx="0.9" fill="#0c0c0c"/><rect x="390.1" y="154.38" width="10.6" height="3.53" rx="0.9" fill="#0f0f0f"/><rect x="402.5" y="154.86" width="10" height="2.57" rx="0.9" fill="#bfbfbf"/><rect x="414.5" y="154.93" width="10.2" height="2.43" rx="0.9" fill="#d0d0d0"/></g>
<rect x="377.9" y="161.7" width="47.2" height="4.8" fill="#e0e0e0"/>
<g filter="url(#bl)"><rect x="378.1" y="162.73" width="10.6" height="2.74" rx="0.9" fill="#2c2c2c"/><rect x="390.1" y="162.73" width="10.6" height="2.74" rx="0.9" fill="#2c2c2c"/><rect x="402.5" y="162.92" width="10" height="2.36" rx="0.9" fill="#898989"/><rect x="414.5" y="162.95" width="10.2" height="2.3" rx="0.9" fill="#959595"/></g>
<rect x="377.9" y="169.5" width="47.2" height="5.2" fill="#e0e0e0"/>
<g filter="url(#bl)"><rect x="378.1" y="170.57" width="10.6" height="3.06" rx="0.9" fill="#161616"/><rect x="390.1" y="170.63" width="10.6" height="2.93" rx="0.9" fill="#363636"/><rect x="402.5" y="170.98" width="10" height="2.25" rx="0.9" fill="#bfbfbf"/><rect x="414.5" y="171.03" width="10.2" height="2.15" rx="0.9" fill="#cdcdcd"/></g>
<rect x="377.9" y="177.4" width="47.2" height="5.5" fill="#e0e0e0"/>
<g filter="url(#bl)"><rect x="378.1" y="178.21" width="10.6" height="3.88" rx="0.9" fill="#363636"/><rect x="390.1" y="178.25" width="10.6" height="3.8" rx="0.9" fill="#454545"/><rect x="402.5" y="178.76" width="10" height="2.77" rx="0.9" fill="#d3d3d3"/><rect x="414.5" y="178.85" width="10.2" height="2.61" rx="0.9" fill="#dedede"/></g>
<rect x="377.9" y="186" width="47.2" height="4.9" fill="#e0e0e0"/>
<g filter="url(#bl)"><rect x="378.1" y="186.88" width="10.6" height="3.15" rx="0.9" fill="#0f0f0f"/><rect x="390.1" y="186.88" width="10.6" height="3.15" rx="0.9" fill="#0f0f0f"/><rect x="402.5" y="186.88" width="10" height="3.15" rx="0.9" fill="#0f0f0f"/><rect x="414.5" y="186.89" width="10.2" height="3.12" rx="0.9" fill="#161616"/></g>
<rect x="445.9" y="121.1" width="47.1" height="5.3" fill="#e0e0e0"/>
<g filter="url(#bl)"><rect x="446" y="122.19" width="10.3" height="3.12" rx="0.9" fill="#161616"/><rect x="457.9" y="122.19" width="10.2" height="3.12" rx="0.9" fill="#161616"/><rect x="470.1" y="122.68" width="10.2" height="2.14" rx="0.9" fill="#d3d3d3"/><rect x="481.9" y="122.66" width="10.8" height="2.19" rx="0.9" fill="#cdcdcd"/></g>
<rect x="445.9" y="129.6" width="47.1" height="4.9" fill="#e0e0e0"/>
<g filter="url(#bl)"><rect x="446" y="130.73" width="10.3" height="2.64" rx="0.9" fill="#161616"/><rect x="457.9" y="130.73" width="10.2" height="2.64" rx="0.9" fill="#161616"/><rect x="470.1" y="131.03" width="10.2" height="2.05" rx="0.9" fill="#ababab"/><rect x="481.9" y="131.05" width="10.8" height="1.99" rx="0.9" fill="#b6b6b6"/></g>
<rect x="445.9" y="137.6" width="47.1" height="4.8" fill="#e0e0e0"/>
<g filter="url(#bl)"><rect x="446" y="138.58" width="10.3" height="2.85" rx="0.9" fill="#0f0f0f"/><rect x="457.9" y="138.59" width="10.2" height="2.82" rx="0.9" fill="#161616"/><rect x="470.1" y="138.96" width="10.2" height="2.07" rx="0.9" fill="#bfbfbf"/><rect x="481.9" y="139.02" width="10.8" height="1.96" rx="0.9" fill="#d0d0d0"/></g>
<rect x="445.9" y="145.5" width="47.1" height="4.9" fill="#e0e0e0"/>
<g filter="url(#bl)"><rect x="446" y="146.8" width="10.3" height="2.3" rx="0.9" fill="#363636"/><rect x="457.9" y="146.77" width="10.2" height="2.35" rx="0.9" fill="#262626"/><rect x="470.1" y="146.99" width="10.2" height="1.91" rx="0.9" fill="#a0a0a0"/><rect x="481.9" y="147.16" width="10.8" height="1.59" rx="0.9" fill="#dadada"/></g>
<rect x="445.9" y="153.4" width="47.1" height="5.5" fill="#e0e0e0"/>
<g filter="url(#bl)"><rect x="446" y="154.63" width="10.3" height="3.04" rx="0.9" fill="#454545"/><rect x="457.9" y="154.52" width="10.2" height="3.26" rx="0.9" fill="#0f0f0f"/><rect x="470.1" y="155" width="10.2" height="2.31" rx="0.9" fill="#c8c8c8"/><rect x="481.9" y="154.96" width="10.8" height="2.38" rx="0.9" fill="#bfbfbf"/></g>
<rect x="445.9" y="161.7" width="47.1" height="4.8" fill="#e0e0e0"/>
<g filter="url(#bl)"><rect x="446" y="162.83" width="10.3" height="2.53" rx="0.9" fill="#262626"/><rect x="457.9" y="162.86" width="10.2" height="2.48" rx="0.9" fill="#363636"/><rect x="470.1" y="163.12" width="10.2" height="1.95" rx="0.9" fill="#b6b6b6"/><rect x="481.9" y="163.23" width="10.8" height="1.74" rx="0.9" fill="#d7d7d7"/></g>
<rect x="445.9" y="169.5" width="47.1" height="5.2" fill="#e0e0e0"/>
<g filter="url(#bl)"><rect x="446" y="170.57" width="10.3" height="3.06" rx="0.9" fill="#161616"/><rect x="457.9" y="170.57" width="10.2" height="3.06" rx="0.9" fill="#161616"/><rect x="470.1" y="170.85" width="10.2" height="2.5" rx="0.9" fill="#959595"/><rect x="481.9" y="170.85" width="10.8" height="2.5" rx="0.9" fill="#959595"/></g>
<rect x="445.9" y="177.4" width="47.1" height="5.5" fill="#e0e0e0"/>
<g filter="url(#bl)"><rect x="446" y="178.34" width="10.3" height="3.62" rx="0.9" fill="#363636"/><rect x="457.9" y="178.26" width="10.2" height="3.77" rx="0.9" fill="#161616"/><rect x="470.1" y="178.49" width="10.2" height="3.31" rx="0.9" fill="#6f6f6f"/><rect x="481.9" y="178.8" width="10.8" height="2.69" rx="0.9" fill="#c8c8c8"/></g>
<rect x="445.9" y="186" width="47.1" height="4.9" fill="#e0e0e0"/>
<g filter="url(#bl)"><rect x="446" y="186.88" width="10.3" height="3.15" rx="0.9" fill="#0f0f0f"/><rect x="457.9" y="186.88" width="10.2" height="3.15" rx="0.9" fill="#0f0f0f"/><rect x="470.1" y="186.89" width="10.2" height="3.12" rx="0.9" fill="#161616"/><rect x="481.9" y="186.89" width="10.8" height="3.12" rx="0.9" fill="#161616"/></g>
<text x="0" y="0" font-size="3.3" fill="#333" text-anchor="start" font-weight="normal" font-family="Liberation Sans" transform="translate(357.7 125.25) scale(1 1.25)">SLC45A4</text>
<text x="0" y="0" font-size="3.2" fill="#333" text-anchor="start" font-weight="normal" font-family="Liberation Sans" transform="translate(426.3 125.25) scale(1 1.25)">65kDa</text>
<text x="0" y="0" font-size="3.2" fill="#333" text-anchor="start" font-weight="normal" font-family="Liberation Sans" transform="translate(494 125.25) scale(1 1.25)">65kDa</text>
<text x="0" y="0" font-size="3.3" fill="#333" text-anchor="start" font-weight="normal" font-family="Liberation Sans" transform="translate(357.7 133.55) scale(1 1.25)">PKM2</text>
<text x="0" y="0" font-size="3.2" fill="#333" text-anchor="start" font-weight="normal" font-family="Liberation Sans" transform="translate(426.3 133.55) scale(1 1.25)">58kDa</text>
<text x="0" y="0" font-size="3.2" fill="#333" text-anchor="start" font-weight="normal" font-family="Liberation Sans" transform="translate(494 133.55) scale(1 1.25)">58kDa</text>
<text x="0" y="0" font-size="3.3" fill="#333" text-anchor="start" font-weight="normal" font-family="Liberation Sans" transform="translate(357.7 141.5) scale(1 1.25)">HK2</text>
<text x="0" y="0" font-size="3.2" fill="#333" text-anchor="start" font-weight="normal" font-family="Liberation Sans" transform="translate(426.3 141.5) scale(1 1.25)">102kDa</text>
<text x="0" y="0" font-size="3.2" fill="#333" text-anchor="start" font-weight="normal" font-family="Liberation Sans" transform="translate(494 141.5) scale(1 1.25)">102kDa</text>
<text x="0" y="0" font-size="3.3" fill="#333" text-anchor="start" font-weight="normal" font-family="Liberation Sans" transform="translate(357.7 149.45) scale(1 1.25)">HIF-1α</text>
<text x="0" y="0" font-size="3.2" fill="#333" text-anchor="start" font-weight="normal" font-family="Liberation Sans" transform="translate(426.3 149.45) scale(1 1.25)">93kDa</text>
<text x="0" y="0" font-size="3.2" fill="#333" text-anchor="start" font-weight="normal" font-family="Liberation Sans" transform="translate(494 149.45) scale(1 1.25)">93kDa</text>
<text x="0" y="0" font-size="3.3" fill="#333" text-anchor="start" font-weight="normal" font-family="Liberation Sans" transform="translate(357.7 157.65) scale(1 1.25)">PGK1</text>
<text x="0" y="0" font-size="3.2" fill="#333" text-anchor="start" font-weight="normal" font-family="Liberation Sans" transform="translate(426.3 157.65) scale(1 1.25)">45kDa</text>
<text x="0" y="0" font-size="3.2" fill="#333" text-anchor="start" font-weight="normal" font-family="Liberation Sans" transform="translate(494 157.65) scale(1 1.25)">45kDa</text>
<text x="0" y="0" font-size="3.3" fill="#333" text-anchor="start" font-weight="normal" font-family="Liberation Sans" transform="translate(357.7 165.6) scale(1 1.25)">GLUT3</text>
<text x="0" y="0" font-size="3.2" fill="#333" text-anchor="start" font-weight="normal" font-family="Liberation Sans" transform="translate(426.3 165.6) scale(1 1.25)">54kDa</text>
<text x="0" y="0" font-size="3.2" fill="#333" text-anchor="start" font-weight="normal" font-family="Liberation Sans" transform="translate(494 165.6) scale(1 1.25)">54kDa</text>
<text x="0" y="0" font-size="3.3" fill="#333" text-anchor="start" font-weight="normal" font-family="Liberation Sans" transform="translate(357.7 173.6) scale(1 1.25)">PDK1</text>
<text x="0" y="0" font-size="3.2" fill="#333" text-anchor="start" font-weight="normal" font-family="Liberation Sans" transform="translate(426.3 173.6) scale(1 1.25)">49kDa</text>
<text x="0" y="0" font-size="3.2" fill="#333" text-anchor="start" font-weight="normal" font-family="Liberation Sans" transform="translate(494 173.6) scale(1 1.25)">49kDa</text>
<text x="0" y="0" font-size="3.3" fill="#333" text-anchor="start" font-weight="normal" font-family="Liberation Sans" transform="translate(357.7 181.65) scale(1 1.25)">LDHA</text>
<text x="0" y="0" font-size="3.2" fill="#333" text-anchor="start" font-weight="normal" font-family="Liberation Sans" transform="translate(426.3 181.65) scale(1 1.25)">37kDa</text>
<text x="0" y="0" font-size="3.2" fill="#333" text-anchor="start" font-weight="normal" font-family="Liberation Sans" transform="translate(494 181.65) scale(1 1.25)">37kDa</text>
<text x="0" y="0" font-size="3.3" fill="#333" text-anchor="start" font-weight="normal" font-family="Liberation Sans" transform="translate(357.7 189.95) scale(1 1.25)">β-actin</text>
<text x="0" y="0" font-size="3.2" fill="#333" text-anchor="start" font-weight="normal" font-family="Liberation Sans" transform="translate(426.3 189.95) scale(1 1.25)">43kDa</text>
<text x="0" y="0" font-size="3.2" fill="#333" text-anchor="start" font-weight="normal" font-family="Liberation Sans" transform="translate(494 189.95) scale(1 1.25)">43kDa</text>
<text x="0" y="0" font-size="3.3" fill="#222" text-anchor="middle" font-weight="bold" font-family="Liberation Sans" transform="translate(401.4 107.8) scale(1 1.25)">OVCAR3</text>
<text x="0" y="0" font-size="3.3" fill="#222" text-anchor="middle" font-weight="bold" font-family="Liberation Sans" transform="translate(469.2 107.8) scale(1 1.25)">SKOV3</text>
<line x1="378" y1="110.3" x2="424.8" y2="110.3" stroke="#333" stroke-width="0.4"/>
<line x1="445.9" y1="110.3" x2="492.9" y2="110.3" stroke="#333" stroke-width="0.4"/>
<text x="387" y="112.4" font-size="2.4" fill="#222" text-anchor="end" font-weight="normal" font-family="Liberation Sans" transform="rotate(-58 387 112.4)">Control</text>
<text x="398.4" y="112.4" font-size="2.4" fill="#222" text-anchor="end" font-weight="normal" font-family="Liberation Sans" transform="rotate(-58 398.4 112.4)">Control+</text>
<text x="400.35" y="113.62" font-size="2.4" fill="#222" text-anchor="end" font-weight="normal" font-family="Liberation Sans" transform="rotate(-58 400.35 113.62)">Vector NC</text>
<text x="411" y="110.6" font-size="2.4" fill="#222" text-anchor="end" font-weight="normal" font-family="Liberation Sans" transform="rotate(-58 411 110.6)">Sh-SLC45A4</text>
<text x="412.95" y="111.82" font-size="2.4" fill="#222" text-anchor="end" font-weight="normal" font-family="Liberation Sans" transform="rotate(-58 412.95 111.82)">-1 group</text>
<text x="423.1" y="110.6" font-size="2.4" fill="#222" text-anchor="end" font-weight="normal" font-family="Liberation Sans" transform="rotate(-58 423.1 110.6)">Sh-SLC45A4</text>
<text x="425.05" y="111.82" font-size="2.4" fill="#222" text-anchor="end" font-weight="normal" font-family="Liberation Sans" transform="rotate(-58 425.05 111.82)">-2 group</text>
<text x="454.75" y="112.4" font-size="2.4" fill="#222" text-anchor="end" font-weight="normal" font-family="Liberation Sans" transform="rotate(-58 454.75 112.4)">Control</text>
<text x="466" y="112.4" font-size="2.4" fill="#222" text-anchor="end" font-weight="normal" font-family="Liberation Sans" transform="rotate(-58 466 112.4)">Control+</text>
<text x="467.95" y="113.62" font-size="2.4" fill="#222" text-anchor="end" font-weight="normal" font-family="Liberation Sans" transform="rotate(-58 467.95 113.62)">Vector NC</text>
<text x="478.7" y="110.6" font-size="2.4" fill="#222" text-anchor="end" font-weight="normal" font-family="Liberation Sans" transform="rotate(-58 478.7 110.6)">Sh-SLC45A4</text>
<text x="480.65" y="111.82" font-size="2.4" fill="#222" text-anchor="end" font-weight="normal" font-family="Liberation Sans" transform="rotate(-58 480.65 111.82)">-1 group</text>
<text x="490.8" y="110.6" font-size="2.4" fill="#222" text-anchor="end" font-weight="normal" font-family="Liberation Sans" transform="rotate(-58 490.8 110.6)">Sh-SLC45A4</text>
<text x="492.75" y="111.82" font-size="2.4" fill="#222" text-anchor="end" font-weight="normal" font-family="Liberation Sans" transform="rotate(-58 492.75 111.82)">-2 group</text>
<defs><filter id="bl4" x="-10%" y="-10%" width="120%" height="120%"><feGaussianBlur stdDeviation="0.45"/></filter></defs>
<rect x="532.8" y="113" width="24.4" height="24.4" fill="#000"/><svg x="532.8" y="113" width="24.4" height="24.4" overflow="hidden"><g filter="url(#bl4)"><circle cx="14.53" cy="8.5" r="0.85" fill="#171a93"/><circle cx="21.65" cy="13.92" r="0.92" fill="#131874"/><circle cx="9.06" cy="3.6" r="0.96" fill="#131b7f"/><circle cx="18.71" cy="22.11" r="0.87" fill="#131671"/><circle cx="21.4" cy="13.55" r="1.28" fill="#161b75"/><circle cx="0.75" cy="19.46" r="0.89" fill="#151e93"/><circle cx="9.25" cy="22.17" r="1.19" fill="#121b93"/><circle cx="4.41" cy="1.44" r="1.07" fill="#121b70"/><circle cx="16.43" cy="16.54" r="1.24" fill="#1c186e"/><circle cx="15.91" cy="4.78" r="0.98" fill="#1e1a73"/><circle cx="11.11" cy="6" r="1.19" fill="#1c1c78"/><circle cx="3.91" cy="23.96" r="1.21" fill="#12168a"/><circle cx="10.56" cy="5.27" r="0.87" fill="#1b1766"/><circle cx="12.4" cy="1.92" r="1.02" fill="#12146b"/><circle cx="22.61" cy="8.69" r="0.93" fill="#1a1785"/><circle cx="14" cy="9.85" r="0.89" fill="#191a94"/><circle cx="9.34" cy="23.92" r="1.17" fill="#14195f"/><circle cx="13.59" cy="4.79" r="0.87" fill="#121990"/><circle cx="11.3" cy="20.49" r="1.09" fill="#191874"/><circle cx="19.75" cy="21.43" r="1.02" fill="#1c1a87"/><circle cx="3.98" cy="5.21" r="1" fill="#171667"/><circle cx="12.48" cy="16.77" r="1.11" fill="#131c5f"/><circle cx="22.84" cy="20.32" r="1.21" fill="#171c6b"/><circle cx="18.47" cy="21.89" r="1.17" fill="#161b96"/><circle cx="8.33" cy="14.97" r="0.97" fill="#171c84"/><circle cx="6.24" cy="22.21" r="0.99" fill="#131b92"/><circle cx="6.76" cy="10.25" r="1.1" fill="#15156b"/><circle cx="16.33" cy="22.1" r="0.89" fill="#131266"/><circle cx="3.75" cy="9.6" r="0.91" fill="#131a6c"/><circle cx="6.86" cy="9.09" r="1.04" fill="#17128f"/><circle cx="20.87" cy="10.15" r="1" fill="#17138c"/><circle cx="10.56" cy="5.05" r="1.16" fill="#131568"/><circle cx="3.54" cy="2.13" r="1.11" fill="#151c94"/><circle cx="10.48" cy="4.57" r="1.21" fill="#1e1e79"/><circle cx="22.17" cy="3.78" r="0.9" fill="#14128b"/><circle cx="14.96" cy="19.89" r="0.97" fill="#1e1a70"/><circle cx="6.99" cy="9.61" r="1.04" fill="#19156c"/><circle cx="17.88" cy="4.99" r="1.1" fill="#191b61"/><circle cx="1.63" cy="21.62" r="0.87" fill="#121c95"/><circle cx="2.42" cy="8.35" r="0.95" fill="#12138d"/><circle cx="23.35" cy="10.17" r="1.07" fill="#1e1892"/><circle cx="14.85" cy="21.06" r="0.92" fill="#1a1b87"/><circle cx="2.87" cy="22.89" r="1.23" fill="#151985"/><circle cx="14.37" cy="7.98" r="0.91" fill="#151689"/><circle cx="11.46" cy="22.5" r="1.25" fill="#1e1c95"/><circle cx="16.6" cy="11.32" r="1.11" fill="#131e61"/><circle cx="0.74" cy="23.51" r="1.04" fill="#1e195f"/><circle cx="14.23" cy="19.15" r="1.05" fill="#1d1874"/><circle cx="15.6" cy="19.99" r="0.87" fill="#1a1769"/><circle cx="11.37" cy="23.16" r="1.21" fill="#131a7d"/><circle cx="13.09" cy="2.84" r="1.28" fill="#171287"/><circle cx="23.69" cy="3.97" r="1.25" fill="#1d1d71"/><circle cx="1.52" cy="16.94" r="1.21" fill="#18147c"/><circle cx="11.08" cy="14.9" r="0.85" fill="#1c1969"/><circle cx="0.59" cy="23.99" r="1.03" fill="#14165f"/><circle cx="19.52" cy="10.29" r="1.03" fill="#1a1e76"/><circle cx="16.63" cy="5.82" r="0.97" fill="#1e1779"/><circle cx="2.06" cy="18.29" r="0.86" fill="#1a1785"/><circle cx="1.39" cy="5.07" r="0.88" fill="#131a74"/><circle cx="11.05" cy="11.22" r="1.28" fill="#121d8b"/><circle cx="19.29" cy="2.19" r="1.22" fill="#1a1384"/><circle cx="3.29" cy="15.64" r="1.29" fill="#13168c"/><circle cx="13.46" cy="10.43" r="0.93" fill="#1c1c86"/><circle cx="9.39" cy="20.6" r="0.93" fill="#191773"/><circle cx="7.13" cy="5.79" r="1.16" fill="#1a138d"/><circle cx="6.08" cy="15.93" r="1.05" fill="#161e70"/><circle cx="11.77" cy="15.19" r="0.97" fill="#161278"/><circle cx="4.85" cy="17.16" r="0.96" fill="#171687"/><circle cx="10.54" cy="6.25" r="1.29" fill="#151265"/><circle cx="3.54" cy="0.67" r="1.1" fill="#1b146e"/><circle cx="19.35" cy="18.18" r="0.86" fill="#1d1b8d"/><circle cx="5.98" cy="23.66" r="1.22" fill="#181e62"/><circle cx="15.27" cy="10.03" r="0.99" fill="#181690"/><circle cx="21.65" cy="18.59" r="1.01" fill="#181968"/><circle cx="13.1" cy="9.2" r="0.96" fill="#181c7d"/><circle cx="6.73" cy="9.5" r="1.13" fill="#121a92"/><circle cx="9.96" cy="1.19" r="1.18" fill="#1c1e8d"/><circle cx="17.19" cy="16.15" r="0.9" fill="#151993"/><circle cx="12.05" cy="5.62" r="1" fill="#1d1a84"/><circle cx="4.18" cy="0.36" r="1.04" fill="#15126b"/><circle cx="23.42" cy="18.34" r="1.2" fill="#121d70"/><circle cx="13.35" cy="0.65" r="0.99" fill="#1b1b70"/><circle cx="10.44" cy="15.51" r="0.98" fill="#181969"/><circle cx="21.26" cy="1.18" r="1.03" fill="#161373"/><circle cx="17.6" cy="12.14" r="1.19" fill="#191e75"/><circle cx="1.02" cy="15.5" r="1.03" fill="#1a1d73"/><circle cx="22.32" cy="9.76" r="0.98" fill="#1c1e70"/><circle cx="9.26" cy="3.5" r="1.16" fill="#16167c"/><circle cx="20.78" cy="3.92" r="1.28" fill="#1c1994"/><circle cx="2.09" cy="9.54" r="1.24" fill="#1e1378"/><circle cx="16.38" cy="24.09" r="1.09" fill="#151560"/><circle cx="2.6" cy="12.39" r="1.17" fill="#131a6f"/><circle cx="17.95" cy="19.03" r="1.12" fill="#171992"/><circle cx="22.39" cy="6.9" r="1.02" fill="#161882"/><circle cx="22.54" cy="19.55" r="1.13" fill="#1b1568"/></g><ellipse cx="20" cy="24" rx="2.9" ry="1.5" fill="#7c7c7c" filter="url(#bl4)"/></svg>
<rect x="558.3" y="113" width="24.4" height="24.4" fill="#000"/><svg x="558.3" y="113" width="24.4" height="24.4" overflow="hidden"><g filter="url(#bl4)"><circle cx="7.58" cy="6.29" r="1.01" fill="#56070c"/><circle cx="18.87" cy="10.07" r="0.99" fill="#d60804"/><circle cx="22.83" cy="7.04" r="0.71" fill="#4d020c"/><circle cx="19.52" cy="23.81" r="1.03" fill="#590c00"/><circle cx="9.45" cy="15.02" r="0.8" fill="#400101"/><circle cx="2.41" cy="21.07" r="0.63" fill="#5f010c"/><circle cx="10.28" cy="13.83" r="0.87" fill="#330000"/><circle cx="2.49" cy="21.78" r="0.87" fill="#360904"/><circle cx="24.08" cy="9.88" r="1.05" fill="#410106"/><circle cx="23.67" cy="22.31" r="0.79" fill="#430a0b"/><circle cx="23.91" cy="11.78" r="0.96" fill="#450805"/><circle cx="17.03" cy="14.9" r="0.72" fill="#3b0409"/><circle cx="0.9" cy="2.01" r="0.63" fill="#3e0408"/><circle cx="9.67" cy="22.88" r="0.97" fill="#390b06"/><circle cx="17.43" cy="15.94" r="1.08" fill="#5c0c05"/><circle cx="10.44" cy="18.82" r="0.95" fill="#560700"/><circle cx="13.04" cy="20.62" r="1.03" fill="#450907"/><circle cx="20.91" cy="15.85" r="0.61" fill="#34060c"/><circle cx="2" cy="1.21" r="0.75" fill="#360500"/><circle cx="6.15" cy="18.31" r="0.99" fill="#3f0c03"/><circle cx="16.46" cy="14.11" r="0.96" fill="#450900"/><circle cx="1.51" cy="14.36" r="0.64" fill="#5a0808"/><circle cx="14.51" cy="15.33" r="0.83" fill="#570505"/><circle cx="16.88" cy="20.51" r="0.86" fill="#490008"/><circle cx="15.56" cy="10.88" r="0.69" fill="#bf0802"/><circle cx="21.37" cy="23.58" r="0.62" fill="#3c0c0c"/><circle cx="15.87" cy="21.36" r="0.65" fill="#5e0c09"/><circle cx="1.82" cy="9.65" r="0.6" fill="#520802"/><circle cx="5.95" cy="11.46" r="1.08" fill="#43020c"/><circle cx="17.82" cy="16.62" r="0.95" fill="#3c0701"/><circle cx="7.21" cy="3.52" r="1.08" fill="#5d0c04"/><circle cx="7.26" cy="16.82" r="0.81" fill="#5b080c"/><circle cx="1.46" cy="10.51" r="0.74" fill="#3e0909"/><circle cx="6.09" cy="1.29" r="0.8" fill="#520c08"/><circle cx="1.17" cy="18.17" r="0.79" fill="#370100"/><circle cx="16" cy="8.78" r="0.76" fill="#c60b04"/><circle cx="18.26" cy="11.06" r="0.71" fill="#cd0407"/><circle cx="11.81" cy="15.54" r="0.79" fill="#4d0808"/><circle cx="10.1" cy="7.43" r="0.82" fill="#39060b"/><circle cx="10.01" cy="12.77" r="1.06" fill="#460706"/><circle cx="19.86" cy="3.74" r="1.09" fill="#490808"/><circle cx="6.14" cy="22.08" r="0.63" fill="#410908"/><circle cx="10.84" cy="6.69" r="0.65" fill="#37070c"/><circle cx="14.34" cy="12.83" r="0.83" fill="#480603"/><circle cx="7.29" cy="21.53" r="1.05" fill="#57080b"/><circle cx="5.34" cy="3.24" r="0.76" fill="#3f0408"/><circle cx="10" cy="13.08" r="1.04" fill="#330603"/><circle cx="19.6" cy="2.56" r="1.04" fill="#52070b"/><circle cx="2.37" cy="17.38" r="0.79" fill="#54020b"/><circle cx="2.19" cy="24.14" r="0.97" fill="#4d0403"/><circle cx="17.65" cy="17.67" r="0.79" fill="#320c0b"/><circle cx="0.34" cy="22.43" r="0.83" fill="#540504"/><circle cx="1.61" cy="1.06" r="0.8" fill="#3c0c08"/><circle cx="16.4" cy="21.98" r="0.83" fill="#55040a"/><circle cx="8.19" cy="4.72" r="0.95" fill="#4c0206"/><circle cx="8.34" cy="14.38" r="1" fill="#540c00"/><circle cx="8.59" cy="23.53" r="0.87" fill="#5b0b01"/><circle cx="21.72" cy="2.69" r="0.7" fill="#4a010b"/><circle cx="18.5" cy="7.59" r="1.06" fill="#aa0a02"/><circle cx="17.87" cy="20.81" r="1.03" fill="#320302"/><circle cx="21.74" cy="21.35" r="0.63" fill="#5c0404"/><circle cx="18.34" cy="8.02" r="0.73" fill="#d90b07"/><circle cx="17.48" cy="19.99" r="0.89" fill="#4f0c06"/><circle cx="7.05" cy="23.65" r="0.65" fill="#3c0600"/><circle cx="12.2" cy="22.51" r="0.74" fill="#5a0707"/><circle cx="22.42" cy="17.82" r="1.06" fill="#480005"/><circle cx="1.75" cy="18.86" r="0.93" fill="#5d0509"/><circle cx="24.05" cy="7.75" r="0.86" fill="#500501"/><circle cx="12.39" cy="7.44" r="0.78" fill="#a00c0c"/><circle cx="8.11" cy="7.2" r="1.03" fill="#320809"/><circle cx="19.7" cy="6.7" r="0.77" fill="#d10b04"/><circle cx="7.35" cy="1.43" r="1.05" fill="#5f0b0b"/><circle cx="16.96" cy="22.52" r="1" fill="#590b03"/><circle cx="9.08" cy="8.23" r="0.71" fill="#480501"/><circle cx="21.16" cy="2.52" r="0.96" fill="#330408"/><circle cx="22.73" cy="21.57" r="1.03" fill="#470704"/><circle cx="2.08" cy="9.8" r="1.01" fill="#380507"/><circle cx="12.37" cy="4.79" r="0.88" fill="#bd020c"/><circle cx="16.09" cy="13.92" r="1.07" fill="#3a040b"/><circle cx="18.82" cy="20.56" r="1.04" fill="#520700"/><circle cx="18.56" cy="9.29" r="1.04" fill="#d60505"/><circle cx="22.4" cy="12.02" r="0.87" fill="#38010c"/><circle cx="1.3" cy="16.64" r="0.68" fill="#410209"/><circle cx="15.18" cy="24.05" r="0.91" fill="#540608"/><circle cx="19.16" cy="23.94" r="1.05" fill="#3e0808"/><circle cx="13.17" cy="5.04" r="0.69" fill="#d60a05"/><circle cx="11.81" cy="18.82" r="1.04" fill="#590207"/><circle cx="17.23" cy="20.64" r="0.66" fill="#4c0602"/><circle cx="18.73" cy="19.72" r="0.78" fill="#590407"/><circle cx="20.08" cy="14.56" r="1.01" fill="#5d0208"/><circle cx="1.62" cy="3.1" r="1.08" fill="#370c04"/><circle cx="18.12" cy="15.51" r="0.82" fill="#4d0602"/><circle cx="9.84" cy="3.74" r="1.08" fill="#5c0c04"/><circle cx="3.69" cy="20.77" r="0.88" fill="#51070c"/><circle cx="7.14" cy="15.07" r="0.72" fill="#530308"/><circle cx="23.1" cy="5.37" r="0.89" fill="#3f090a"/><circle cx="5.37" cy="4.79" r="0.9" fill="#440002"/><circle cx="22.06" cy="22.87" r="0.87" fill="#330806"/><circle cx="3.23" cy="6.4" r="0.93" fill="#5e0c05"/><circle cx="6.42" cy="20.8" r="0.79" fill="#4e0c08"/><circle cx="16.48" cy="19.08" r="1.1" fill="#5b0602"/><circle cx="3.61" cy="6.16" r="0.89" fill="#4d0605"/><circle cx="15.93" cy="23.59" r="0.85" fill="#5e090b"/><circle cx="14.44" cy="12.3" r="0.85" fill="#cd0305"/><circle cx="18.35" cy="11.07" r="1.02" fill="#c5060a"/><circle cx="15.54" cy="23.9" r="0.94" fill="#390c08"/><circle cx="7.75" cy="2.13" r="0.62" fill="#570607"/><circle cx="16.17" cy="11.47" r="0.86" fill="#df0805"/><circle cx="9.44" cy="5.22" r="0.62" fill="#390a05"/><circle cx="10.49" cy="18.94" r="0.8" fill="#480600"/><circle cx="4.11" cy="3.05" r="0.98" fill="#55040a"/><circle cx="7.53" cy="7.61" r="0.9" fill="#33090c"/><circle cx="17.61" cy="13.11" r="1.08" fill="#430305"/><circle cx="1.3" cy="23.33" r="0.65" fill="#390300"/><circle cx="17.87" cy="9.73" r="0.79" fill="#d50c07"/><circle cx="5.51" cy="8.25" r="0.95" fill="#530306"/><circle cx="23.75" cy="16.38" r="0.62" fill="#3b0706"/><circle cx="18.83" cy="14.36" r="1.08" fill="#470508"/><circle cx="7.83" cy="5.07" r="0.72" fill="#490305"/><circle cx="14.84" cy="18.49" r="0.94" fill="#550107"/><circle cx="16.63" cy="5.64" r="0.81" fill="#a40a0a"/><circle cx="14.11" cy="12.89" r="1.15" fill="#b40a0a"/><circle cx="18.46" cy="11.37" r="0.93" fill="#b90a0a"/><circle cx="21.25" cy="9.14" r="0.78" fill="#ae0a0a"/><circle cx="10.27" cy="8.09" r="0.78" fill="#bf0a0a"/><circle cx="18.83" cy="10.73" r="0.82" fill="#d20a0a"/><circle cx="16.33" cy="10.35" r="0.74" fill="#af0a0a"/><circle cx="13.81" cy="3.92" r="0.97" fill="#9f0a0a"/><circle cx="19.86" cy="10.86" r="1.02" fill="#b10a0a"/><circle cx="15.38" cy="3.8" r="0.74" fill="#d10a0a"/><circle cx="18.23" cy="4.16" r="1.05" fill="#a30a0a"/><circle cx="14.98" cy="12.12" r="1.11" fill="#a50a0a"/><circle cx="13.08" cy="11.15" r="1.07" fill="#c90a0a"/><circle cx="15.65" cy="3.55" r="0.94" fill="#b20a0a"/><circle cx="12.28" cy="6.93" r="0.76" fill="#c70a0a"/><circle cx="21.41" cy="8.68" r="0.72" fill="#9b0a0a"/><circle cx="15.48" cy="4.04" r="0.89" fill="#b60a0a"/><circle cx="21.16" cy="7.88" r="1.01" fill="#9d0a0a"/><circle cx="12.51" cy="4.7" r="0.99" fill="#a80a0a"/><circle cx="15.09" cy="9.71" r="1.08" fill="#c30a0a"/><circle cx="20.12" cy="6.34" r="0.96" fill="#9d0a0a"/><circle cx="16.23" cy="6.5" r="1.07" fill="#990a0a"/><circle cx="14.75" cy="6.02" r="1" fill="#d10a0a"/><circle cx="18.38" cy="10.29" r="0.91" fill="#a70a0a"/><circle cx="15.8" cy="10.53" r="1.08" fill="#aa0a0a"/><circle cx="16.09" cy="8.96" r="1.13" fill="#b30a0a"/></g><ellipse cx="20" cy="24" rx="2.9" ry="1.5" fill="#7c7c7c" filter="url(#bl4)"/></svg>
<rect x="584" y="113" width="24.4" height="24.4" fill="#000"/><svg x="584" y="113" width="24.4" height="24.4" overflow="hidden"><g filter="url(#bl4)"><circle cx="14.53" cy="8.5" r="0.85" fill="#171a93"/><circle cx="21.65" cy="13.92" r="0.92" fill="#131874"/><circle cx="9.06" cy="3.6" r="0.96" fill="#131b7f"/><circle cx="18.71" cy="22.11" r="0.87" fill="#131671"/><circle cx="21.4" cy="13.55" r="1.28" fill="#161b75"/><circle cx="0.75" cy="19.46" r="0.89" fill="#151e93"/><circle cx="9.25" cy="22.17" r="1.19" fill="#121b93"/><circle cx="4.41" cy="1.44" r="1.07" fill="#121b70"/><circle cx="16.43" cy="16.54" r="1.24" fill="#1c186e"/><circle cx="15.91" cy="4.78" r="0.98" fill="#1e1a73"/><circle cx="11.11" cy="6" r="1.19" fill="#1c1c78"/><circle cx="3.91" cy="23.96" r="1.21" fill="#12168a"/><circle cx="10.56" cy="5.27" r="0.87" fill="#1b1766"/><circle cx="12.4" cy="1.92" r="1.02" fill="#12146b"/><circle cx="22.61" cy="8.69" r="0.93" fill="#1a1785"/><circle cx="14" cy="9.85" r="0.89" fill="#191a94"/><circle cx="9.34" cy="23.92" r="1.17" fill="#14195f"/><circle cx="13.59" cy="4.79" r="0.87" fill="#121990"/><circle cx="11.3" cy="20.49" r="1.09" fill="#191874"/><circle cx="19.75" cy="21.43" r="1.02" fill="#1c1a87"/><circle cx="3.98" cy="5.21" r="1" fill="#171667"/><circle cx="12.48" cy="16.77" r="1.11" fill="#131c5f"/><circle cx="22.84" cy="20.32" r="1.21" fill="#171c6b"/><circle cx="18.47" cy="21.89" r="1.17" fill="#161b96"/><circle cx="8.33" cy="14.97" r="0.97" fill="#171c84"/><circle cx="6.24" cy="22.21" r="0.99" fill="#131b92"/><circle cx="6.76" cy="10.25" r="1.1" fill="#15156b"/><circle cx="16.33" cy="22.1" r="0.89" fill="#131266"/><circle cx="3.75" cy="9.6" r="0.91" fill="#131a6c"/><circle cx="6.86" cy="9.09" r="1.04" fill="#17128f"/><circle cx="20.87" cy="10.15" r="1" fill="#17138c"/><circle cx="10.56" cy="5.05" r="1.16" fill="#131568"/><circle cx="3.54" cy="2.13" r="1.11" fill="#151c94"/><circle cx="10.48" cy="4.57" r="1.21" fill="#1e1e79"/><circle cx="22.17" cy="3.78" r="0.9" fill="#14128b"/><circle cx="14.96" cy="19.89" r="0.97" fill="#1e1a70"/><circle cx="6.99" cy="9.61" r="1.04" fill="#19156c"/><circle cx="17.88" cy="4.99" r="1.1" fill="#191b61"/><circle cx="1.63" cy="21.62" r="0.87" fill="#121c95"/><circle cx="2.42" cy="8.35" r="0.95" fill="#12138d"/><circle cx="23.35" cy="10.17" r="1.07" fill="#1e1892"/><circle cx="14.85" cy="21.06" r="0.92" fill="#1a1b87"/><circle cx="2.87" cy="22.89" r="1.23" fill="#151985"/><circle cx="14.37" cy="7.98" r="0.91" fill="#151689"/><circle cx="11.46" cy="22.5" r="1.25" fill="#1e1c95"/><circle cx="16.6" cy="11.32" r="1.11" fill="#131e61"/><circle cx="0.74" cy="23.51" r="1.04" fill="#1e195f"/><circle cx="14.23" cy="19.15" r="1.05" fill="#1d1874"/><circle cx="15.6" cy="19.99" r="0.87" fill="#1a1769"/><circle cx="11.37" cy="23.16" r="1.21" fill="#131a7d"/><circle cx="13.09" cy="2.84" r="1.28" fill="#171287"/><circle cx="23.69" cy="3.97" r="1.25" fill="#1d1d71"/><circle cx="1.52" cy="16.94" r="1.21" fill="#18147c"/><circle cx="11.08" cy="14.9" r="0.85" fill="#1c1969"/><circle cx="0.59" cy="23.99" r="1.03" fill="#14165f"/><circle cx="19.52" cy="10.29" r="1.03" fill="#1a1e76"/><circle cx="16.63" cy="5.82" r="0.97" fill="#1e1779"/><circle cx="2.06" cy="18.29" r="0.86" fill="#1a1785"/><circle cx="1.39" cy="5.07" r="0.88" fill="#131a74"/><circle cx="11.05" cy="11.22" r="1.28" fill="#121d8b"/><circle cx="19.29" cy="2.19" r="1.22" fill="#1a1384"/><circle cx="3.29" cy="15.64" r="1.29" fill="#13168c"/><circle cx="13.46" cy="10.43" r="0.93" fill="#1c1c86"/><circle cx="9.39" cy="20.6" r="0.93" fill="#191773"/><circle cx="7.13" cy="5.79" r="1.16" fill="#1a138d"/><circle cx="6.08" cy="15.93" r="1.05" fill="#161e70"/><circle cx="11.77" cy="15.19" r="0.97" fill="#161278"/><circle cx="4.85" cy="17.16" r="0.96" fill="#171687"/><circle cx="10.54" cy="6.25" r="1.29" fill="#151265"/><circle cx="3.54" cy="0.67" r="1.1" fill="#1b146e"/><circle cx="19.35" cy="18.18" r="0.86" fill="#1d1b8d"/><circle cx="5.98" cy="23.66" r="1.22" fill="#181e62"/><circle cx="15.27" cy="10.03" r="0.99" fill="#181690"/><circle cx="21.65" cy="18.59" r="1.01" fill="#181968"/><circle cx="13.1" cy="9.2" r="0.96" fill="#181c7d"/><circle cx="6.73" cy="9.5" r="1.13" fill="#121a92"/><circle cx="9.96" cy="1.19" r="1.18" fill="#1c1e8d"/><circle cx="17.19" cy="16.15" r="0.9" fill="#151993"/><circle cx="12.05" cy="5.62" r="1" fill="#1d1a84"/><circle cx="4.18" cy="0.36" r="1.04" fill="#15126b"/><circle cx="23.42" cy="18.34" r="1.2" fill="#121d70"/><circle cx="13.35" cy="0.65" r="0.99" fill="#1b1b70"/><circle cx="10.44" cy="15.51" r="0.98" fill="#181969"/><circle cx="21.26" cy="1.18" r="1.03" fill="#161373"/><circle cx="17.6" cy="12.14" r="1.19" fill="#191e75"/><circle cx="1.02" cy="15.5" r="1.03" fill="#1a1d73"/><circle cx="22.32" cy="9.76" r="0.98" fill="#1c1e70"/><circle cx="9.26" cy="3.5" r="1.16" fill="#16167c"/><circle cx="20.78" cy="3.92" r="1.28" fill="#1c1994"/><circle cx="2.09" cy="9.54" r="1.24" fill="#1e1378"/><circle cx="16.38" cy="24.09" r="1.09" fill="#151560"/><circle cx="2.6" cy="12.39" r="1.17" fill="#131a6f"/><circle cx="17.95" cy="19.03" r="1.12" fill="#171992"/><circle cx="22.39" cy="6.9" r="1.02" fill="#161882"/><circle cx="22.54" cy="19.55" r="1.13" fill="#1b1568"/></g><g filter="url(#bl4)" style="mix-blend-mode:screen"><circle cx="7.58" cy="6.29" r="1.01" fill="#56070c"/><circle cx="18.87" cy="10.07" r="0.99" fill="#d60804"/><circle cx="22.83" cy="7.04" r="0.71" fill="#4d020c"/><circle cx="19.52" cy="23.81" r="1.03" fill="#590c00"/><circle cx="9.45" cy="15.02" r="0.8" fill="#400101"/><circle cx="2.41" cy="21.07" r="0.63" fill="#5f010c"/><circle cx="10.28" cy="13.83" r="0.87" fill="#330000"/><circle cx="2.49" cy="21.78" r="0.87" fill="#360904"/><circle cx="24.08" cy="9.88" r="1.05" fill="#410106"/><circle cx="23.67" cy="22.31" r="0.79" fill="#430a0b"/><circle cx="23.91" cy="11.78" r="0.96" fill="#450805"/><circle cx="17.03" cy="14.9" r="0.72" fill="#3b0409"/><circle cx="0.9" cy="2.01" r="0.63" fill="#3e0408"/><circle cx="9.67" cy="22.88" r="0.97" fill="#390b06"/><circle cx="17.43" cy="15.94" r="1.08" fill="#5c0c05"/><circle cx="10.44" cy="18.82" r="0.95" fill="#560700"/><circle cx="13.04" cy="20.62" r="1.03" fill="#450907"/><circle cx="20.91" cy="15.85" r="0.61" fill="#34060c"/><circle cx="2" cy="1.21" r="0.75" fill="#360500"/><circle cx="6.15" cy="18.31" r="0.99" fill="#3f0c03"/><circle cx="16.46" cy="14.11" r="0.96" fill="#450900"/><circle cx="1.51" cy="14.36" r="0.64" fill="#5a0808"/><circle cx="14.51" cy="15.33" r="0.83" fill="#570505"/><circle cx="16.88" cy="20.51" r="0.86" fill="#490008"/><circle cx="15.56" cy="10.88" r="0.69" fill="#bf0802"/><circle cx="21.37" cy="23.58" r="0.62" fill="#3c0c0c"/><circle cx="15.87" cy="21.36" r="0.65" fill="#5e0c09"/><circle cx="1.82" cy="9.65" r="0.6" fill="#520802"/><circle cx="5.95" cy="11.46" r="1.08" fill="#43020c"/><circle cx="17.82" cy="16.62" r="0.95" fill="#3c0701"/><circle cx="7.21" cy="3.52" r="1.08" fill="#5d0c04"/><circle cx="7.26" cy="16.82" r="0.81" fill="#5b080c"/><circle cx="1.46" cy="10.51" r="0.74" fill="#3e0909"/><circle cx="6.09" cy="1.29" r="0.8" fill="#520c08"/><circle cx="1.17" cy="18.17" r="0.79" fill="#370100"/><circle cx="16" cy="8.78" r="0.76" fill="#c60b04"/><circle cx="18.26" cy="11.06" r="0.71" fill="#cd0407"/><circle cx="11.81" cy="15.54" r="0.79" fill="#4d0808"/><circle cx="10.1" cy="7.43" r="0.82" fill="#39060b"/><circle cx="10.01" cy="12.77" r="1.06" fill="#460706"/><circle cx="19.86" cy="3.74" r="1.09" fill="#490808"/><circle cx="6.14" cy="22.08" r="0.63" fill="#410908"/><circle cx="10.84" cy="6.69" r="0.65" fill="#37070c"/><circle cx="14.34" cy="12.83" r="0.83" fill="#480603"/><circle cx="7.29" cy="21.53" r="1.05" fill="#57080b"/><circle cx="5.34" cy="3.24" r="0.76" fill="#3f0408"/><circle cx="10" cy="13.08" r="1.04" fill="#330603"/><circle cx="19.6" cy="2.56" r="1.04" fill="#52070b"/><circle cx="2.37" cy="17.38" r="0.79" fill="#54020b"/><circle cx="2.19" cy="24.14" r="0.97" fill="#4d0403"/><circle cx="17.65" cy="17.67" r="0.79" fill="#320c0b"/><circle cx="0.34" cy="22.43" r="0.83" fill="#540504"/><circle cx="1.61" cy="1.06" r="0.8" fill="#3c0c08"/><circle cx="16.4" cy="21.98" r="0.83" fill="#55040a"/><circle cx="8.19" cy="4.72" r="0.95" fill="#4c0206"/><circle cx="8.34" cy="14.38" r="1" fill="#540c00"/><circle cx="8.59" cy="23.53" r="0.87" fill="#5b0b01"/><circle cx="21.72" cy="2.69" r="0.7" fill="#4a010b"/><circle cx="18.5" cy="7.59" r="1.06" fill="#aa0a02"/><circle cx="17.87" cy="20.81" r="1.03" fill="#320302"/><circle cx="21.74" cy="21.35" r="0.63" fill="#5c0404"/><circle cx="18.34" cy="8.02" r="0.73" fill="#d90b07"/><circle cx="17.48" cy="19.99" r="0.89" fill="#4f0c06"/><circle cx="7.05" cy="23.65" r="0.65" fill="#3c0600"/><circle cx="12.2" cy="22.51" r="0.74" fill="#5a0707"/><circle cx="22.42" cy="17.82" r="1.06" fill="#480005"/><circle cx="1.75" cy="18.86" r="0.93" fill="#5d0509"/><circle cx="24.05" cy="7.75" r="0.86" fill="#500501"/><circle cx="12.39" cy="7.44" r="0.78" fill="#a00c0c"/><circle cx="8.11" cy="7.2" r="1.03" fill="#320809"/><circle cx="19.7" cy="6.7" r="0.77" fill="#d10b04"/><circle cx="7.35" cy="1.43" r="1.05" fill="#5f0b0b"/><circle cx="16.96" cy="22.52" r="1" fill="#590b03"/><circle cx="9.08" cy="8.23" r="0.71" fill="#480501"/><circle cx="21.16" cy="2.52" r="0.96" fill="#330408"/><circle cx="22.73" cy="21.57" r="1.03" fill="#470704"/><circle cx="2.08" cy="9.8" r="1.01" fill="#380507"/><circle cx="12.37" cy="4.79" r="0.88" fill="#bd020c"/><circle cx="16.09" cy="13.92" r="1.07" fill="#3a040b"/><circle cx="18.82" cy="20.56" r="1.04" fill="#520700"/><circle cx="18.56" cy="9.29" r="1.04" fill="#d60505"/><circle cx="22.4" cy="12.02" r="0.87" fill="#38010c"/><circle cx="1.3" cy="16.64" r="0.68" fill="#410209"/><circle cx="15.18" cy="24.05" r="0.91" fill="#540608"/><circle cx="19.16" cy="23.94" r="1.05" fill="#3e0808"/><circle cx="13.17" cy="5.04" r="0.69" fill="#d60a05"/><circle cx="11.81" cy="18.82" r="1.04" fill="#590207"/><circle cx="17.23" cy="20.64" r="0.66" fill="#4c0602"/><circle cx="18.73" cy="19.72" r="0.78" fill="#590407"/><circle cx="20.08" cy="14.56" r="1.01" fill="#5d0208"/><circle cx="1.62" cy="3.1" r="1.08" fill="#370c04"/><circle cx="18.12" cy="15.51" r="0.82" fill="#4d0602"/><circle cx="9.84" cy="3.74" r="1.08" fill="#5c0c04"/><circle cx="3.69" cy="20.77" r="0.88" fill="#51070c"/><circle cx="7.14" cy="15.07" r="0.72" fill="#530308"/><circle cx="23.1" cy="5.37" r="0.89" fill="#3f090a"/><circle cx="5.37" cy="4.79" r="0.9" fill="#440002"/><circle cx="22.06" cy="22.87" r="0.87" fill="#330806"/><circle cx="3.23" cy="6.4" r="0.93" fill="#5e0c05"/><circle cx="6.42" cy="20.8" r="0.79" fill="#4e0c08"/><circle cx="16.48" cy="19.08" r="1.1" fill="#5b0602"/><circle cx="3.61" cy="6.16" r="0.89" fill="#4d0605"/><circle cx="15.93" cy="23.59" r="0.85" fill="#5e090b"/><circle cx="14.44" cy="12.3" r="0.85" fill="#cd0305"/><circle cx="18.35" cy="11.07" r="1.02" fill="#c5060a"/><circle cx="15.54" cy="23.9" r="0.94" fill="#390c08"/><circle cx="7.75" cy="2.13" r="0.62" fill="#570607"/><circle cx="16.17" cy="11.47" r="0.86" fill="#df0805"/><circle cx="9.44" cy="5.22" r="0.62" fill="#390a05"/><circle cx="10.49" cy="18.94" r="0.8" fill="#480600"/><circle cx="4.11" cy="3.05" r="0.98" fill="#55040a"/><circle cx="7.53" cy="7.61" r="0.9" fill="#33090c"/><circle cx="17.61" cy="13.11" r="1.08" fill="#430305"/><circle cx="1.3" cy="23.33" r="0.65" fill="#390300"/><circle cx="17.87" cy="9.73" r="0.79" fill="#d50c07"/><circle cx="5.51" cy="8.25" r="0.95" fill="#530306"/><circle cx="23.75" cy="16.38" r="0.62" fill="#3b0706"/><circle cx="18.83" cy="14.36" r="1.08" fill="#470508"/><circle cx="7.83" cy="5.07" r="0.72" fill="#490305"/><circle cx="14.84" cy="18.49" r="0.94" fill="#550107"/><circle cx="16.63" cy="5.64" r="0.81" fill="#a40a0a"/><circle cx="14.11" cy="12.89" r="1.15" fill="#b40a0a"/><circle cx="18.46" cy="11.37" r="0.93" fill="#b90a0a"/><circle cx="21.25" cy="9.14" r="0.78" fill="#ae0a0a"/><circle cx="10.27" cy="8.09" r="0.78" fill="#bf0a0a"/><circle cx="18.83" cy="10.73" r="0.82" fill="#d20a0a"/><circle cx="16.33" cy="10.35" r="0.74" fill="#af0a0a"/><circle cx="13.81" cy="3.92" r="0.97" fill="#9f0a0a"/><circle cx="19.86" cy="10.86" r="1.02" fill="#b10a0a"/><circle cx="15.38" cy="3.8" r="0.74" fill="#d10a0a"/><circle cx="18.23" cy="4.16" r="1.05" fill="#a30a0a"/><circle cx="14.98" cy="12.12" r="1.11" fill="#a50a0a"/><circle cx="13.08" cy="11.15" r="1.07" fill="#c90a0a"/><circle cx="15.65" cy="3.55" r="0.94" fill="#b20a0a"/><circle cx="12.28" cy="6.93" r="0.76" fill="#c70a0a"/><circle cx="21.41" cy="8.68" r="0.72" fill="#9b0a0a"/><circle cx="15.48" cy="4.04" r="0.89" fill="#b60a0a"/><circle cx="21.16" cy="7.88" r="1.01" fill="#9d0a0a"/><circle cx="12.51" cy="4.7" r="0.99" fill="#a80a0a"/><circle cx="15.09" cy="9.71" r="1.08" fill="#c30a0a"/><circle cx="20.12" cy="6.34" r="0.96" fill="#9d0a0a"/><circle cx="16.23" cy="6.5" r="1.07" fill="#990a0a"/><circle cx="14.75" cy="6.02" r="1" fill="#d10a0a"/><circle cx="18.38" cy="10.29" r="0.91" fill="#a70a0a"/><circle cx="15.8" cy="10.53" r="1.08" fill="#aa0a0a"/><circle cx="16.09" cy="8.96" r="1.13" fill="#b30a0a"/></g><ellipse cx="20" cy="24" rx="2.9" ry="1.5" fill="#7c7c7c" filter="url(#bl4)"/></svg>
<rect x="532.8" y="138.9" width="24.4" height="24.4" fill="#000"/><svg x="532.8" y="138.9" width="24.4" height="24.4" overflow="hidden"><g filter="url(#bl4)"><circle cx="9.79" cy="19.33" r="1.02" fill="#110d5e"/><circle cx="6.37" cy="23.41" r="0.91" fill="#0c0b53"/><circle cx="23.93" cy="17.21" r="1.08" fill="#0e0a5f"/><circle cx="16.15" cy="18.01" r="0.93" fill="#120f55"/><circle cx="5.53" cy="17.86" r="1.01" fill="#0a0a3b"/><circle cx="19.91" cy="7.05" r="1.23" fill="#0c0a5e"/><circle cx="7.83" cy="2.02" r="0.87" fill="#0b0a53"/><circle cx="17.48" cy="18.18" r="1.24" fill="#0b0a3d"/><circle cx="7.06" cy="10.55" r="0.84" fill="#0e0d48"/><circle cx="12.85" cy="10.28" r="1.09" fill="#0c104f"/><circle cx="22.17" cy="1.93" r="1.15" fill="#0b0d39"/><circle cx="7.37" cy="19.06" r="1.22" fill="#0e0a5d"/><circle cx="10.05" cy="8.23" r="1.12" fill="#0c0f49"/><circle cx="4.13" cy="8.82" r="0.94" fill="#0c113f"/><circle cx="15.49" cy="23.81" r="0.97" fill="#120b5d"/><circle cx="1.7" cy="19.48" r="0.81" fill="#101246"/><circle cx="13.38" cy="21.93" r="1.03" fill="#0f1045"/><circle cx="8.43" cy="15.47" r="1.02" fill="#0f1250"/><circle cx="18.58" cy="2.56" r="1.01" fill="#0a0b59"/><circle cx="18.9" cy="6.93" r="0.85" fill="#0a0d49"/><circle cx="3.3" cy="23.49" r="1.2" fill="#100f38"/><circle cx="8.8" cy="4.76" r="0.89" fill="#0f0c4c"/><circle cx="13.98" cy="18.27" r="1.12" fill="#0e0a47"/><circle cx="20.86" cy="7.77" r="1.1" fill="#0c0a44"/><circle cx="11.71" cy="11.66" r="1.03" fill="#120c4a"/><circle cx="11.67" cy="4.78" r="1.12" fill="#0d0e5e"/><circle cx="13.8" cy="23.83" r="1.21" fill="#0a0f59"/><circle cx="15.87" cy="12.26" r="0.81" fill="#12115e"/><circle cx="17" cy="0.88" r="1.16" fill="#0e0f47"/><circle cx="13.91" cy="14.66" r="0.88" fill="#0c0f4b"/><circle cx="19.58" cy="20.23" r="1.05" fill="#110a5d"/><circle cx="11.86" cy="24.08" r="1.24" fill="#0a0c59"/><circle cx="10.39" cy="4.38" r="0.89" fill="#0f125a"/><circle cx="12.5" cy="4.52" r="0.85" fill="#10114b"/><circle cx="23.21" cy="7.51" r="0.85" fill="#120f4b"/><circle cx="21.25" cy="16.88" r="0.96" fill="#0e0b48"/><circle cx="18.41" cy="1.23" r="1.11" fill="#110e47"/><circle cx="5.15" cy="9.28" r="0.83" fill="#0b104b"/><circle cx="9.89" cy="13.03" r="0.88" fill="#0a0a41"/><circle cx="13.49" cy="12.39" r="1.13" fill="#0e0c42"/><circle cx="4.61" cy="15" r="1.17" fill="#10105e"/><circle cx="17.7" cy="19.06" r="1.04" fill="#110d54"/><circle cx="7.56" cy="12.19" r="1.07" fill="#0c0e47"/><circle cx="17.43" cy="14.22" r="0.84" fill="#110d40"/><circle cx="16.77" cy="10.69" r="0.95" fill="#0d0e3a"/><circle cx="15.74" cy="8.31" r="0.82" fill="#0b0a46"/><circle cx="9.17" cy="14.81" r="1.09" fill="#0c0c37"/><circle cx="13.55" cy="11.33" r="1.08" fill="#100e41"/><circle cx="22.24" cy="15.23" r="1.21" fill="#0d0d38"/><circle cx="21.36" cy="11.48" r="0.81" fill="#0c0a44"/><circle cx="17.01" cy="3.4" r="0.83" fill="#0d1043"/><circle cx="17.92" cy="16.38" r="0.93" fill="#0f0b42"/><circle cx="4.28" cy="20.99" r="1.02" fill="#0e1049"/><circle cx="14.93" cy="22.83" r="1.05" fill="#0c0c57"/><circle cx="2.07" cy="20.19" r="0.9" fill="#110c47"/><circle cx="19.57" cy="14.36" r="1.05" fill="#0e0a46"/><circle cx="20.7" cy="0.9" r="1.1" fill="#100f40"/><circle cx="24.09" cy="13.73" r="1.24" fill="#0f0e4a"/><circle cx="12.22" cy="7.1" r="1.2" fill="#111054"/><circle cx="5.77" cy="10.88" r="1.22" fill="#11114c"/><circle cx="21.08" cy="19.93" r="1.17" fill="#0b0e5a"/><circle cx="12.16" cy="5.49" r="0.89" fill="#101148"/><circle cx="10.48" cy="21.03" r="1.03" fill="#120c3b"/><circle cx="23.42" cy="0.32" r="0.85" fill="#0e1244"/><circle cx="12.97" cy="17.71" r="1.15" fill="#0b0d47"/><circle cx="21.92" cy="0.37" r="1.19" fill="#101259"/><circle cx="19.13" cy="6.1" r="1" fill="#0f0d47"/><circle cx="7.82" cy="9.02" r="1.05" fill="#120a42"/><circle cx="5.06" cy="8.6" r="1.13" fill="#0d0c37"/><circle cx="19.29" cy="3.74" r="1.23" fill="#111153"/><circle cx="6.05" cy="11.14" r="0.9" fill="#110d3c"/><circle cx="17.8" cy="4.06" r="0.96" fill="#11123e"/><circle cx="21.25" cy="19.53" r="1.23" fill="#0c113f"/><circle cx="23.28" cy="11.82" r="1.19" fill="#0b0f45"/><circle cx="10.36" cy="7.45" r="1.07" fill="#0c1137"/><circle cx="14.91" cy="21.79" r="1.2" fill="#0d1246"/><circle cx="20.06" cy="19.33" r="1.02" fill="#0a103d"/><circle cx="15.12" cy="24.01" r="0.82" fill="#100b43"/><circle cx="15.54" cy="9.64" r="1.17" fill="#0d1245"/><circle cx="0.43" cy="17.16" r="1.09" fill="#0c104a"/></g><ellipse cx="20" cy="24" rx="2.9" ry="1.5" fill="#7c7c7c" filter="url(#bl4)"/></svg>
<rect x="558.3" y="138.9" width="24.4" height="24.4" fill="#000"/><svg x="558.3" y="138.9" width="24.4" height="24.4" overflow="hidden"><g filter="url(#bl4)"><circle cx="12.15" cy="10.51" r="0.93" fill="#510404"/><circle cx="19.08" cy="9.68" r="0.98" fill="#380404"/><circle cx="7.71" cy="22.33" r="0.78" fill="#340404"/><circle cx="22.58" cy="16.31" r="0.63" fill="#3d0404"/><circle cx="16.34" cy="12.83" r="0.6" fill="#4c0404"/><circle cx="23.21" cy="21.92" r="0.72" fill="#330404"/><circle cx="4.19" cy="12.74" r="0.69" fill="#4e0404"/><circle cx="9.91" cy="22.48" r="0.74" fill="#3e0404"/><circle cx="0.92" cy="9.8" r="0.66" fill="#440404"/><circle cx="18.98" cy="14.97" r="0.9" fill="#3c0404"/><circle cx="8.32" cy="21.37" r="0.72" fill="#4e0404"/><circle cx="21.21" cy="11.76" r="0.92" fill="#530404"/><circle cx="9.26" cy="16.93" r="0.9" fill="#300404"/><circle cx="14.39" cy="3.02" r="0.87" fill="#480404"/><circle cx="23.4" cy="4.69" r="0.83" fill="#510404"/><circle cx="7.73" cy="1.67" r="0.83" fill="#530404"/><circle cx="13.89" cy="19.58" r="0.71" fill="#390404"/><circle cx="14.9" cy="22.27" r="0.67" fill="#300404"/><circle cx="1.84" cy="17.41" r="0.92" fill="#490404"/><circle cx="15.74" cy="16" r="0.87" fill="#2d0404"/><circle cx="12.43" cy="1.21" r="0.61" fill="#3f0404"/><circle cx="12.76" cy="19.65" r="0.79" fill="#2e0404"/><circle cx="8.04" cy="12.89" r="0.73" fill="#4a0404"/><circle cx="23.71" cy="1.7" r="0.93" fill="#3c0404"/><circle cx="18.24" cy="1.1" r="0.97" fill="#450404"/><circle cx="2.21" cy="1.53" r="0.98" fill="#4b0404"/><circle cx="20.4" cy="22.96" r="0.63" fill="#380404"/><circle cx="19.56" cy="6.61" r="0.99" fill="#2d0404"/><circle cx="6.03" cy="16.95" r="0.66" fill="#470404"/><circle cx="7.07" cy="19.47" r="0.67" fill="#450404"/><circle cx="10.65" cy="9.08" r="0.91" fill="#4e0404"/><circle cx="4.96" cy="21.18" r="0.87" fill="#2d0404"/><circle cx="2.65" cy="10.99" r="0.65" fill="#4b0404"/><circle cx="2.72" cy="19.28" r="0.7" fill="#440404"/><circle cx="19.86" cy="5.26" r="0.77" fill="#2e0404"/><circle cx="9.77" cy="6.7" r="0.77" fill="#330404"/><circle cx="23.08" cy="5.39" r="0.97" fill="#370404"/><circle cx="4.2" cy="12.3" r="0.93" fill="#2d0404"/><circle cx="10.34" cy="23.78" r="0.99" fill="#310404"/><circle cx="7.29" cy="5" r="0.89" fill="#440404"/><circle cx="18.69" cy="14.52" r="1.06" fill="#8e0a0e"/><circle cx="10.02" cy="7.14" r="1.24" fill="#8f0d06"/><circle cx="17.73" cy="9.83" r="1.2" fill="#b6080c"/><circle cx="21.53" cy="1.63" r="1.21" fill="#ab060c"/><circle cx="16.15" cy="4.52" r="1.23" fill="#ab0c0e"/><circle cx="10.11" cy="12.82" r="1.09" fill="#900d0a"/><circle cx="17.2" cy="21.72" r="1.25" fill="#a60706"/><circle cx="18.65" cy="5.75" r="0.95" fill="#8d0d06"/><circle cx="5.11" cy="17.72" r="0.98" fill="#950c06"/><circle cx="6.33" cy="8.33" r="1.06" fill="#af080a"/><circle cx="7.03" cy="21.93" r="0.92" fill="#b50e0e"/><circle cx="13.58" cy="4.43" r="0.99" fill="#9f080b"/><circle cx="6.23" cy="16.56" r="1.12" fill="#9e0a09"/><circle cx="15.75" cy="12.64" r="1.04" fill="#9b0808"/><circle cx="14.18" cy="7.98" r="1.1" fill="#9e080c"/><circle cx="13.46" cy="4.82" r="1.17" fill="#a5090d"/><circle cx="6.78" cy="3.5" r="1.14" fill="#910808"/></g><ellipse cx="20" cy="24" rx="2.9" ry="1.5" fill="#7c7c7c" filter="url(#bl4)"/></svg>
<rect x="584" y="138.9" width="24.4" height="24.4" fill="#000"/><svg x="584" y="138.9" width="24.4" height="24.4" overflow="hidden"><g filter="url(#bl4)"><circle cx="9.79" cy="19.33" r="1.02" fill="#110d5e"/><circle cx="6.37" cy="23.41" r="0.91" fill="#0c0b53"/><circle cx="23.93" cy="17.21" r="1.08" fill="#0e0a5f"/><circle cx="16.15" cy="18.01" r="0.93" fill="#120f55"/><circle cx="5.53" cy="17.86" r="1.01" fill="#0a0a3b"/><circle cx="19.91" cy="7.05" r="1.23" fill="#0c0a5e"/><circle cx="7.83" cy="2.02" r="0.87" fill="#0b0a53"/><circle cx="17.48" cy="18.18" r="1.24" fill="#0b0a3d"/><circle cx="7.06" cy="10.55" r="0.84" fill="#0e0d48"/><circle cx="12.85" cy="10.28" r="1.09" fill="#0c104f"/><circle cx="22.17" cy="1.93" r="1.15" fill="#0b0d39"/><circle cx="7.37" cy="19.06" r="1.22" fill="#0e0a5d"/><circle cx="10.05" cy="8.23" r="1.12" fill="#0c0f49"/><circle cx="4.13" cy="8.82" r="0.94" fill="#0c113f"/><circle cx="15.49" cy="23.81" r="0.97" fill="#120b5d"/><circle cx="1.7" cy="19.48" r="0.81" fill="#101246"/><circle cx="13.38" cy="21.93" r="1.03" fill="#0f1045"/><circle cx="8.43" cy="15.47" r="1.02" fill="#0f1250"/><circle cx="18.58" cy="2.56" r="1.01" fill="#0a0b59"/><circle cx="18.9" cy="6.93" r="0.85" fill="#0a0d49"/><circle cx="3.3" cy="23.49" r="1.2" fill="#100f38"/><circle cx="8.8" cy="4.76" r="0.89" fill="#0f0c4c"/><circle cx="13.98" cy="18.27" r="1.12" fill="#0e0a47"/><circle cx="20.86" cy="7.77" r="1.1" fill="#0c0a44"/><circle cx="11.71" cy="11.66" r="1.03" fill="#120c4a"/><circle cx="11.67" cy="4.78" r="1.12" fill="#0d0e5e"/><circle cx="13.8" cy="23.83" r="1.21" fill="#0a0f59"/><circle cx="15.87" cy="12.26" r="0.81" fill="#12115e"/><circle cx="17" cy="0.88" r="1.16" fill="#0e0f47"/><circle cx="13.91" cy="14.66" r="0.88" fill="#0c0f4b"/><circle cx="19.58" cy="20.23" r="1.05" fill="#110a5d"/><circle cx="11.86" cy="24.08" r="1.24" fill="#0a0c59"/><circle cx="10.39" cy="4.38" r="0.89" fill="#0f125a"/><circle cx="12.5" cy="4.52" r="0.85" fill="#10114b"/><circle cx="23.21" cy="7.51" r="0.85" fill="#120f4b"/><circle cx="21.25" cy="16.88" r="0.96" fill="#0e0b48"/><circle cx="18.41" cy="1.23" r="1.11" fill="#110e47"/><circle cx="5.15" cy="9.28" r="0.83" fill="#0b104b"/><circle cx="9.89" cy="13.03" r="0.88" fill="#0a0a41"/><circle cx="13.49" cy="12.39" r="1.13" fill="#0e0c42"/><circle cx="4.61" cy="15" r="1.17" fill="#10105e"/><circle cx="17.7" cy="19.06" r="1.04" fill="#110d54"/><circle cx="7.56" cy="12.19" r="1.07" fill="#0c0e47"/><circle cx="17.43" cy="14.22" r="0.84" fill="#110d40"/><circle cx="16.77" cy="10.69" r="0.95" fill="#0d0e3a"/><circle cx="15.74" cy="8.31" r="0.82" fill="#0b0a46"/><circle cx="9.17" cy="14.81" r="1.09" fill="#0c0c37"/><circle cx="13.55" cy="11.33" r="1.08" fill="#100e41"/><circle cx="22.24" cy="15.23" r="1.21" fill="#0d0d38"/><circle cx="21.36" cy="11.48" r="0.81" fill="#0c0a44"/><circle cx="17.01" cy="3.4" r="0.83" fill="#0d1043"/><circle cx="17.92" cy="16.38" r="0.93" fill="#0f0b42"/><circle cx="4.28" cy="20.99" r="1.02" fill="#0e1049"/><circle cx="14.93" cy="22.83" r="1.05" fill="#0c0c57"/><circle cx="2.07" cy="20.19" r="0.9" fill="#110c47"/><circle cx="19.57" cy="14.36" r="1.05" fill="#0e0a46"/><circle cx="20.7" cy="0.9" r="1.1" fill="#100f40"/><circle cx="24.09" cy="13.73" r="1.24" fill="#0f0e4a"/><circle cx="12.22" cy="7.1" r="1.2" fill="#111054"/><circle cx="5.77" cy="10.88" r="1.22" fill="#11114c"/><circle cx="21.08" cy="19.93" r="1.17" fill="#0b0e5a"/><circle cx="12.16" cy="5.49" r="0.89" fill="#101148"/><circle cx="10.48" cy="21.03" r="1.03" fill="#120c3b"/><circle cx="23.42" cy="0.32" r="0.85" fill="#0e1244"/><circle cx="12.97" cy="17.71" r="1.15" fill="#0b0d47"/><circle cx="21.92" cy="0.37" r="1.19" fill="#101259"/><circle cx="19.13" cy="6.1" r="1" fill="#0f0d47"/><circle cx="7.82" cy="9.02" r="1.05" fill="#120a42"/><circle cx="5.06" cy="8.6" r="1.13" fill="#0d0c37"/><circle cx="19.29" cy="3.74" r="1.23" fill="#111153"/><circle cx="6.05" cy="11.14" r="0.9" fill="#110d3c"/><circle cx="17.8" cy="4.06" r="0.96" fill="#11123e"/><circle cx="21.25" cy="19.53" r="1.23" fill="#0c113f"/><circle cx="23.28" cy="11.82" r="1.19" fill="#0b0f45"/><circle cx="10.36" cy="7.45" r="1.07" fill="#0c1137"/><circle cx="14.91" cy="21.79" r="1.2" fill="#0d1246"/><circle cx="20.06" cy="19.33" r="1.02" fill="#0a103d"/><circle cx="15.12" cy="24.01" r="0.82" fill="#100b43"/><circle cx="15.54" cy="9.64" r="1.17" fill="#0d1245"/><circle cx="0.43" cy="17.16" r="1.09" fill="#0c104a"/></g><g filter="url(#bl4)" style="mix-blend-mode:screen"><circle cx="12.15" cy="10.51" r="0.93" fill="#510404"/><circle cx="19.08" cy="9.68" r="0.98" fill="#380404"/><circle cx="7.71" cy="22.33" r="0.78" fill="#340404"/><circle cx="22.58" cy="16.31" r="0.63" fill="#3d0404"/><circle cx="16.34" cy="12.83" r="0.6" fill="#4c0404"/><circle cx="23.21" cy="21.92" r="0.72" fill="#330404"/><circle cx="4.19" cy="12.74" r="0.69" fill="#4e0404"/><circle cx="9.91" cy="22.48" r="0.74" fill="#3e0404"/><circle cx="0.92" cy="9.8" r="0.66" fill="#440404"/><circle cx="18.98" cy="14.97" r="0.9" fill="#3c0404"/><circle cx="8.32" cy="21.37" r="0.72" fill="#4e0404"/><circle cx="21.21" cy="11.76" r="0.92" fill="#530404"/><circle cx="9.26" cy="16.93" r="0.9" fill="#300404"/><circle cx="14.39" cy="3.02" r="0.87" fill="#480404"/><circle cx="23.4" cy="4.69" r="0.83" fill="#510404"/><circle cx="7.73" cy="1.67" r="0.83" fill="#530404"/><circle cx="13.89" cy="19.58" r="0.71" fill="#390404"/><circle cx="14.9" cy="22.27" r="0.67" fill="#300404"/><circle cx="1.84" cy="17.41" r="0.92" fill="#490404"/><circle cx="15.74" cy="16" r="0.87" fill="#2d0404"/><circle cx="12.43" cy="1.21" r="0.61" fill="#3f0404"/><circle cx="12.76" cy="19.65" r="0.79" fill="#2e0404"/><circle cx="8.04" cy="12.89" r="0.73" fill="#4a0404"/><circle cx="23.71" cy="1.7" r="0.93" fill="#3c0404"/><circle cx="18.24" cy="1.1" r="0.97" fill="#450404"/><circle cx="2.21" cy="1.53" r="0.98" fill="#4b0404"/><circle cx="20.4" cy="22.96" r="0.63" fill="#380404"/><circle cx="19.56" cy="6.61" r="0.99" fill="#2d0404"/><circle cx="6.03" cy="16.95" r="0.66" fill="#470404"/><circle cx="7.07" cy="19.47" r="0.67" fill="#450404"/><circle cx="10.65" cy="9.08" r="0.91" fill="#4e0404"/><circle cx="4.96" cy="21.18" r="0.87" fill="#2d0404"/><circle cx="2.65" cy="10.99" r="0.65" fill="#4b0404"/><circle cx="2.72" cy="19.28" r="0.7" fill="#440404"/><circle cx="19.86" cy="5.26" r="0.77" fill="#2e0404"/><circle cx="9.77" cy="6.7" r="0.77" fill="#330404"/><circle cx="23.08" cy="5.39" r="0.97" fill="#370404"/><circle cx="4.2" cy="12.3" r="0.93" fill="#2d0404"/><circle cx="10.34" cy="23.78" r="0.99" fill="#310404"/><circle cx="7.29" cy="5" r="0.89" fill="#440404"/><circle cx="18.69" cy="14.52" r="1.06" fill="#8e0a0e"/><circle cx="10.02" cy="7.14" r="1.24" fill="#8f0d06"/><circle cx="17.73" cy="9.83" r="1.2" fill="#b6080c"/><circle cx="21.53" cy="1.63" r="1.21" fill="#ab060c"/><circle cx="16.15" cy="4.52" r="1.23" fill="#ab0c0e"/><circle cx="10.11" cy="12.82" r="1.09" fill="#900d0a"/><circle cx="17.2" cy="21.72" r="1.25" fill="#a60706"/><circle cx="18.65" cy="5.75" r="0.95" fill="#8d0d06"/><circle cx="5.11" cy="17.72" r="0.98" fill="#950c06"/><circle cx="6.33" cy="8.33" r="1.06" fill="#af080a"/><circle cx="7.03" cy="21.93" r="0.92" fill="#b50e0e"/><circle cx="13.58" cy="4.43" r="0.99" fill="#9f080b"/><circle cx="6.23" cy="16.56" r="1.12" fill="#9e0a09"/><circle cx="15.75" cy="12.64" r="1.04" fill="#9b0808"/><circle cx="14.18" cy="7.98" r="1.1" fill="#9e080c"/><circle cx="13.46" cy="4.82" r="1.17" fill="#a5090d"/><circle cx="6.78" cy="3.5" r="1.14" fill="#910808"/></g><ellipse cx="20" cy="24" rx="2.9" ry="1.5" fill="#7c7c7c" filter="url(#bl4)"/></svg>
<rect x="532.8" y="164.8" width="24.4" height="24.4" fill="#000"/><svg x="532.8" y="164.8" width="24.4" height="24.4" overflow="hidden"><g filter="url(#bl4)"><circle cx="23.27" cy="13.13" r="1.05" fill="#110d39"/><circle cx="9.3" cy="5.01" r="1.24" fill="#100f3e"/><circle cx="16.01" cy="13.31" r="1.09" fill="#0c123a"/><circle cx="16.46" cy="13.49" r="1.19" fill="#101149"/><circle cx="13.04" cy="22.94" r="1" fill="#0e0c3c"/><circle cx="1.77" cy="7.46" r="0.99" fill="#0d0e59"/><circle cx="22.75" cy="10.61" r="1.19" fill="#0c0a46"/><circle cx="0.72" cy="20.65" r="0.98" fill="#0b1255"/><circle cx="4.19" cy="1.72" r="0.9" fill="#0c0d47"/><circle cx="3.23" cy="20.6" r="1.05" fill="#111241"/><circle cx="6.31" cy="23.41" r="0.83" fill="#110a4e"/><circle cx="23.34" cy="10.07" r="0.87" fill="#0e1055"/><circle cx="1.84" cy="3.9" r="0.97" fill="#110c54"/><circle cx="16.17" cy="5.31" r="1.15" fill="#0f1246"/><circle cx="21.03" cy="23.1" r="0.86" fill="#0a1046"/><circle cx="14.66" cy="13.16" r="1.15" fill="#110d48"/><circle cx="9.23" cy="11.44" r="0.85" fill="#100b3d"/><circle cx="19.28" cy="1.64" r="0.99" fill="#120e5a"/><circle cx="3.25" cy="22.04" r="0.9" fill="#101254"/><circle cx="13.66" cy="5.02" r="1.16" fill="#0c0f54"/><circle cx="22.03" cy="12.03" r="0.88" fill="#110e4b"/><circle cx="17.76" cy="1.45" r="1.11" fill="#0b0a50"/><circle cx="17.17" cy="7.46" r="1.24" fill="#0a0c5c"/><circle cx="7.18" cy="9.89" r="0.88" fill="#100b42"/><circle cx="17.77" cy="17.76" r="1.02" fill="#0f1041"/><circle cx="18.98" cy="11.71" r="0.92" fill="#0d0d5a"/><circle cx="21.45" cy="18.87" r="0.96" fill="#0e0f3e"/><circle cx="8.31" cy="9.42" r="0.98" fill="#0e113b"/><circle cx="20.14" cy="17.78" r="0.93" fill="#120d3d"/><circle cx="16.56" cy="6.34" r="1.11" fill="#0a0f3e"/><circle cx="22.54" cy="9.99" r="0.89" fill="#100d51"/><circle cx="19.06" cy="1.78" r="1.11" fill="#0c0b57"/><circle cx="16.05" cy="14.43" r="0.84" fill="#0e0b4a"/><circle cx="18.98" cy="8.26" r="1.2" fill="#12115b"/><circle cx="7.25" cy="7.94" r="0.86" fill="#0c0e3c"/><circle cx="2" cy="22.52" r="0.89" fill="#0e114d"/><circle cx="20.57" cy="14.7" r="1" fill="#120e39"/><circle cx="7.71" cy="16.54" r="1.08" fill="#0d0d42"/><circle cx="22.25" cy="7.96" r="0.91" fill="#0c123b"/><circle cx="6.41" cy="16.8" r="0.93" fill="#110d4f"/><circle cx="23.28" cy="18.91" r="1.03" fill="#0a0e53"/><circle cx="8.32" cy="10.32" r="1.14" fill="#121253"/><circle cx="7.31" cy="18.1" r="1.21" fill="#0b0f4e"/><circle cx="15.89" cy="4.64" r="1.2" fill="#0c0d5c"/><circle cx="14.72" cy="10.73" r="1.2" fill="#120d3e"/><circle cx="13.17" cy="0.53" r="0.96" fill="#0c0d55"/><circle cx="8.01" cy="5.66" r="0.92" fill="#0a114c"/><circle cx="9.14" cy="8.24" r="1.12" fill="#110e37"/><circle cx="5.45" cy="6.74" r="1.07" fill="#121154"/><circle cx="18.26" cy="16.35" r="0.88" fill="#0c0f5a"/><circle cx="5.76" cy="7.66" r="1.24" fill="#0e0e57"/><circle cx="17.92" cy="1.86" r="0.94" fill="#0f1153"/><circle cx="4.93" cy="1.39" r="0.87" fill="#0f105e"/><circle cx="11.17" cy="9.07" r="1.04" fill="#0f0c4b"/><circle cx="9.74" cy="3.32" r="1.08" fill="#0b0e59"/><circle cx="12.84" cy="14.36" r="1.16" fill="#0e1037"/><circle cx="8.43" cy="19.91" r="0.99" fill="#0b0a56"/><circle cx="6.09" cy="14.77" r="0.95" fill="#120f3f"/><circle cx="13.3" cy="1.16" r="1.17" fill="#0a0b4a"/><circle cx="10.7" cy="6.61" r="0.84" fill="#110b4f"/><circle cx="10.01" cy="16.74" r="0.82" fill="#0e114a"/><circle cx="6.59" cy="10.93" r="0.89" fill="#0a0b5a"/><circle cx="0.52" cy="11.01" r="0.98" fill="#100a4d"/><circle cx="10.08" cy="1.55" r="0.95" fill="#120b3d"/><circle cx="12.5" cy="20.94" r="0.82" fill="#0a0b56"/><circle cx="22.08" cy="8.92" r="0.91" fill="#0b1257"/><circle cx="9.78" cy="11.01" r="1.03" fill="#0f124d"/><circle cx="22.36" cy="22.67" r="1.04" fill="#100c5a"/><circle cx="17.35" cy="3.67" r="1.12" fill="#0a1040"/><circle cx="8.25" cy="20.63" r="0.96" fill="#0a0b3f"/><circle cx="23.46" cy="23.49" r="0.81" fill="#110c44"/><circle cx="5.69" cy="14.6" r="1.21" fill="#120b5e"/><circle cx="24.05" cy="21.25" r="1.12" fill="#12103d"/><circle cx="20.79" cy="22.9" r="1.01" fill="#0c0a47"/><circle cx="5.02" cy="6.55" r="0.95" fill="#110d47"/><circle cx="4.47" cy="17.81" r="1.18" fill="#0f0c37"/><circle cx="16.88" cy="20.56" r="0.94" fill="#0a0c43"/><circle cx="10.74" cy="13.78" r="1" fill="#0e0e48"/><circle cx="10.62" cy="14.14" r="1.08" fill="#0a1149"/><circle cx="7.87" cy="11.45" r="1.07" fill="#110a39"/></g><ellipse cx="20" cy="24" rx="2.9" ry="1.5" fill="#7c7c7c" filter="url(#bl4)"/></svg>
<rect x="558.3" y="164.8" width="24.4" height="24.4" fill="#000"/><svg x="558.3" y="164.8" width="24.4" height="24.4" overflow="hidden"><g filter="url(#bl4)"><circle cx="19.73" cy="2.78" r="0.86" fill="#460404"/><circle cx="7.58" cy="11.16" r="0.83" fill="#550404"/><circle cx="16.46" cy="20.15" r="0.67" fill="#4b0404"/><circle cx="15.07" cy="11.68" r="0.88" fill="#3d0404"/><circle cx="11.87" cy="19.78" r="0.91" fill="#4b0404"/><circle cx="0.51" cy="15.22" r="0.78" fill="#440404"/><circle cx="12.91" cy="14.21" r="0.84" fill="#2e0404"/><circle cx="13.72" cy="7.1" r="0.87" fill="#440404"/><circle cx="13.57" cy="7.5" r="0.85" fill="#3a0404"/><circle cx="18.71" cy="10.4" r="0.83" fill="#3a0404"/><circle cx="19.7" cy="5.93" r="0.78" fill="#3a0404"/><circle cx="9.15" cy="5.96" r="0.85" fill="#520404"/><circle cx="9.52" cy="8.15" r="0.93" fill="#4a0404"/><circle cx="4.87" cy="2.79" r="0.63" fill="#460404"/><circle cx="12.89" cy="12.4" r="0.89" fill="#440404"/><circle cx="14.59" cy="3.78" r="0.62" fill="#350404"/><circle cx="19.11" cy="17.13" r="0.77" fill="#2e0404"/><circle cx="14.25" cy="11.11" r="0.88" fill="#530404"/><circle cx="16.22" cy="22.48" r="0.66" fill="#480404"/><circle cx="0.63" cy="22.36" r="0.77" fill="#380404"/><circle cx="8.86" cy="16.42" r="1" fill="#4d0404"/><circle cx="5.01" cy="1.21" r="0.76" fill="#450404"/><circle cx="7.16" cy="12.69" r="0.89" fill="#400404"/><circle cx="10.93" cy="6.62" r="0.92" fill="#350404"/><circle cx="20.21" cy="13.18" r="0.95" fill="#300404"/><circle cx="2.31" cy="1.06" r="0.71" fill="#3d0404"/><circle cx="13.46" cy="11.13" r="0.91" fill="#550404"/><circle cx="3.73" cy="8.37" r="0.93" fill="#4d0404"/><circle cx="11.18" cy="2.98" r="0.99" fill="#3b0404"/><circle cx="19.09" cy="1.25" r="0.73" fill="#460404"/><circle cx="4.83" cy="18.79" r="0.98" fill="#470404"/><circle cx="0.65" cy="19.32" r="0.74" fill="#3d0404"/><circle cx="16.75" cy="9.78" r="1" fill="#450404"/><circle cx="5.82" cy="14.79" r="0.74" fill="#360404"/><circle cx="17.86" cy="23.66" r="0.62" fill="#4d0404"/><circle cx="13.61" cy="15.52" r="0.73" fill="#420404"/><circle cx="17.48" cy="18.04" r="0.72" fill="#550404"/><circle cx="6.2" cy="12.55" r="0.92" fill="#3c0404"/><circle cx="8.02" cy="18.45" r="0.82" fill="#4a0404"/><circle cx="8.63" cy="16.74" r="0.69" fill="#340404"/><circle cx="3.53" cy="7.85" r="1.07" fill="#b40e0b"/><circle cx="13.65" cy="3.19" r="1.04" fill="#900d0a"/><circle cx="6.2" cy="16.29" r="0.95" fill="#9f0d0a"/><circle cx="15.89" cy="14.6" r="1.12" fill="#b8060b"/><circle cx="14.53" cy="12.02" r="1.11" fill="#9f0a0d"/><circle cx="8.36" cy="4.76" r="1.06" fill="#b1060e"/><circle cx="13.9" cy="17.4" r="1.23" fill="#b70b07"/><circle cx="10.57" cy="14.89" r="1.1" fill="#a10b0c"/><circle cx="18.04" cy="9.12" r="1.21" fill="#900e07"/><circle cx="16.37" cy="22.14" r="1.1" fill="#9c070a"/><circle cx="8.2" cy="5.32" r="1.19" fill="#ae0c0e"/><circle cx="20.78" cy="15.58" r="0.96" fill="#9f070e"/><circle cx="15.64" cy="21.4" r="1.15" fill="#a90a0c"/><circle cx="18.22" cy="19.54" r="0.93" fill="#9a0d08"/><circle cx="15.03" cy="15.48" r="0.93" fill="#b60609"/><circle cx="4.47" cy="19.34" r="1.13" fill="#ac090c"/><circle cx="16.41" cy="18.01" r="0.99" fill="#a20708"/></g><ellipse cx="20" cy="24" rx="2.9" ry="1.5" fill="#7c7c7c" filter="url(#bl4)"/></svg>
<rect x="584" y="164.8" width="24.4" height="24.4" fill="#000"/><svg x="584" y="164.8" width="24.4" height="24.4" overflow="hidden"><g filter="url(#bl4)"><circle cx="23.27" cy="13.13" r="1.05" fill="#110d39"/><circle cx="9.3" cy="5.01" r="1.24" fill="#100f3e"/><circle cx="16.01" cy="13.31" r="1.09" fill="#0c123a"/><circle cx="16.46" cy="13.49" r="1.19" fill="#101149"/><circle cx="13.04" cy="22.94" r="1" fill="#0e0c3c"/><circle cx="1.77" cy="7.46" r="0.99" fill="#0d0e59"/><circle cx="22.75" cy="10.61" r="1.19" fill="#0c0a46"/><circle cx="0.72" cy="20.65" r="0.98" fill="#0b1255"/><circle cx="4.19" cy="1.72" r="0.9" fill="#0c0d47"/><circle cx="3.23" cy="20.6" r="1.05" fill="#111241"/><circle cx="6.31" cy="23.41" r="0.83" fill="#110a4e"/><circle cx="23.34" cy="10.07" r="0.87" fill="#0e1055"/><circle cx="1.84" cy="3.9" r="0.97" fill="#110c54"/><circle cx="16.17" cy="5.31" r="1.15" fill="#0f1246"/><circle cx="21.03" cy="23.1" r="0.86" fill="#0a1046"/><circle cx="14.66" cy="13.16" r="1.15" fill="#110d48"/><circle cx="9.23" cy="11.44" r="0.85" fill="#100b3d"/><circle cx="19.28" cy="1.64" r="0.99" fill="#120e5a"/><circle cx="3.25" cy="22.04" r="0.9" fill="#101254"/><circle cx="13.66" cy="5.02" r="1.16" fill="#0c0f54"/><circle cx="22.03" cy="12.03" r="0.88" fill="#110e4b"/><circle cx="17.76" cy="1.45" r="1.11" fill="#0b0a50"/><circle cx="17.17" cy="7.46" r="1.24" fill="#0a0c5c"/><circle cx="7.18" cy="9.89" r="0.88" fill="#100b42"/><circle cx="17.77" cy="17.76" r="1.02" fill="#0f1041"/><circle cx="18.98" cy="11.71" r="0.92" fill="#0d0d5a"/><circle cx="21.45" cy="18.87" r="0.96" fill="#0e0f3e"/><circle cx="8.31" cy="9.42" r="0.98" fill="#0e113b"/><circle cx="20.14" cy="17.78" r="0.93" fill="#120d3d"/><circle cx="16.56" cy="6.34" r="1.11" fill="#0a0f3e"/><circle cx="22.54" cy="9.99" r="0.89" fill="#100d51"/><circle cx="19.06" cy="1.78" r="1.11" fill="#0c0b57"/><circle cx="16.05" cy="14.43" r="0.84" fill="#0e0b4a"/><circle cx="18.98" cy="8.26" r="1.2" fill="#12115b"/><circle cx="7.25" cy="7.94" r="0.86" fill="#0c0e3c"/><circle cx="2" cy="22.52" r="0.89" fill="#0e114d"/><circle cx="20.57" cy="14.7" r="1" fill="#120e39"/><circle cx="7.71" cy="16.54" r="1.08" fill="#0d0d42"/><circle cx="22.25" cy="7.96" r="0.91" fill="#0c123b"/><circle cx="6.41" cy="16.8" r="0.93" fill="#110d4f"/><circle cx="23.28" cy="18.91" r="1.03" fill="#0a0e53"/><circle cx="8.32" cy="10.32" r="1.14" fill="#121253"/><circle cx="7.31" cy="18.1" r="1.21" fill="#0b0f4e"/><circle cx="15.89" cy="4.64" r="1.2" fill="#0c0d5c"/><circle cx="14.72" cy="10.73" r="1.2" fill="#120d3e"/><circle cx="13.17" cy="0.53" r="0.96" fill="#0c0d55"/><circle cx="8.01" cy="5.66" r="0.92" fill="#0a114c"/><circle cx="9.14" cy="8.24" r="1.12" fill="#110e37"/><circle cx="5.45" cy="6.74" r="1.07" fill="#121154"/><circle cx="18.26" cy="16.35" r="0.88" fill="#0c0f5a"/><circle cx="5.76" cy="7.66" r="1.24" fill="#0e0e57"/><circle cx="17.92" cy="1.86" r="0.94" fill="#0f1153"/><circle cx="4.93" cy="1.39" r="0.87" fill="#0f105e"/><circle cx="11.17" cy="9.07" r="1.04" fill="#0f0c4b"/><circle cx="9.74" cy="3.32" r="1.08" fill="#0b0e59"/><circle cx="12.84" cy="14.36" r="1.16" fill="#0e1037"/><circle cx="8.43" cy="19.91" r="0.99" fill="#0b0a56"/><circle cx="6.09" cy="14.77" r="0.95" fill="#120f3f"/><circle cx="13.3" cy="1.16" r="1.17" fill="#0a0b4a"/><circle cx="10.7" cy="6.61" r="0.84" fill="#110b4f"/><circle cx="10.01" cy="16.74" r="0.82" fill="#0e114a"/><circle cx="6.59" cy="10.93" r="0.89" fill="#0a0b5a"/><circle cx="0.52" cy="11.01" r="0.98" fill="#100a4d"/><circle cx="10.08" cy="1.55" r="0.95" fill="#120b3d"/><circle cx="12.5" cy="20.94" r="0.82" fill="#0a0b56"/><circle cx="22.08" cy="8.92" r="0.91" fill="#0b1257"/><circle cx="9.78" cy="11.01" r="1.03" fill="#0f124d"/><circle cx="22.36" cy="22.67" r="1.04" fill="#100c5a"/><circle cx="17.35" cy="3.67" r="1.12" fill="#0a1040"/><circle cx="8.25" cy="20.63" r="0.96" fill="#0a0b3f"/><circle cx="23.46" cy="23.49" r="0.81" fill="#110c44"/><circle cx="5.69" cy="14.6" r="1.21" fill="#120b5e"/><circle cx="24.05" cy="21.25" r="1.12" fill="#12103d"/><circle cx="20.79" cy="22.9" r="1.01" fill="#0c0a47"/><circle cx="5.02" cy="6.55" r="0.95" fill="#110d47"/><circle cx="4.47" cy="17.81" r="1.18" fill="#0f0c37"/><circle cx="16.88" cy="20.56" r="0.94" fill="#0a0c43"/><circle cx="10.74" cy="13.78" r="1" fill="#0e0e48"/><circle cx="10.62" cy="14.14" r="1.08" fill="#0a1149"/><circle cx="7.87" cy="11.45" r="1.07" fill="#110a39"/></g><g filter="url(#bl4)" style="mix-blend-mode:screen"><circle cx="19.73" cy="2.78" r="0.86" fill="#460404"/><circle cx="7.58" cy="11.16" r="0.83" fill="#550404"/><circle cx="16.46" cy="20.15" r="0.67" fill="#4b0404"/><circle cx="15.07" cy="11.68" r="0.88" fill="#3d0404"/><circle cx="11.87" cy="19.78" r="0.91" fill="#4b0404"/><circle cx="0.51" cy="15.22" r="0.78" fill="#440404"/><circle cx="12.91" cy="14.21" r="0.84" fill="#2e0404"/><circle cx="13.72" cy="7.1" r="0.87" fill="#440404"/><circle cx="13.57" cy="7.5" r="0.85" fill="#3a0404"/><circle cx="18.71" cy="10.4" r="0.83" fill="#3a0404"/><circle cx="19.7" cy="5.93" r="0.78" fill="#3a0404"/><circle cx="9.15" cy="5.96" r="0.85" fill="#520404"/><circle cx="9.52" cy="8.15" r="0.93" fill="#4a0404"/><circle cx="4.87" cy="2.79" r="0.63" fill="#460404"/><circle cx="12.89" cy="12.4" r="0.89" fill="#440404"/><circle cx="14.59" cy="3.78" r="0.62" fill="#350404"/><circle cx="19.11" cy="17.13" r="0.77" fill="#2e0404"/><circle cx="14.25" cy="11.11" r="0.88" fill="#530404"/><circle cx="16.22" cy="22.48" r="0.66" fill="#480404"/><circle cx="0.63" cy="22.36" r="0.77" fill="#380404"/><circle cx="8.86" cy="16.42" r="1" fill="#4d0404"/><circle cx="5.01" cy="1.21" r="0.76" fill="#450404"/><circle cx="7.16" cy="12.69" r="0.89" fill="#400404"/><circle cx="10.93" cy="6.62" r="0.92" fill="#350404"/><circle cx="20.21" cy="13.18" r="0.95" fill="#300404"/><circle cx="2.31" cy="1.06" r="0.71" fill="#3d0404"/><circle cx="13.46" cy="11.13" r="0.91" fill="#550404"/><circle cx="3.73" cy="8.37" r="0.93" fill="#4d0404"/><circle cx="11.18" cy="2.98" r="0.99" fill="#3b0404"/><circle cx="19.09" cy="1.25" r="0.73" fill="#460404"/><circle cx="4.83" cy="18.79" r="0.98" fill="#470404"/><circle cx="0.65" cy="19.32" r="0.74" fill="#3d0404"/><circle cx="16.75" cy="9.78" r="1" fill="#450404"/><circle cx="5.82" cy="14.79" r="0.74" fill="#360404"/><circle cx="17.86" cy="23.66" r="0.62" fill="#4d0404"/><circle cx="13.61" cy="15.52" r="0.73" fill="#420404"/><circle cx="17.48" cy="18.04" r="0.72" fill="#550404"/><circle cx="6.2" cy="12.55" r="0.92" fill="#3c0404"/><circle cx="8.02" cy="18.45" r="0.82" fill="#4a0404"/><circle cx="8.63" cy="16.74" r="0.69" fill="#340404"/><circle cx="3.53" cy="7.85" r="1.07" fill="#b40e0b"/><circle cx="13.65" cy="3.19" r="1.04" fill="#900d0a"/><circle cx="6.2" cy="16.29" r="0.95" fill="#9f0d0a"/><circle cx="15.89" cy="14.6" r="1.12" fill="#b8060b"/><circle cx="14.53" cy="12.02" r="1.11" fill="#9f0a0d"/><circle cx="8.36" cy="4.76" r="1.06" fill="#b1060e"/><circle cx="13.9" cy="17.4" r="1.23" fill="#b70b07"/><circle cx="10.57" cy="14.89" r="1.1" fill="#a10b0c"/><circle cx="18.04" cy="9.12" r="1.21" fill="#900e07"/><circle cx="16.37" cy="22.14" r="1.1" fill="#9c070a"/><circle cx="8.2" cy="5.32" r="1.19" fill="#ae0c0e"/><circle cx="20.78" cy="15.58" r="0.96" fill="#9f070e"/><circle cx="15.64" cy="21.4" r="1.15" fill="#a90a0c"/><circle cx="18.22" cy="19.54" r="0.93" fill="#9a0d08"/><circle cx="15.03" cy="15.48" r="0.93" fill="#b60609"/><circle cx="4.47" cy="19.34" r="1.13" fill="#ac090c"/><circle cx="16.41" cy="18.01" r="0.99" fill="#a20708"/></g><ellipse cx="20" cy="24" rx="2.9" ry="1.5" fill="#7c7c7c" filter="url(#bl4)"/></svg>
<text x="545" y="109.9" font-size="3.1" fill="#555" text-anchor="middle" font-weight="normal" font-family="Liberation Sans">DAPI</text>
<text x="570.5" y="109.9" font-size="3.1" fill="#555" text-anchor="middle" font-weight="normal" font-family="Liberation Sans">PKM2</text>
<text x="596.2" y="109.9" font-size="3.1" fill="#555" text-anchor="middle" font-weight="normal" font-family="Liberation Sans">MERGE</text>
<text x="526.2" y="125.2" font-size="3.3" fill="#777" text-anchor="middle" font-weight="normal" font-family="Liberation Sans" transform="rotate(90 526.2 125.2)">NC</text>
<text x="526.2" y="151.1" font-size="3.3" fill="#777" text-anchor="middle" font-weight="normal" font-family="Liberation Sans" transform="rotate(90 526.2 151.1)">Sh-SLC45A4-1</text>
<text x="526.2" y="177" font-size="3.3" fill="#777" text-anchor="middle" font-weight="normal" font-family="Liberation Sans" transform="rotate(90 526.2 177)">Sh-SLC45A4-2</text>
<rect x="5.9" y="229.8" width="24.8" height="24.8" fill="#000"/><svg x="5.9" y="229.8" width="24.8" height="24.8" overflow="hidden"><g filter="url(#bl4)"><circle cx="19.6" cy="23.28" r="0.96" fill="#0c0e3a"/><circle cx="19.69" cy="8.51" r="0.96" fill="#090839"/><circle cx="8.29" cy="9.94" r="0.83" fill="#090d49"/><circle cx="15.39" cy="9.36" r="0.92" fill="#0b0d4f"/><circle cx="22.6" cy="9.34" r="0.85" fill="#0a1032"/><circle cx="14.97" cy="3.83" r="1.08" fill="#0f0f38"/><circle cx="21.66" cy="14.82" r="0.91" fill="#0f1046"/><circle cx="4.57" cy="14.18" r="1.09" fill="#0c103e"/><circle cx="15.95" cy="20.6" r="0.97" fill="#0f0d3e"/><circle cx="23.23" cy="8.48" r="1.02" fill="#090d50"/><circle cx="6.57" cy="11.53" r="0.78" fill="#0d0e2f"/><circle cx="14.3" cy="6.82" r="0.72" fill="#080838"/><circle cx="16.04" cy="14.96" r="1.02" fill="#0b0b3e"/><circle cx="15.06" cy="22.22" r="0.91" fill="#0a0f50"/><circle cx="0.36" cy="22.42" r="0.99" fill="#100f34"/><circle cx="8.49" cy="10.35" r="0.77" fill="#0d0846"/><circle cx="11.85" cy="17.12" r="0.72" fill="#08104f"/><circle cx="0.34" cy="8.37" r="0.86" fill="#0c0e2d"/><circle cx="23.34" cy="17.66" r="1.12" fill="#0f0e4c"/><circle cx="13.85" cy="15.37" r="1" fill="#0d083e"/><circle cx="2.22" cy="2.46" r="0.72" fill="#0f0842"/><circle cx="22.42" cy="5.56" r="0.93" fill="#0e083e"/><circle cx="8.74" cy="0.37" r="0.81" fill="#0a094d"/><circle cx="12.32" cy="13.75" r="1.01" fill="#0e0f30"/><circle cx="14.87" cy="9.23" r="0.76" fill="#0d0f32"/><circle cx="9.41" cy="21.2" r="0.79" fill="#080e44"/><circle cx="12.05" cy="9.1" r="0.86" fill="#0d0950"/><circle cx="20.44" cy="15.71" r="0.76" fill="#08104b"/><circle cx="3.27" cy="21.66" r="0.96" fill="#0a0e36"/><circle cx="5.8" cy="6.08" r="1.05" fill="#080b2e"/><circle cx="5.81" cy="12.13" r="0.89" fill="#0b093e"/><circle cx="18.1" cy="8.85" r="0.79" fill="#0e092f"/><circle cx="3.33" cy="15.67" r="0.81" fill="#080942"/><circle cx="12.32" cy="13.15" r="1.12" fill="#080d4d"/><circle cx="21.86" cy="8.4" r="0.78" fill="#100d2e"/><circle cx="20.65" cy="13.15" r="0.83" fill="#0b0835"/><circle cx="15.3" cy="5.66" r="0.9" fill="#0f0950"/><circle cx="3.26" cy="13.03" r="1.03" fill="#0c092f"/><circle cx="18.9" cy="21.06" r="0.75" fill="#100a34"/><circle cx="24.42" cy="18.82" r="1.13" fill="#0b0c4e"/><circle cx="18.83" cy="19.96" r="1.09" fill="#0d103b"/><circle cx="11.99" cy="19.19" r="1.1" fill="#0c0d2f"/><circle cx="14.66" cy="21.89" r="1.07" fill="#0e0c3c"/><circle cx="14.32" cy="19.37" r="1.02" fill="#0c0d46"/><circle cx="16.82" cy="18.43" r="0.96" fill="#0a0a4b"/><circle cx="10.11" cy="17.72" r="0.9" fill="#0a0c49"/><circle cx="21.59" cy="9.01" r="1.04" fill="#0d0a4d"/><circle cx="19.31" cy="15.9" r="1.01" fill="#090d31"/><circle cx="23.14" cy="13.19" r="0.8" fill="#0e0a3b"/><circle cx="6.47" cy="20.71" r="1.11" fill="#0e0e43"/><circle cx="9.1" cy="23.29" r="0.81" fill="#0b0d32"/><circle cx="7.05" cy="15.09" r="0.77" fill="#100833"/><circle cx="13.47" cy="10.67" r="0.87" fill="#080c49"/><circle cx="23.37" cy="15.96" r="1.02" fill="#0b0e30"/><circle cx="1.31" cy="3.45" r="0.95" fill="#08093a"/><circle cx="19.43" cy="13.12" r="0.85" fill="#0a0a50"/><circle cx="6.64" cy="3.03" r="0.75" fill="#0a094d"/><circle cx="5.89" cy="1.41" r="0.89" fill="#0a0a4f"/><circle cx="12.02" cy="16.38" r="0.78" fill="#0c0d32"/><circle cx="13.96" cy="0.98" r="1.05" fill="#0c0c4d"/><circle cx="17.6" cy="23.38" r="1.11" fill="#0d0b4a"/><circle cx="14.76" cy="14.64" r="0.88" fill="#0a094f"/><circle cx="8.18" cy="2.44" r="0.97" fill="#100e50"/><circle cx="1.86" cy="10.16" r="0.88" fill="#0d0e45"/><circle cx="4.89" cy="24.44" r="1.04" fill="#0f093c"/><circle cx="7.62" cy="18.26" r="1.01" fill="#0e0944"/><circle cx="20.52" cy="20.72" r="1.02" fill="#0e0b4b"/><circle cx="22.59" cy="18.83" r="0.84" fill="#0b0c2e"/><circle cx="12.65" cy="8.85" r="1.07" fill="#0f0e37"/><circle cx="18.3" cy="18.19" r="0.99" fill="#100e4a"/><circle cx="3.91" cy="20.15" r="0.84" fill="#090e44"/><circle cx="11.37" cy="24.2" r="0.84" fill="#100833"/><circle cx="4.97" cy="7.95" r="1.09" fill="#0e0935"/><circle cx="8.64" cy="24.39" r="0.7" fill="#080b2f"/><circle cx="19.85" cy="3.71" r="0.79" fill="#080a47"/><circle cx="13.76" cy="20.8" r="0.78" fill="#080b32"/><circle cx="13.34" cy="14.37" r="0.84" fill="#0b0b36"/><circle cx="2.94" cy="24.25" r="1.06" fill="#0d0b46"/><circle cx="15.39" cy="13.41" r="1.14" fill="#0d0c3d"/><circle cx="2.66" cy="11.32" r="0.81" fill="#0c094e"/></g><ellipse cx="20.4" cy="24.4" rx="2.9" ry="1.5" fill="#7c7c7c" filter="url(#bl4)"/></svg>
<rect x="31.8" y="229.8" width="24.8" height="24.8" fill="#000"/><svg x="31.8" y="229.8" width="24.8" height="24.8" overflow="hidden"><g filter="url(#bl4)"><circle cx="23.33" cy="8.53" r="1.04" fill="#b60106"/><circle cx="9.99" cy="10.62" r="0.83" fill="#72080a"/><circle cx="0.26" cy="18.85" r="1.14" fill="#940102"/><circle cx="24.07" cy="2.93" r="1.2" fill="#6e0608"/><circle cx="17.3" cy="20.19" r="0.87" fill="#690608"/><circle cx="17.05" cy="13.39" r="1.25" fill="#8d0109"/><circle cx="8.01" cy="13.86" r="0.81" fill="#b30009"/><circle cx="20.15" cy="22.38" r="1.18" fill="#a1020a"/><circle cx="24.17" cy="12.23" r="1.22" fill="#980609"/><circle cx="22.43" cy="4.56" r="0.85" fill="#b90308"/><circle cx="11.52" cy="14.39" r="1.1" fill="#940a02"/><circle cx="19.21" cy="12.57" r="1.23" fill="#6f0a01"/><circle cx="1.57" cy="6.84" r="0.98" fill="#ae0902"/><circle cx="11.36" cy="13.65" r="1.24" fill="#770408"/><circle cx="0.73" cy="19.79" r="1.15" fill="#ab0901"/><circle cx="10.85" cy="12.64" r="0.82" fill="#8c0404"/><circle cx="21.16" cy="10.95" r="0.85" fill="#6d0705"/><circle cx="17.01" cy="3.93" r="1.33" fill="#b70604"/><circle cx="3.78" cy="9.12" r="1.21" fill="#b20708"/><circle cx="1.42" cy="12.02" r="1.08" fill="#ae0602"/><circle cx="21.61" cy="19.5" r="0.86" fill="#ac0103"/><circle cx="5.48" cy="11.23" r="1.3" fill="#720608"/><circle cx="23.01" cy="20.43" r="1.28" fill="#910400"/><circle cx="23.59" cy="5.09" r="1.02" fill="#6b0909"/><circle cx="14.77" cy="12.6" r="1.32" fill="#a10701"/><circle cx="15.01" cy="10.64" r="0.89" fill="#8d0205"/><circle cx="0.51" cy="8.38" r="1.3" fill="#770009"/><circle cx="10.64" cy="15.38" r="1.33" fill="#740901"/><circle cx="17.58" cy="4.02" r="1.13" fill="#770800"/><circle cx="3.49" cy="23.02" r="0.95" fill="#880509"/><circle cx="3.48" cy="5.08" r="0.81" fill="#8c0904"/><circle cx="24.48" cy="21.56" r="1.32" fill="#9a0405"/><circle cx="20.45" cy="4.55" r="0.93" fill="#ab0605"/><circle cx="13.07" cy="3.54" r="1.22" fill="#960907"/><circle cx="0.75" cy="7.65" r="1.12" fill="#800300"/><circle cx="0.03" cy="5" r="0.86" fill="#6b0206"/><circle cx="20.32" cy="18.37" r="0.9" fill="#9b0402"/><circle cx="15.11" cy="11.13" r="1.21" fill="#700001"/><circle cx="20.34" cy="10.13" r="0.99" fill="#7d0307"/><circle cx="3.92" cy="4.41" r="0.92" fill="#950608"/><circle cx="23.3" cy="10.59" r="1.06" fill="#b10209"/><circle cx="0.97" cy="23.49" r="1.02" fill="#930004"/><circle cx="5.15" cy="7.57" r="1.3" fill="#710209"/><circle cx="4.61" cy="9.02" r="1.15" fill="#8f080a"/><circle cx="15.42" cy="5.16" r="1.02" fill="#9e0003"/><circle cx="12.46" cy="2.68" r="1.02" fill="#a60106"/><circle cx="10.13" cy="4.44" r="0.89" fill="#6b0105"/><circle cx="15.43" cy="16.08" r="1.33" fill="#a00101"/><circle cx="5.76" cy="20.46" r="1.14" fill="#6a030a"/><circle cx="19.88" cy="4.26" r="1.24" fill="#a70100"/><circle cx="3.27" cy="18.8" r="1.04" fill="#b00905"/><circle cx="2.77" cy="8.86" r="1.21" fill="#6b0903"/><circle cx="18.64" cy="1.45" r="1.16" fill="#7c0805"/><circle cx="19.13" cy="12.35" r="0.91" fill="#aa0909"/><circle cx="2.92" cy="24.17" r="0.86" fill="#b80207"/><circle cx="18.39" cy="0.1" r="1.13" fill="#950002"/><circle cx="8.54" cy="19.69" r="0.98" fill="#8a0400"/><circle cx="4.07" cy="21.24" r="0.94" fill="#790901"/><circle cx="15.24" cy="15.1" r="1.23" fill="#aa0200"/><circle cx="23.49" cy="18.58" r="1.3" fill="#b90807"/><circle cx="20.2" cy="0.79" r="0.89" fill="#930106"/><circle cx="23.16" cy="17.81" r="1.19" fill="#6a0906"/><circle cx="8.19" cy="14.29" r="1.24" fill="#6b0901"/><circle cx="10.86" cy="18.85" r="1.27" fill="#b1090a"/><circle cx="6.67" cy="9.8" r="0.92" fill="#780a05"/><circle cx="5.39" cy="10.51" r="1.17" fill="#9c0102"/><circle cx="14.15" cy="2.71" r="0.8" fill="#690206"/><circle cx="12.46" cy="22.03" r="0.9" fill="#9b0a0a"/><circle cx="18.88" cy="2.69" r="1.21" fill="#990805"/><circle cx="13.78" cy="14.14" r="1.08" fill="#990601"/><circle cx="19.13" cy="15.94" r="1.29" fill="#810105"/><circle cx="6.8" cy="1.51" r="0.91" fill="#b50106"/><circle cx="7.09" cy="0.73" r="1.01" fill="#960809"/><circle cx="22.78" cy="11.15" r="0.83" fill="#7d0406"/><circle cx="7.05" cy="13.39" r="0.93" fill="#8f0a01"/><circle cx="5.13" cy="15.42" r="1.24" fill="#b40905"/><circle cx="8.39" cy="14.49" r="1.29" fill="#740703"/><circle cx="24.37" cy="12.05" r="1.26" fill="#940809"/><circle cx="4.87" cy="20.08" r="1.05" fill="#780202"/><circle cx="10.12" cy="14.23" r="0.99" fill="#b70807"/><circle cx="1.69" cy="18.74" r="1.08" fill="#b30307"/><circle cx="24.67" cy="23.48" r="1.11" fill="#8a0009"/><circle cx="15.88" cy="23.97" r="1.32" fill="#a10907"/><circle cx="21.6" cy="3.12" r="0.91" fill="#7f0005"/><circle cx="18.53" cy="13.65" r="1.05" fill="#730a0a"/><circle cx="3.85" cy="10.6" r="1.03" fill="#850305"/><circle cx="10.14" cy="16.2" r="1.14" fill="#740604"/><circle cx="19.86" cy="13.34" r="1.13" fill="#6b0101"/><circle cx="5.95" cy="5.36" r="1.2" fill="#6d0605"/><circle cx="17.37" cy="1.96" r="1.21" fill="#9c0105"/><circle cx="16.07" cy="16.19" r="1.27" fill="#6c0802"/><circle cx="6.17" cy="5.57" r="0.89" fill="#790a02"/><circle cx="2.2" cy="1.95" r="0.86" fill="#8b060a"/><circle cx="20.02" cy="4.44" r="1.29" fill="#6e0203"/><circle cx="16.1" cy="6.86" r="0.86" fill="#ac090a"/><circle cx="21.43" cy="17.09" r="1" fill="#770000"/><circle cx="12.65" cy="11.49" r="0.88" fill="#aa0209"/><circle cx="0.16" cy="11.41" r="1.22" fill="#9a0a0a"/><circle cx="7.06" cy="3.09" r="1.04" fill="#790601"/><circle cx="21.56" cy="23.13" r="1.21" fill="#9f0909"/></g><ellipse cx="20.4" cy="24.4" rx="2.9" ry="1.5" fill="#7c7c7c" filter="url(#bl4)"/></svg>
<rect x="57.7" y="229.8" width="24.8" height="24.8" fill="#000"/><svg x="57.7" y="229.8" width="24.8" height="24.8" overflow="hidden"><g filter="url(#bl4)"><circle cx="19.6" cy="23.28" r="0.96" fill="#0c0e3a"/><circle cx="19.69" cy="8.51" r="0.96" fill="#090839"/><circle cx="8.29" cy="9.94" r="0.83" fill="#090d49"/><circle cx="15.39" cy="9.36" r="0.92" fill="#0b0d4f"/><circle cx="22.6" cy="9.34" r="0.85" fill="#0a1032"/><circle cx="14.97" cy="3.83" r="1.08" fill="#0f0f38"/><circle cx="21.66" cy="14.82" r="0.91" fill="#0f1046"/><circle cx="4.57" cy="14.18" r="1.09" fill="#0c103e"/><circle cx="15.95" cy="20.6" r="0.97" fill="#0f0d3e"/><circle cx="23.23" cy="8.48" r="1.02" fill="#090d50"/><circle cx="6.57" cy="11.53" r="0.78" fill="#0d0e2f"/><circle cx="14.3" cy="6.82" r="0.72" fill="#080838"/><circle cx="16.04" cy="14.96" r="1.02" fill="#0b0b3e"/><circle cx="15.06" cy="22.22" r="0.91" fill="#0a0f50"/><circle cx="0.36" cy="22.42" r="0.99" fill="#100f34"/><circle cx="8.49" cy="10.35" r="0.77" fill="#0d0846"/><circle cx="11.85" cy="17.12" r="0.72" fill="#08104f"/><circle cx="0.34" cy="8.37" r="0.86" fill="#0c0e2d"/><circle cx="23.34" cy="17.66" r="1.12" fill="#0f0e4c"/><circle cx="13.85" cy="15.37" r="1" fill="#0d083e"/><circle cx="2.22" cy="2.46" r="0.72" fill="#0f0842"/><circle cx="22.42" cy="5.56" r="0.93" fill="#0e083e"/><circle cx="8.74" cy="0.37" r="0.81" fill="#0a094d"/><circle cx="12.32" cy="13.75" r="1.01" fill="#0e0f30"/><circle cx="14.87" cy="9.23" r="0.76" fill="#0d0f32"/><circle cx="9.41" cy="21.2" r="0.79" fill="#080e44"/><circle cx="12.05" cy="9.1" r="0.86" fill="#0d0950"/><circle cx="20.44" cy="15.71" r="0.76" fill="#08104b"/><circle cx="3.27" cy="21.66" r="0.96" fill="#0a0e36"/><circle cx="5.8" cy="6.08" r="1.05" fill="#080b2e"/><circle cx="5.81" cy="12.13" r="0.89" fill="#0b093e"/><circle cx="18.1" cy="8.85" r="0.79" fill="#0e092f"/><circle cx="3.33" cy="15.67" r="0.81" fill="#080942"/><circle cx="12.32" cy="13.15" r="1.12" fill="#080d4d"/><circle cx="21.86" cy="8.4" r="0.78" fill="#100d2e"/><circle cx="20.65" cy="13.15" r="0.83" fill="#0b0835"/><circle cx="15.3" cy="5.66" r="0.9" fill="#0f0950"/><circle cx="3.26" cy="13.03" r="1.03" fill="#0c092f"/><circle cx="18.9" cy="21.06" r="0.75" fill="#100a34"/><circle cx="24.42" cy="18.82" r="1.13" fill="#0b0c4e"/><circle cx="18.83" cy="19.96" r="1.09" fill="#0d103b"/><circle cx="11.99" cy="19.19" r="1.1" fill="#0c0d2f"/><circle cx="14.66" cy="21.89" r="1.07" fill="#0e0c3c"/><circle cx="14.32" cy="19.37" r="1.02" fill="#0c0d46"/><circle cx="16.82" cy="18.43" r="0.96" fill="#0a0a4b"/><circle cx="10.11" cy="17.72" r="0.9" fill="#0a0c49"/><circle cx="21.59" cy="9.01" r="1.04" fill="#0d0a4d"/><circle cx="19.31" cy="15.9" r="1.01" fill="#090d31"/><circle cx="23.14" cy="13.19" r="0.8" fill="#0e0a3b"/><circle cx="6.47" cy="20.71" r="1.11" fill="#0e0e43"/><circle cx="9.1" cy="23.29" r="0.81" fill="#0b0d32"/><circle cx="7.05" cy="15.09" r="0.77" fill="#100833"/><circle cx="13.47" cy="10.67" r="0.87" fill="#080c49"/><circle cx="23.37" cy="15.96" r="1.02" fill="#0b0e30"/><circle cx="1.31" cy="3.45" r="0.95" fill="#08093a"/><circle cx="19.43" cy="13.12" r="0.85" fill="#0a0a50"/><circle cx="6.64" cy="3.03" r="0.75" fill="#0a094d"/><circle cx="5.89" cy="1.41" r="0.89" fill="#0a0a4f"/><circle cx="12.02" cy="16.38" r="0.78" fill="#0c0d32"/><circle cx="13.96" cy="0.98" r="1.05" fill="#0c0c4d"/><circle cx="17.6" cy="23.38" r="1.11" fill="#0d0b4a"/><circle cx="14.76" cy="14.64" r="0.88" fill="#0a094f"/><circle cx="8.18" cy="2.44" r="0.97" fill="#100e50"/><circle cx="1.86" cy="10.16" r="0.88" fill="#0d0e45"/><circle cx="4.89" cy="24.44" r="1.04" fill="#0f093c"/><circle cx="7.62" cy="18.26" r="1.01" fill="#0e0944"/><circle cx="20.52" cy="20.72" r="1.02" fill="#0e0b4b"/><circle cx="22.59" cy="18.83" r="0.84" fill="#0b0c2e"/><circle cx="12.65" cy="8.85" r="1.07" fill="#0f0e37"/><circle cx="18.3" cy="18.19" r="0.99" fill="#100e4a"/><circle cx="3.91" cy="20.15" r="0.84" fill="#090e44"/><circle cx="11.37" cy="24.2" r="0.84" fill="#100833"/><circle cx="4.97" cy="7.95" r="1.09" fill="#0e0935"/><circle cx="8.64" cy="24.39" r="0.7" fill="#080b2f"/><circle cx="19.85" cy="3.71" r="0.79" fill="#080a47"/><circle cx="13.76" cy="20.8" r="0.78" fill="#080b32"/><circle cx="13.34" cy="14.37" r="0.84" fill="#0b0b36"/><circle cx="2.94" cy="24.25" r="1.06" fill="#0d0b46"/><circle cx="15.39" cy="13.41" r="1.14" fill="#0d0c3d"/><circle cx="2.66" cy="11.32" r="0.81" fill="#0c094e"/></g><g filter="url(#bl4)" style="mix-blend-mode:screen"><circle cx="23.33" cy="8.53" r="1.04" fill="#b60106"/><circle cx="9.99" cy="10.62" r="0.83" fill="#72080a"/><circle cx="0.26" cy="18.85" r="1.14" fill="#940102"/><circle cx="24.07" cy="2.93" r="1.2" fill="#6e0608"/><circle cx="17.3" cy="20.19" r="0.87" fill="#690608"/><circle cx="17.05" cy="13.39" r="1.25" fill="#8d0109"/><circle cx="8.01" cy="13.86" r="0.81" fill="#b30009"/><circle cx="20.15" cy="22.38" r="1.18" fill="#a1020a"/><circle cx="24.17" cy="12.23" r="1.22" fill="#980609"/><circle cx="22.43" cy="4.56" r="0.85" fill="#b90308"/><circle cx="11.52" cy="14.39" r="1.1" fill="#940a02"/><circle cx="19.21" cy="12.57" r="1.23" fill="#6f0a01"/><circle cx="1.57" cy="6.84" r="0.98" fill="#ae0902"/><circle cx="11.36" cy="13.65" r="1.24" fill="#770408"/><circle cx="0.73" cy="19.79" r="1.15" fill="#ab0901"/><circle cx="10.85" cy="12.64" r="0.82" fill="#8c0404"/><circle cx="21.16" cy="10.95" r="0.85" fill="#6d0705"/><circle cx="17.01" cy="3.93" r="1.33" fill="#b70604"/><circle cx="3.78" cy="9.12" r="1.21" fill="#b20708"/><circle cx="1.42" cy="12.02" r="1.08" fill="#ae0602"/><circle cx="21.61" cy="19.5" r="0.86" fill="#ac0103"/><circle cx="5.48" cy="11.23" r="1.3" fill="#720608"/><circle cx="23.01" cy="20.43" r="1.28" fill="#910400"/><circle cx="23.59" cy="5.09" r="1.02" fill="#6b0909"/><circle cx="14.77" cy="12.6" r="1.32" fill="#a10701"/><circle cx="15.01" cy="10.64" r="0.89" fill="#8d0205"/><circle cx="0.51" cy="8.38" r="1.3" fill="#770009"/><circle cx="10.64" cy="15.38" r="1.33" fill="#740901"/><circle cx="17.58" cy="4.02" r="1.13" fill="#770800"/><circle cx="3.49" cy="23.02" r="0.95" fill="#880509"/><circle cx="3.48" cy="5.08" r="0.81" fill="#8c0904"/><circle cx="24.48" cy="21.56" r="1.32" fill="#9a0405"/><circle cx="20.45" cy="4.55" r="0.93" fill="#ab0605"/><circle cx="13.07" cy="3.54" r="1.22" fill="#960907"/><circle cx="0.75" cy="7.65" r="1.12" fill="#800300"/><circle cx="0.03" cy="5" r="0.86" fill="#6b0206"/><circle cx="20.32" cy="18.37" r="0.9" fill="#9b0402"/><circle cx="15.11" cy="11.13" r="1.21" fill="#700001"/><circle cx="20.34" cy="10.13" r="0.99" fill="#7d0307"/><circle cx="3.92" cy="4.41" r="0.92" fill="#950608"/><circle cx="23.3" cy="10.59" r="1.06" fill="#b10209"/><circle cx="0.97" cy="23.49" r="1.02" fill="#930004"/><circle cx="5.15" cy="7.57" r="1.3" fill="#710209"/><circle cx="4.61" cy="9.02" r="1.15" fill="#8f080a"/><circle cx="15.42" cy="5.16" r="1.02" fill="#9e0003"/><circle cx="12.46" cy="2.68" r="1.02" fill="#a60106"/><circle cx="10.13" cy="4.44" r="0.89" fill="#6b0105"/><circle cx="15.43" cy="16.08" r="1.33" fill="#a00101"/><circle cx="5.76" cy="20.46" r="1.14" fill="#6a030a"/><circle cx="19.88" cy="4.26" r="1.24" fill="#a70100"/><circle cx="3.27" cy="18.8" r="1.04" fill="#b00905"/><circle cx="2.77" cy="8.86" r="1.21" fill="#6b0903"/><circle cx="18.64" cy="1.45" r="1.16" fill="#7c0805"/><circle cx="19.13" cy="12.35" r="0.91" fill="#aa0909"/><circle cx="2.92" cy="24.17" r="0.86" fill="#b80207"/><circle cx="18.39" cy="0.1" r="1.13" fill="#950002"/><circle cx="8.54" cy="19.69" r="0.98" fill="#8a0400"/><circle cx="4.07" cy="21.24" r="0.94" fill="#790901"/><circle cx="15.24" cy="15.1" r="1.23" fill="#aa0200"/><circle cx="23.49" cy="18.58" r="1.3" fill="#b90807"/><circle cx="20.2" cy="0.79" r="0.89" fill="#930106"/><circle cx="23.16" cy="17.81" r="1.19" fill="#6a0906"/><circle cx="8.19" cy="14.29" r="1.24" fill="#6b0901"/><circle cx="10.86" cy="18.85" r="1.27" fill="#b1090a"/><circle cx="6.67" cy="9.8" r="0.92" fill="#780a05"/><circle cx="5.39" cy="10.51" r="1.17" fill="#9c0102"/><circle cx="14.15" cy="2.71" r="0.8" fill="#690206"/><circle cx="12.46" cy="22.03" r="0.9" fill="#9b0a0a"/><circle cx="18.88" cy="2.69" r="1.21" fill="#990805"/><circle cx="13.78" cy="14.14" r="1.08" fill="#990601"/><circle cx="19.13" cy="15.94" r="1.29" fill="#810105"/><circle cx="6.8" cy="1.51" r="0.91" fill="#b50106"/><circle cx="7.09" cy="0.73" r="1.01" fill="#960809"/><circle cx="22.78" cy="11.15" r="0.83" fill="#7d0406"/><circle cx="7.05" cy="13.39" r="0.93" fill="#8f0a01"/><circle cx="5.13" cy="15.42" r="1.24" fill="#b40905"/><circle cx="8.39" cy="14.49" r="1.29" fill="#740703"/><circle cx="24.37" cy="12.05" r="1.26" fill="#940809"/><circle cx="4.87" cy="20.08" r="1.05" fill="#780202"/><circle cx="10.12" cy="14.23" r="0.99" fill="#b70807"/><circle cx="1.69" cy="18.74" r="1.08" fill="#b30307"/><circle cx="24.67" cy="23.48" r="1.11" fill="#8a0009"/><circle cx="15.88" cy="23.97" r="1.32" fill="#a10907"/><circle cx="21.6" cy="3.12" r="0.91" fill="#7f0005"/><circle cx="18.53" cy="13.65" r="1.05" fill="#730a0a"/><circle cx="3.85" cy="10.6" r="1.03" fill="#850305"/><circle cx="10.14" cy="16.2" r="1.14" fill="#740604"/><circle cx="19.86" cy="13.34" r="1.13" fill="#6b0101"/><circle cx="5.95" cy="5.36" r="1.2" fill="#6d0605"/><circle cx="17.37" cy="1.96" r="1.21" fill="#9c0105"/><circle cx="16.07" cy="16.19" r="1.27" fill="#6c0802"/><circle cx="6.17" cy="5.57" r="0.89" fill="#790a02"/><circle cx="2.2" cy="1.95" r="0.86" fill="#8b060a"/><circle cx="20.02" cy="4.44" r="1.29" fill="#6e0203"/><circle cx="16.1" cy="6.86" r="0.86" fill="#ac090a"/><circle cx="21.43" cy="17.09" r="1" fill="#770000"/><circle cx="12.65" cy="11.49" r="0.88" fill="#aa0209"/><circle cx="0.16" cy="11.41" r="1.22" fill="#9a0a0a"/><circle cx="7.06" cy="3.09" r="1.04" fill="#790601"/><circle cx="21.56" cy="23.13" r="1.21" fill="#9f0909"/></g><ellipse cx="20.4" cy="24.4" rx="2.9" ry="1.5" fill="#7c7c7c" filter="url(#bl4)"/></svg>
<rect x="5.9" y="255.6" width="24.8" height="24.8" fill="#000"/><svg x="5.9" y="255.6" width="24.8" height="24.8" overflow="hidden"><g filter="url(#bl4)"><circle cx="15.77" cy="15.52" r="0.81" fill="#0d0d4e"/><circle cx="9.11" cy="17.68" r="0.86" fill="#0f0844"/><circle cx="11.49" cy="24.27" r="0.87" fill="#0a0f2d"/><circle cx="11.6" cy="23.33" r="0.88" fill="#0d092e"/><circle cx="16.31" cy="5.55" r="1.05" fill="#0a0f3e"/><circle cx="3.93" cy="19.52" r="0.72" fill="#080d45"/><circle cx="11.58" cy="19.91" r="0.78" fill="#0e094b"/><circle cx="23.82" cy="9.64" r="0.74" fill="#0b103b"/><circle cx="20.67" cy="9.59" r="1.02" fill="#0e0d2e"/><circle cx="6.77" cy="24.13" r="0.87" fill="#0f0c3e"/><circle cx="23.6" cy="1.21" r="0.86" fill="#0f0f30"/><circle cx="19.18" cy="19.76" r="0.8" fill="#09103d"/><circle cx="1.49" cy="5.46" r="0.95" fill="#09092e"/><circle cx="24.24" cy="15.1" r="1.12" fill="#0d0c48"/><circle cx="13.32" cy="19.89" r="0.76" fill="#101039"/><circle cx="7.64" cy="0.63" r="1.06" fill="#090f3a"/><circle cx="3.41" cy="19.04" r="1.07" fill="#0b0835"/><circle cx="12.84" cy="22.73" r="1.06" fill="#090b40"/><circle cx="10.02" cy="21.78" r="1.02" fill="#0e0c3b"/><circle cx="19.16" cy="10.67" r="0.78" fill="#090e2f"/><circle cx="24.46" cy="17.96" r="0.71" fill="#0f0846"/><circle cx="23.31" cy="4.57" r="0.84" fill="#0e0a36"/><circle cx="2.58" cy="10.92" r="1.09" fill="#0d0e4a"/><circle cx="4.12" cy="2.32" r="0.9" fill="#0b1034"/><circle cx="12.32" cy="9.98" r="0.75" fill="#0a102f"/><circle cx="18.74" cy="17.14" r="0.95" fill="#090c2e"/><circle cx="0.53" cy="14.3" r="0.73" fill="#0f0f3b"/><circle cx="14.03" cy="9.75" r="0.77" fill="#0f104c"/><circle cx="10.59" cy="15.24" r="0.89" fill="#0d0e4a"/><circle cx="15.51" cy="20.94" r="1.06" fill="#0f0d3b"/><circle cx="8.99" cy="14.56" r="1.09" fill="#0a0833"/><circle cx="19.38" cy="21.09" r="0.81" fill="#0f0c49"/><circle cx="2.72" cy="14.44" r="1.11" fill="#0f0d4d"/><circle cx="6.72" cy="13.24" r="1.07" fill="#0e0f4b"/><circle cx="19.16" cy="15.51" r="0.82" fill="#080d4b"/><circle cx="3.29" cy="17.35" r="0.86" fill="#0f0d4b"/><circle cx="2.24" cy="14.55" r="0.99" fill="#090d38"/><circle cx="21.65" cy="12.05" r="0.72" fill="#0d0837"/><circle cx="0.73" cy="5.98" r="1.07" fill="#080b47"/><circle cx="4.34" cy="7.53" r="0.84" fill="#090b30"/><circle cx="19.57" cy="21.68" r="1.06" fill="#0a0b4d"/><circle cx="12.29" cy="4.34" r="0.83" fill="#0c0b3c"/><circle cx="6.19" cy="2.43" r="0.78" fill="#0b093e"/><circle cx="19.79" cy="19.56" r="0.98" fill="#0a0936"/><circle cx="8.37" cy="18.61" r="0.92" fill="#0a094c"/><circle cx="18.42" cy="7.16" r="0.85" fill="#0e0e35"/><circle cx="15.99" cy="19.16" r="1.12" fill="#09093c"/><circle cx="7.3" cy="11.14" r="0.82" fill="#0b084c"/><circle cx="10.49" cy="6.94" r="1.12" fill="#0a0c37"/><circle cx="8.37" cy="10.37" r="0.73" fill="#0a094a"/><circle cx="8.3" cy="13.46" r="0.94" fill="#100f36"/><circle cx="21.85" cy="15.42" r="0.86" fill="#0d0f3d"/><circle cx="22.71" cy="7.64" r="0.82" fill="#0d1038"/><circle cx="12.71" cy="10.13" r="0.77" fill="#0a0934"/><circle cx="11.51" cy="19.21" r="0.79" fill="#0b0d34"/><circle cx="10.91" cy="5.6" r="0.95" fill="#090f41"/><circle cx="23.24" cy="11.11" r="0.86" fill="#090b2d"/><circle cx="9.59" cy="8.49" r="1.06" fill="#101040"/><circle cx="20.53" cy="13.19" r="0.87" fill="#0b1047"/><circle cx="4" cy="19.2" r="1.12" fill="#0e093d"/><circle cx="7.3" cy="1.37" r="1.11" fill="#080846"/><circle cx="7.11" cy="10.5" r="0.92" fill="#080e2f"/><circle cx="12.07" cy="0.83" r="0.7" fill="#0c0c4f"/><circle cx="20.56" cy="5.28" r="0.87" fill="#100e4d"/><circle cx="5.97" cy="20.33" r="0.8" fill="#100f4b"/><circle cx="3.49" cy="12.41" r="0.95" fill="#0c0b4e"/><circle cx="22.78" cy="13.2" r="0.84" fill="#080f3e"/><circle cx="20.51" cy="12.54" r="0.8" fill="#0c1047"/><circle cx="10.13" cy="3.75" r="0.9" fill="#0f0c49"/><circle cx="19.4" cy="18.88" r="0.87" fill="#090c42"/><circle cx="17.64" cy="7.97" r="0.96" fill="#0f0a39"/><circle cx="15.12" cy="1.18" r="0.71" fill="#0a0a41"/><circle cx="6.84" cy="9.39" r="1.11" fill="#0c0d2e"/><circle cx="10.37" cy="19.82" r="0.91" fill="#0b0a4d"/><circle cx="16.39" cy="20.17" r="0.86" fill="#0b103d"/><circle cx="11.13" cy="24.37" r="0.94" fill="#0c0f35"/><circle cx="13.84" cy="3.27" r="0.75" fill="#0e0f4f"/><circle cx="14.76" cy="11.66" r="1.1" fill="#0c0e33"/><circle cx="9.17" cy="20.58" r="1.06" fill="#100a44"/><circle cx="6.08" cy="20.59" r="0.85" fill="#0a083c"/></g><ellipse cx="20.4" cy="24.4" rx="2.9" ry="1.5" fill="#7c7c7c" filter="url(#bl4)"/></svg>
<rect x="31.8" y="255.6" width="24.8" height="24.8" fill="#000"/><svg x="31.8" y="255.6" width="24.8" height="24.8" overflow="hidden"><g filter="url(#bl4)"><circle cx="5.09" cy="14" r="0.89" fill="#330404"/><circle cx="11.61" cy="9.5" r="0.6" fill="#2f0404"/><circle cx="20.24" cy="9.02" r="0.87" fill="#530404"/><circle cx="16.31" cy="8.8" r="0.87" fill="#3a0404"/><circle cx="6.23" cy="8.2" r="0.82" fill="#460404"/><circle cx="16.84" cy="15.66" r="0.93" fill="#490404"/><circle cx="16.08" cy="23.82" r="0.76" fill="#520404"/><circle cx="0.56" cy="16.53" r="0.76" fill="#4d0404"/><circle cx="21.2" cy="19.4" r="0.7" fill="#4e0404"/><circle cx="2.04" cy="17" r="0.64" fill="#530404"/><circle cx="8.24" cy="20.27" r="0.85" fill="#2e0404"/><circle cx="24.25" cy="16.02" r="0.92" fill="#420404"/><circle cx="1.86" cy="18.35" r="0.63" fill="#2f0404"/><circle cx="8.63" cy="16.81" r="0.71" fill="#530404"/><circle cx="22.95" cy="5.29" r="0.72" fill="#500404"/><circle cx="17.87" cy="7" r="0.75" fill="#350404"/><circle cx="19.38" cy="16.03" r="1" fill="#490404"/><circle cx="16.02" cy="11.94" r="0.66" fill="#3a0404"/><circle cx="6.35" cy="5.89" r="1.21" fill="#c90911"/><circle cx="16.76" cy="22.94" r="1.23" fill="#bd0b10"/><circle cx="5.8" cy="9.54" r="1.21" fill="#d1090a"/><circle cx="18.79" cy="6.41" r="1.38" fill="#b50812"/><circle cx="14.46" cy="16.17" r="1.15" fill="#b20b0f"/><circle cx="1.95" cy="18.88" r="1.34" fill="#c1090d"/><circle cx="15.96" cy="23.34" r="1.21" fill="#d30b12"/><circle cx="13.16" cy="16.67" r="1.21" fill="#b30b0f"/></g><ellipse cx="20.4" cy="24.4" rx="2.9" ry="1.5" fill="#7c7c7c" filter="url(#bl4)"/></svg>
<rect x="57.7" y="255.6" width="24.8" height="24.8" fill="#000"/><svg x="57.7" y="255.6" width="24.8" height="24.8" overflow="hidden"><g filter="url(#bl4)"><circle cx="15.77" cy="15.52" r="0.81" fill="#0d0d4e"/><circle cx="9.11" cy="17.68" r="0.86" fill="#0f0844"/><circle cx="11.49" cy="24.27" r="0.87" fill="#0a0f2d"/><circle cx="11.6" cy="23.33" r="0.88" fill="#0d092e"/><circle cx="16.31" cy="5.55" r="1.05" fill="#0a0f3e"/><circle cx="3.93" cy="19.52" r="0.72" fill="#080d45"/><circle cx="11.58" cy="19.91" r="0.78" fill="#0e094b"/><circle cx="23.82" cy="9.64" r="0.74" fill="#0b103b"/><circle cx="20.67" cy="9.59" r="1.02" fill="#0e0d2e"/><circle cx="6.77" cy="24.13" r="0.87" fill="#0f0c3e"/><circle cx="23.6" cy="1.21" r="0.86" fill="#0f0f30"/><circle cx="19.18" cy="19.76" r="0.8" fill="#09103d"/><circle cx="1.49" cy="5.46" r="0.95" fill="#09092e"/><circle cx="24.24" cy="15.1" r="1.12" fill="#0d0c48"/><circle cx="13.32" cy="19.89" r="0.76" fill="#101039"/><circle cx="7.64" cy="0.63" r="1.06" fill="#090f3a"/><circle cx="3.41" cy="19.04" r="1.07" fill="#0b0835"/><circle cx="12.84" cy="22.73" r="1.06" fill="#090b40"/><circle cx="10.02" cy="21.78" r="1.02" fill="#0e0c3b"/><circle cx="19.16" cy="10.67" r="0.78" fill="#090e2f"/><circle cx="24.46" cy="17.96" r="0.71" fill="#0f0846"/><circle cx="23.31" cy="4.57" r="0.84" fill="#0e0a36"/><circle cx="2.58" cy="10.92" r="1.09" fill="#0d0e4a"/><circle cx="4.12" cy="2.32" r="0.9" fill="#0b1034"/><circle cx="12.32" cy="9.98" r="0.75" fill="#0a102f"/><circle cx="18.74" cy="17.14" r="0.95" fill="#090c2e"/><circle cx="0.53" cy="14.3" r="0.73" fill="#0f0f3b"/><circle cx="14.03" cy="9.75" r="0.77" fill="#0f104c"/><circle cx="10.59" cy="15.24" r="0.89" fill="#0d0e4a"/><circle cx="15.51" cy="20.94" r="1.06" fill="#0f0d3b"/><circle cx="8.99" cy="14.56" r="1.09" fill="#0a0833"/><circle cx="19.38" cy="21.09" r="0.81" fill="#0f0c49"/><circle cx="2.72" cy="14.44" r="1.11" fill="#0f0d4d"/><circle cx="6.72" cy="13.24" r="1.07" fill="#0e0f4b"/><circle cx="19.16" cy="15.51" r="0.82" fill="#080d4b"/><circle cx="3.29" cy="17.35" r="0.86" fill="#0f0d4b"/><circle cx="2.24" cy="14.55" r="0.99" fill="#090d38"/><circle cx="21.65" cy="12.05" r="0.72" fill="#0d0837"/><circle cx="0.73" cy="5.98" r="1.07" fill="#080b47"/><circle cx="4.34" cy="7.53" r="0.84" fill="#090b30"/><circle cx="19.57" cy="21.68" r="1.06" fill="#0a0b4d"/><circle cx="12.29" cy="4.34" r="0.83" fill="#0c0b3c"/><circle cx="6.19" cy="2.43" r="0.78" fill="#0b093e"/><circle cx="19.79" cy="19.56" r="0.98" fill="#0a0936"/><circle cx="8.37" cy="18.61" r="0.92" fill="#0a094c"/><circle cx="18.42" cy="7.16" r="0.85" fill="#0e0e35"/><circle cx="15.99" cy="19.16" r="1.12" fill="#09093c"/><circle cx="7.3" cy="11.14" r="0.82" fill="#0b084c"/><circle cx="10.49" cy="6.94" r="1.12" fill="#0a0c37"/><circle cx="8.37" cy="10.37" r="0.73" fill="#0a094a"/><circle cx="8.3" cy="13.46" r="0.94" fill="#100f36"/><circle cx="21.85" cy="15.42" r="0.86" fill="#0d0f3d"/><circle cx="22.71" cy="7.64" r="0.82" fill="#0d1038"/><circle cx="12.71" cy="10.13" r="0.77" fill="#0a0934"/><circle cx="11.51" cy="19.21" r="0.79" fill="#0b0d34"/><circle cx="10.91" cy="5.6" r="0.95" fill="#090f41"/><circle cx="23.24" cy="11.11" r="0.86" fill="#090b2d"/><circle cx="9.59" cy="8.49" r="1.06" fill="#101040"/><circle cx="20.53" cy="13.19" r="0.87" fill="#0b1047"/><circle cx="4" cy="19.2" r="1.12" fill="#0e093d"/><circle cx="7.3" cy="1.37" r="1.11" fill="#080846"/><circle cx="7.11" cy="10.5" r="0.92" fill="#080e2f"/><circle cx="12.07" cy="0.83" r="0.7" fill="#0c0c4f"/><circle cx="20.56" cy="5.28" r="0.87" fill="#100e4d"/><circle cx="5.97" cy="20.33" r="0.8" fill="#100f4b"/><circle cx="3.49" cy="12.41" r="0.95" fill="#0c0b4e"/><circle cx="22.78" cy="13.2" r="0.84" fill="#080f3e"/><circle cx="20.51" cy="12.54" r="0.8" fill="#0c1047"/><circle cx="10.13" cy="3.75" r="0.9" fill="#0f0c49"/><circle cx="19.4" cy="18.88" r="0.87" fill="#090c42"/><circle cx="17.64" cy="7.97" r="0.96" fill="#0f0a39"/><circle cx="15.12" cy="1.18" r="0.71" fill="#0a0a41"/><circle cx="6.84" cy="9.39" r="1.11" fill="#0c0d2e"/><circle cx="10.37" cy="19.82" r="0.91" fill="#0b0a4d"/><circle cx="16.39" cy="20.17" r="0.86" fill="#0b103d"/><circle cx="11.13" cy="24.37" r="0.94" fill="#0c0f35"/><circle cx="13.84" cy="3.27" r="0.75" fill="#0e0f4f"/><circle cx="14.76" cy="11.66" r="1.1" fill="#0c0e33"/><circle cx="9.17" cy="20.58" r="1.06" fill="#100a44"/><circle cx="6.08" cy="20.59" r="0.85" fill="#0a083c"/></g><g filter="url(#bl4)" style="mix-blend-mode:screen"><circle cx="5.09" cy="14" r="0.89" fill="#330404"/><circle cx="11.61" cy="9.5" r="0.6" fill="#2f0404"/><circle cx="20.24" cy="9.02" r="0.87" fill="#530404"/><circle cx="16.31" cy="8.8" r="0.87" fill="#3a0404"/><circle cx="6.23" cy="8.2" r="0.82" fill="#460404"/><circle cx="16.84" cy="15.66" r="0.93" fill="#490404"/><circle cx="16.08" cy="23.82" r="0.76" fill="#520404"/><circle cx="0.56" cy="16.53" r="0.76" fill="#4d0404"/><circle cx="21.2" cy="19.4" r="0.7" fill="#4e0404"/><circle cx="2.04" cy="17" r="0.64" fill="#530404"/><circle cx="8.24" cy="20.27" r="0.85" fill="#2e0404"/><circle cx="24.25" cy="16.02" r="0.92" fill="#420404"/><circle cx="1.86" cy="18.35" r="0.63" fill="#2f0404"/><circle cx="8.63" cy="16.81" r="0.71" fill="#530404"/><circle cx="22.95" cy="5.29" r="0.72" fill="#500404"/><circle cx="17.87" cy="7" r="0.75" fill="#350404"/><circle cx="19.38" cy="16.03" r="1" fill="#490404"/><circle cx="16.02" cy="11.94" r="0.66" fill="#3a0404"/><circle cx="6.35" cy="5.89" r="1.21" fill="#c90911"/><circle cx="16.76" cy="22.94" r="1.23" fill="#bd0b10"/><circle cx="5.8" cy="9.54" r="1.21" fill="#d1090a"/><circle cx="18.79" cy="6.41" r="1.38" fill="#b50812"/><circle cx="14.46" cy="16.17" r="1.15" fill="#b20b0f"/><circle cx="1.95" cy="18.88" r="1.34" fill="#c1090d"/><circle cx="15.96" cy="23.34" r="1.21" fill="#d30b12"/><circle cx="13.16" cy="16.67" r="1.21" fill="#b30b0f"/></g><ellipse cx="20.4" cy="24.4" rx="2.9" ry="1.5" fill="#7c7c7c" filter="url(#bl4)"/></svg>
<rect x="5.9" y="281.5" width="24.8" height="24.8" fill="#000"/><svg x="5.9" y="281.5" width="24.8" height="24.8" overflow="hidden"><g filter="url(#bl4)"><circle cx="12.53" cy="4.38" r="0.86" fill="#0a0e2f"/><circle cx="21.09" cy="20.68" r="0.93" fill="#0b0d39"/><circle cx="15.91" cy="2.92" r="0.84" fill="#100b3c"/><circle cx="14.16" cy="15.57" r="0.72" fill="#090938"/><circle cx="5.07" cy="1.06" r="1.13" fill="#080f33"/><circle cx="6.1" cy="12.57" r="0.71" fill="#0a0836"/><circle cx="13.17" cy="6.9" r="0.94" fill="#090c45"/><circle cx="19.27" cy="12.3" r="0.95" fill="#0b083a"/><circle cx="7.55" cy="2.72" r="0.78" fill="#080e43"/><circle cx="5.11" cy="10.87" r="0.74" fill="#0c0b32"/><circle cx="5.1" cy="8.31" r="0.7" fill="#090b50"/><circle cx="0.92" cy="20.92" r="0.71" fill="#0d0a40"/><circle cx="2.57" cy="8.68" r="1.13" fill="#0f084c"/><circle cx="10.4" cy="21.63" r="0.88" fill="#080842"/><circle cx="10.57" cy="0.74" r="0.82" fill="#0a0b2d"/><circle cx="10.91" cy="3.88" r="0.85" fill="#0f0d31"/><circle cx="12.36" cy="17.52" r="0.84" fill="#0c0838"/><circle cx="22.05" cy="0.45" r="0.74" fill="#0b0a43"/><circle cx="13.13" cy="21.11" r="0.97" fill="#100a39"/><circle cx="22.46" cy="23.68" r="0.94" fill="#0a0c3b"/><circle cx="7.31" cy="5.19" r="0.81" fill="#0e0b4c"/><circle cx="14.4" cy="23.38" r="0.75" fill="#0d0945"/><circle cx="11.81" cy="5.59" r="1.12" fill="#0a0f4a"/><circle cx="10.1" cy="6.41" r="0.9" fill="#090945"/><circle cx="6.37" cy="6.1" r="1.13" fill="#0f0f4e"/><circle cx="11.34" cy="3.01" r="0.94" fill="#0e0c2d"/><circle cx="4.55" cy="18.59" r="0.94" fill="#100f38"/><circle cx="24.1" cy="10.87" r="0.74" fill="#100c46"/><circle cx="20.42" cy="0.38" r="1.06" fill="#0f0c3b"/><circle cx="22.45" cy="16.26" r="0.82" fill="#0f0942"/><circle cx="0.48" cy="8.78" r="0.77" fill="#0e0a47"/><circle cx="12.77" cy="14.05" r="0.95" fill="#0d0f45"/><circle cx="16.3" cy="16.39" r="0.92" fill="#0c0d3d"/><circle cx="2.27" cy="21.63" r="1.1" fill="#100f45"/><circle cx="22.18" cy="12.35" r="1" fill="#0c0b46"/><circle cx="10.51" cy="14.66" r="0.75" fill="#0c0f41"/><circle cx="13.74" cy="2.89" r="0.96" fill="#100d3d"/><circle cx="6.83" cy="14.66" r="0.86" fill="#0c0a36"/><circle cx="7" cy="2.24" r="0.81" fill="#0a0d4c"/><circle cx="15.11" cy="18.8" r="0.72" fill="#100f4f"/><circle cx="11.58" cy="19.66" r="1.06" fill="#100841"/><circle cx="9.6" cy="16.92" r="0.82" fill="#090d38"/><circle cx="16.83" cy="18.39" r="1.09" fill="#0c0e4a"/><circle cx="15.53" cy="3" r="1.13" fill="#0f0846"/><circle cx="11.4" cy="16.82" r="0.99" fill="#100b42"/><circle cx="0.59" cy="7.65" r="1.09" fill="#080944"/><circle cx="20.98" cy="0.84" r="0.75" fill="#100e33"/><circle cx="1.74" cy="19.92" r="0.87" fill="#08083b"/><circle cx="7.35" cy="0.67" r="0.91" fill="#100936"/><circle cx="10.52" cy="8.46" r="0.88" fill="#090938"/><circle cx="9.31" cy="18.93" r="0.98" fill="#0a0a3f"/><circle cx="8.37" cy="2.25" r="0.86" fill="#0a0e42"/><circle cx="24.2" cy="9.91" r="0.89" fill="#0a0a49"/><circle cx="23.86" cy="4.93" r="1.09" fill="#0e0d50"/><circle cx="5.41" cy="22.33" r="1.06" fill="#0e0b4e"/><circle cx="2.01" cy="3.06" r="0.77" fill="#0b0b49"/><circle cx="15.57" cy="4.95" r="0.89" fill="#0b0c35"/><circle cx="13" cy="23.53" r="0.85" fill="#0b0e43"/><circle cx="1.83" cy="7.99" r="0.96" fill="#0a0844"/><circle cx="7.42" cy="2.87" r="1.09" fill="#0d0845"/><circle cx="21.52" cy="9.41" r="0.95" fill="#0f0e42"/><circle cx="18.47" cy="4.88" r="0.96" fill="#0c0b2d"/><circle cx="24.44" cy="4.71" r="1" fill="#080849"/><circle cx="17.77" cy="16.82" r="0.81" fill="#0f0949"/><circle cx="10.57" cy="23.49" r="1.14" fill="#0a0e41"/><circle cx="11.33" cy="16.03" r="0.77" fill="#100950"/><circle cx="0.79" cy="8.37" r="0.97" fill="#0c093f"/><circle cx="15.42" cy="19.24" r="1.04" fill="#0a0f2e"/><circle cx="18.08" cy="18.89" r="1.1" fill="#0c0b40"/><circle cx="8.04" cy="20.47" r="0.8" fill="#0a0941"/><circle cx="12.63" cy="22.44" r="1.03" fill="#0a0c36"/><circle cx="19.41" cy="6.63" r="1.08" fill="#0d0843"/><circle cx="21.86" cy="23.27" r="0.96" fill="#100f41"/><circle cx="4.8" cy="21.28" r="1.08" fill="#0b1046"/><circle cx="17.01" cy="23.93" r="1.05" fill="#0d0b49"/><circle cx="19.83" cy="10.71" r="0.82" fill="#0e0e3e"/><circle cx="12.07" cy="5.62" r="0.98" fill="#0e0d3f"/><circle cx="1.54" cy="12.5" r="0.9" fill="#0e1044"/><circle cx="10.38" cy="20.08" r="1.1" fill="#0d0c35"/><circle cx="18.76" cy="12.96" r="0.84" fill="#0f103a"/></g><ellipse cx="20.4" cy="24.4" rx="2.9" ry="1.5" fill="#7c7c7c" filter="url(#bl4)"/></svg>
<rect x="31.8" y="281.5" width="24.8" height="24.8" fill="#000"/><svg x="31.8" y="281.5" width="24.8" height="24.8" overflow="hidden"><g filter="url(#bl4)"><circle cx="10.05" cy="8.47" r="0.89" fill="#4a0404"/><circle cx="17.68" cy="11.9" r="1" fill="#330404"/><circle cx="13.4" cy="23.85" r="0.74" fill="#490404"/><circle cx="15.11" cy="5.52" r="0.86" fill="#3c0404"/><circle cx="12.55" cy="3.56" r="0.8" fill="#4c0404"/><circle cx="6.38" cy="4.52" r="0.88" fill="#320404"/><circle cx="1.25" cy="4.18" r="0.82" fill="#460404"/><circle cx="2.75" cy="21.32" r="0.61" fill="#310404"/><circle cx="9.44" cy="2.1" r="0.8" fill="#550404"/><circle cx="8.7" cy="18.61" r="0.98" fill="#480404"/><circle cx="5.15" cy="14.48" r="1" fill="#3f0404"/><circle cx="20.47" cy="0.76" r="0.78" fill="#550404"/><circle cx="23.56" cy="23.37" r="0.65" fill="#420404"/><circle cx="12.28" cy="22.9" r="0.9" fill="#420404"/><circle cx="11.73" cy="22.89" r="0.84" fill="#2e0404"/><circle cx="20.37" cy="16.58" r="0.74" fill="#2d0404"/><circle cx="19.19" cy="19.15" r="0.84" fill="#460404"/><circle cx="20.36" cy="15.88" r="0.79" fill="#540404"/><circle cx="8.05" cy="2.98" r="0.89" fill="#2f0404"/><circle cx="11.2" cy="16.36" r="0.7" fill="#550404"/><circle cx="1.38" cy="11.87" r="0.86" fill="#310404"/><circle cx="18.74" cy="6.57" r="0.82" fill="#520404"/><circle cx="15.62" cy="4.9" r="0.68" fill="#4e0404"/><circle cx="3.96" cy="17.32" r="0.83" fill="#350404"/><circle cx="3.4" cy="2.44" r="0.99" fill="#2f0404"/><circle cx="21.03" cy="2.89" r="0.69" fill="#2e0404"/><circle cx="1.53" cy="23.47" r="0.78" fill="#500404"/><circle cx="18.1" cy="6.23" r="0.96" fill="#390404"/><circle cx="2.61" cy="14.85" r="0.83" fill="#2d0404"/><circle cx="23.28" cy="10.78" r="0.84" fill="#360404"/><circle cx="18.42" cy="18.82" r="0.81" fill="#500404"/><circle cx="8.36" cy="1.5" r="0.9" fill="#530404"/><circle cx="2.6" cy="21.29" r="0.84" fill="#400404"/><circle cx="23.71" cy="9.33" r="0.74" fill="#470404"/><circle cx="7.77" cy="18.26" r="0.83" fill="#420404"/><circle cx="2.88" cy="13.48" r="0.86" fill="#4b0404"/><circle cx="2.58" cy="4.04" r="0.7" fill="#400404"/><circle cx="7.8" cy="20.3" r="0.94" fill="#390404"/><circle cx="15.64" cy="1.91" r="0.81" fill="#440404"/><circle cx="19.27" cy="9.11" r="0.71" fill="#340404"/><circle cx="7.9" cy="15.01" r="1.01" fill="#b1110d"/><circle cx="21.41" cy="14.48" r="1.28" fill="#c50b0e"/><circle cx="15.69" cy="23.6" r="1.19" fill="#c40d12"/><circle cx="17.17" cy="11.92" r="1.22" fill="#d21208"/><circle cx="20.43" cy="19.46" r="1.38" fill="#bd0e0f"/><circle cx="21.35" cy="17.97" r="1.31" fill="#b70a0d"/><circle cx="16.1" cy="3.34" r="1.21" fill="#b00e08"/><circle cx="4.94" cy="16.63" r="1.23" fill="#bf0a09"/></g><ellipse cx="20.4" cy="24.4" rx="2.9" ry="1.5" fill="#7c7c7c" filter="url(#bl4)"/></svg>
<rect x="57.7" y="281.5" width="24.8" height="24.8" fill="#000"/><svg x="57.7" y="281.5" width="24.8" height="24.8" overflow="hidden"><g filter="url(#bl4)"><circle cx="12.53" cy="4.38" r="0.86" fill="#0a0e2f"/><circle cx="21.09" cy="20.68" r="0.93" fill="#0b0d39"/><circle cx="15.91" cy="2.92" r="0.84" fill="#100b3c"/><circle cx="14.16" cy="15.57" r="0.72" fill="#090938"/><circle cx="5.07" cy="1.06" r="1.13" fill="#080f33"/><circle cx="6.1" cy="12.57" r="0.71" fill="#0a0836"/><circle cx="13.17" cy="6.9" r="0.94" fill="#090c45"/><circle cx="19.27" cy="12.3" r="0.95" fill="#0b083a"/><circle cx="7.55" cy="2.72" r="0.78" fill="#080e43"/><circle cx="5.11" cy="10.87" r="0.74" fill="#0c0b32"/><circle cx="5.1" cy="8.31" r="0.7" fill="#090b50"/><circle cx="0.92" cy="20.92" r="0.71" fill="#0d0a40"/><circle cx="2.57" cy="8.68" r="1.13" fill="#0f084c"/><circle cx="10.4" cy="21.63" r="0.88" fill="#080842"/><circle cx="10.57" cy="0.74" r="0.82" fill="#0a0b2d"/><circle cx="10.91" cy="3.88" r="0.85" fill="#0f0d31"/><circle cx="12.36" cy="17.52" r="0.84" fill="#0c0838"/><circle cx="22.05" cy="0.45" r="0.74" fill="#0b0a43"/><circle cx="13.13" cy="21.11" r="0.97" fill="#100a39"/><circle cx="22.46" cy="23.68" r="0.94" fill="#0a0c3b"/><circle cx="7.31" cy="5.19" r="0.81" fill="#0e0b4c"/><circle cx="14.4" cy="23.38" r="0.75" fill="#0d0945"/><circle cx="11.81" cy="5.59" r="1.12" fill="#0a0f4a"/><circle cx="10.1" cy="6.41" r="0.9" fill="#090945"/><circle cx="6.37" cy="6.1" r="1.13" fill="#0f0f4e"/><circle cx="11.34" cy="3.01" r="0.94" fill="#0e0c2d"/><circle cx="4.55" cy="18.59" r="0.94" fill="#100f38"/><circle cx="24.1" cy="10.87" r="0.74" fill="#100c46"/><circle cx="20.42" cy="0.38" r="1.06" fill="#0f0c3b"/><circle cx="22.45" cy="16.26" r="0.82" fill="#0f0942"/><circle cx="0.48" cy="8.78" r="0.77" fill="#0e0a47"/><circle cx="12.77" cy="14.05" r="0.95" fill="#0d0f45"/><circle cx="16.3" cy="16.39" r="0.92" fill="#0c0d3d"/><circle cx="2.27" cy="21.63" r="1.1" fill="#100f45"/><circle cx="22.18" cy="12.35" r="1" fill="#0c0b46"/><circle cx="10.51" cy="14.66" r="0.75" fill="#0c0f41"/><circle cx="13.74" cy="2.89" r="0.96" fill="#100d3d"/><circle cx="6.83" cy="14.66" r="0.86" fill="#0c0a36"/><circle cx="7" cy="2.24" r="0.81" fill="#0a0d4c"/><circle cx="15.11" cy="18.8" r="0.72" fill="#100f4f"/><circle cx="11.58" cy="19.66" r="1.06" fill="#100841"/><circle cx="9.6" cy="16.92" r="0.82" fill="#090d38"/><circle cx="16.83" cy="18.39" r="1.09" fill="#0c0e4a"/><circle cx="15.53" cy="3" r="1.13" fill="#0f0846"/><circle cx="11.4" cy="16.82" r="0.99" fill="#100b42"/><circle cx="0.59" cy="7.65" r="1.09" fill="#080944"/><circle cx="20.98" cy="0.84" r="0.75" fill="#100e33"/><circle cx="1.74" cy="19.92" r="0.87" fill="#08083b"/><circle cx="7.35" cy="0.67" r="0.91" fill="#100936"/><circle cx="10.52" cy="8.46" r="0.88" fill="#090938"/><circle cx="9.31" cy="18.93" r="0.98" fill="#0a0a3f"/><circle cx="8.37" cy="2.25" r="0.86" fill="#0a0e42"/><circle cx="24.2" cy="9.91" r="0.89" fill="#0a0a49"/><circle cx="23.86" cy="4.93" r="1.09" fill="#0e0d50"/><circle cx="5.41" cy="22.33" r="1.06" fill="#0e0b4e"/><circle cx="2.01" cy="3.06" r="0.77" fill="#0b0b49"/><circle cx="15.57" cy="4.95" r="0.89" fill="#0b0c35"/><circle cx="13" cy="23.53" r="0.85" fill="#0b0e43"/><circle cx="1.83" cy="7.99" r="0.96" fill="#0a0844"/><circle cx="7.42" cy="2.87" r="1.09" fill="#0d0845"/><circle cx="21.52" cy="9.41" r="0.95" fill="#0f0e42"/><circle cx="18.47" cy="4.88" r="0.96" fill="#0c0b2d"/><circle cx="24.44" cy="4.71" r="1" fill="#080849"/><circle cx="17.77" cy="16.82" r="0.81" fill="#0f0949"/><circle cx="10.57" cy="23.49" r="1.14" fill="#0a0e41"/><circle cx="11.33" cy="16.03" r="0.77" fill="#100950"/><circle cx="0.79" cy="8.37" r="0.97" fill="#0c093f"/><circle cx="15.42" cy="19.24" r="1.04" fill="#0a0f2e"/><circle cx="18.08" cy="18.89" r="1.1" fill="#0c0b40"/><circle cx="8.04" cy="20.47" r="0.8" fill="#0a0941"/><circle cx="12.63" cy="22.44" r="1.03" fill="#0a0c36"/><circle cx="19.41" cy="6.63" r="1.08" fill="#0d0843"/><circle cx="21.86" cy="23.27" r="0.96" fill="#100f41"/><circle cx="4.8" cy="21.28" r="1.08" fill="#0b1046"/><circle cx="17.01" cy="23.93" r="1.05" fill="#0d0b49"/><circle cx="19.83" cy="10.71" r="0.82" fill="#0e0e3e"/><circle cx="12.07" cy="5.62" r="0.98" fill="#0e0d3f"/><circle cx="1.54" cy="12.5" r="0.9" fill="#0e1044"/><circle cx="10.38" cy="20.08" r="1.1" fill="#0d0c35"/><circle cx="18.76" cy="12.96" r="0.84" fill="#0f103a"/></g><g filter="url(#bl4)" style="mix-blend-mode:screen"><circle cx="10.05" cy="8.47" r="0.89" fill="#4a0404"/><circle cx="17.68" cy="11.9" r="1" fill="#330404"/><circle cx="13.4" cy="23.85" r="0.74" fill="#490404"/><circle cx="15.11" cy="5.52" r="0.86" fill="#3c0404"/><circle cx="12.55" cy="3.56" r="0.8" fill="#4c0404"/><circle cx="6.38" cy="4.52" r="0.88" fill="#320404"/><circle cx="1.25" cy="4.18" r="0.82" fill="#460404"/><circle cx="2.75" cy="21.32" r="0.61" fill="#310404"/><circle cx="9.44" cy="2.1" r="0.8" fill="#550404"/><circle cx="8.7" cy="18.61" r="0.98" fill="#480404"/><circle cx="5.15" cy="14.48" r="1" fill="#3f0404"/><circle cx="20.47" cy="0.76" r="0.78" fill="#550404"/><circle cx="23.56" cy="23.37" r="0.65" fill="#420404"/><circle cx="12.28" cy="22.9" r="0.9" fill="#420404"/><circle cx="11.73" cy="22.89" r="0.84" fill="#2e0404"/><circle cx="20.37" cy="16.58" r="0.74" fill="#2d0404"/><circle cx="19.19" cy="19.15" r="0.84" fill="#460404"/><circle cx="20.36" cy="15.88" r="0.79" fill="#540404"/><circle cx="8.05" cy="2.98" r="0.89" fill="#2f0404"/><circle cx="11.2" cy="16.36" r="0.7" fill="#550404"/><circle cx="1.38" cy="11.87" r="0.86" fill="#310404"/><circle cx="18.74" cy="6.57" r="0.82" fill="#520404"/><circle cx="15.62" cy="4.9" r="0.68" fill="#4e0404"/><circle cx="3.96" cy="17.32" r="0.83" fill="#350404"/><circle cx="3.4" cy="2.44" r="0.99" fill="#2f0404"/><circle cx="21.03" cy="2.89" r="0.69" fill="#2e0404"/><circle cx="1.53" cy="23.47" r="0.78" fill="#500404"/><circle cx="18.1" cy="6.23" r="0.96" fill="#390404"/><circle cx="2.61" cy="14.85" r="0.83" fill="#2d0404"/><circle cx="23.28" cy="10.78" r="0.84" fill="#360404"/><circle cx="18.42" cy="18.82" r="0.81" fill="#500404"/><circle cx="8.36" cy="1.5" r="0.9" fill="#530404"/><circle cx="2.6" cy="21.29" r="0.84" fill="#400404"/><circle cx="23.71" cy="9.33" r="0.74" fill="#470404"/><circle cx="7.77" cy="18.26" r="0.83" fill="#420404"/><circle cx="2.88" cy="13.48" r="0.86" fill="#4b0404"/><circle cx="2.58" cy="4.04" r="0.7" fill="#400404"/><circle cx="7.8" cy="20.3" r="0.94" fill="#390404"/><circle cx="15.64" cy="1.91" r="0.81" fill="#440404"/><circle cx="19.27" cy="9.11" r="0.71" fill="#340404"/><circle cx="7.9" cy="15.01" r="1.01" fill="#b1110d"/><circle cx="21.41" cy="14.48" r="1.28" fill="#c50b0e"/><circle cx="15.69" cy="23.6" r="1.19" fill="#c40d12"/><circle cx="17.17" cy="11.92" r="1.22" fill="#d21208"/><circle cx="20.43" cy="19.46" r="1.38" fill="#bd0e0f"/><circle cx="21.35" cy="17.97" r="1.31" fill="#b70a0d"/><circle cx="16.1" cy="3.34" r="1.21" fill="#b00e08"/><circle cx="4.94" cy="16.63" r="1.23" fill="#bf0a09"/></g><ellipse cx="20.4" cy="24.4" rx="2.9" ry="1.5" fill="#7c7c7c" filter="url(#bl4)"/></svg>
<text x="18.3" y="226" font-size="3.1" fill="#555" text-anchor="middle" font-weight="normal" font-family="Liberation Sans">DAPI</text>
<text x="44.2" y="226" font-size="3.1" fill="#555" text-anchor="middle" font-weight="normal" font-family="Liberation Sans">HK2</text>
<text x="70.1" y="226" font-size="3.1" fill="#555" text-anchor="middle" font-weight="normal" font-family="Liberation Sans">MERGE</text>
<text x="0.2" y="242.2" font-size="3.3" fill="#777" text-anchor="middle" font-weight="normal" font-family="Liberation Sans" transform="rotate(90 0.2 242.2)">NC</text>
<text x="0.2" y="268" font-size="3.3" fill="#777" text-anchor="middle" font-weight="normal" font-family="Liberation Sans" transform="rotate(90 0.2 268)">Sh-SLC45A4-1</text>
<text x="0.2" y="293.9" font-size="3.3" fill="#777" text-anchor="middle" font-weight="normal" font-family="Liberation Sans" transform="rotate(90 0.2 293.9)">Sh-SLC45A4-2</text>
</svg>
</body></html>
